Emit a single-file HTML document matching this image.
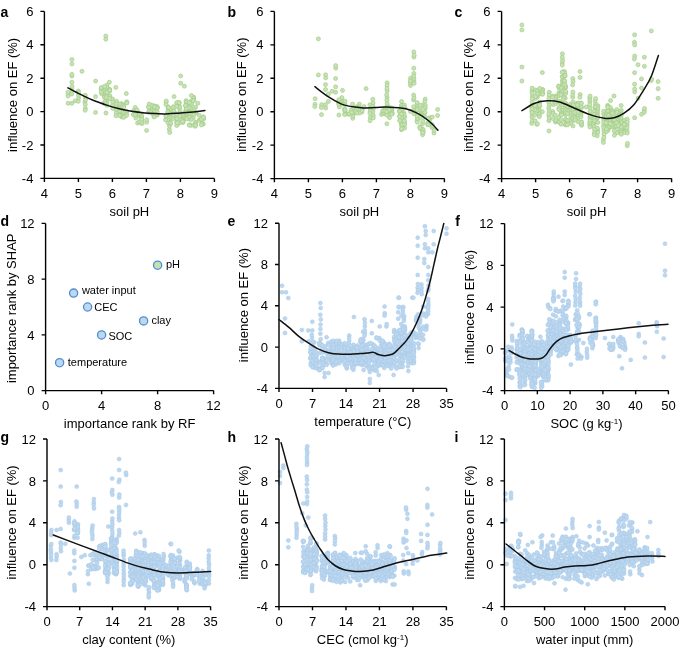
<!DOCTYPE html><html><head><meta charset="utf-8"><style>html,body{margin:0;padding:0;background:#fff;}svg{display:block;filter:blur(0.3px);}text{font-family:"Liberation Sans", sans-serif;}</style></head><body>
<svg width="685" height="656" viewBox="0 0 685 656">
<rect width="685" height="656" fill="#fff"/>
<g fill="#c8e2b7" stroke="#a3ce86" stroke-width="0.7"><circle cx="186" cy="105.8" r="2.0"/><circle cx="185.7" cy="114.5" r="2.0"/><circle cx="186.2" cy="109.7" r="2.0"/><circle cx="148.6" cy="112.4" r="2.0"/><circle cx="176.6" cy="118" r="2.0"/><circle cx="189.2" cy="113.6" r="2.0"/><circle cx="107" cy="99" r="2.0"/><circle cx="78.3" cy="91" r="2.0"/><circle cx="123.2" cy="113.6" r="2.0"/><circle cx="199.4" cy="119.8" r="2.0"/><circle cx="121.5" cy="103.6" r="2.0"/><circle cx="186" cy="102.7" r="2.0"/><circle cx="166.1" cy="102.1" r="2.0"/><circle cx="191.1" cy="101.7" r="2.0"/><circle cx="123.6" cy="105.3" r="2.0"/><circle cx="176.8" cy="115.6" r="2.0"/><circle cx="153.9" cy="105.7" r="2.0"/><circle cx="189.3" cy="109.1" r="2.0"/><circle cx="189.2" cy="114" r="2.0"/><circle cx="119.5" cy="114.3" r="2.0"/><circle cx="203.5" cy="118.7" r="2.0"/><circle cx="186.2" cy="108.5" r="2.0"/><circle cx="78.6" cy="92.9" r="2.0"/><circle cx="179.6" cy="109.4" r="2.0"/><circle cx="135.8" cy="115" r="2.0"/><circle cx="186.1" cy="100.7" r="2.0"/><circle cx="121.8" cy="115.3" r="2.0"/><circle cx="85.3" cy="97.4" r="2.0"/><circle cx="179.3" cy="106" r="2.0"/><circle cx="119.3" cy="109.5" r="2.0"/><circle cx="189.4" cy="119.1" r="2.0"/><circle cx="121.8" cy="117" r="2.0"/><circle cx="173.3" cy="108.9" r="2.0"/><circle cx="105.8" cy="36" r="2.0"/><circle cx="177" cy="103.2" r="2.0"/><circle cx="109.7" cy="96.3" r="2.0"/><circle cx="188.9" cy="111.3" r="2.0"/><circle cx="166.2" cy="119.2" r="2.0"/><circle cx="191.4" cy="102.7" r="2.0"/><circle cx="166.2" cy="116.6" r="2.0"/><circle cx="71.8" cy="88.7" r="2.0"/><circle cx="195.6" cy="107.2" r="2.0"/><circle cx="170.8" cy="119.2" r="2.0"/><circle cx="169.3" cy="129.4" r="2.0"/><circle cx="183" cy="120.7" r="2.0"/><circle cx="116.6" cy="101.3" r="2.0"/><circle cx="149" cy="106.3" r="2.0"/><circle cx="126.7" cy="111.6" r="2.0"/><circle cx="135.7" cy="118" r="2.0"/><circle cx="170.5" cy="112.5" r="2.0"/><circle cx="101.1" cy="89.1" r="2.0"/><circle cx="193.2" cy="111.8" r="2.0"/><circle cx="182.5" cy="118.4" r="2.0"/><circle cx="151.3" cy="106.4" r="2.0"/><circle cx="107" cy="88.6" r="2.0"/><circle cx="168.2" cy="108" r="2.0"/><circle cx="106.4" cy="88.2" r="2.0"/><circle cx="139.7" cy="122.2" r="2.0"/><circle cx="199.6" cy="120.5" r="2.0"/><circle cx="105" cy="102.5" r="2.0"/><circle cx="185.7" cy="116.9" r="2.0"/><circle cx="71.9" cy="59.4" r="2.0"/><circle cx="167.8" cy="112.1" r="2.0"/><circle cx="173.3" cy="118.6" r="2.0"/><circle cx="179.8" cy="122.8" r="2.0"/><circle cx="84.9" cy="102.1" r="2.0"/><circle cx="166.1" cy="104.6" r="2.0"/><circle cx="104.7" cy="103.4" r="2.0"/><circle cx="166.3" cy="101" r="2.0"/><circle cx="154.1" cy="109.6" r="2.0"/><circle cx="123.2" cy="107.7" r="2.0"/><circle cx="186.6" cy="102.1" r="2.0"/><circle cx="106.6" cy="104.1" r="2.0"/><circle cx="193.7" cy="112.8" r="2.0"/><circle cx="151.4" cy="108.7" r="2.0"/><circle cx="166.2" cy="119" r="2.0"/><circle cx="185.6" cy="118.3" r="2.0"/><circle cx="109.6" cy="98.5" r="2.0"/><circle cx="195.5" cy="122.1" r="2.0"/><circle cx="193.6" cy="113.4" r="2.0"/><circle cx="189.1" cy="113.4" r="2.0"/><circle cx="193.2" cy="117.8" r="2.0"/><circle cx="185.8" cy="106.1" r="2.0"/><circle cx="151.5" cy="110.2" r="2.0"/><circle cx="116.1" cy="109.7" r="2.0"/><circle cx="176.5" cy="122" r="2.0"/><circle cx="168.3" cy="109.1" r="2.0"/><circle cx="169.5" cy="126" r="2.0"/><circle cx="201.7" cy="119.6" r="2.0"/><circle cx="68.3" cy="94.2" r="2.0"/><circle cx="71.8" cy="103.3" r="2.0"/><circle cx="135.2" cy="107.4" r="2.0"/><circle cx="121.2" cy="107" r="2.0"/><circle cx="177.1" cy="115" r="2.0"/><circle cx="188.9" cy="109.6" r="2.0"/><circle cx="203.4" cy="124.1" r="2.0"/><circle cx="95.6" cy="81" r="2.0"/><circle cx="106.7" cy="89.2" r="2.0"/><circle cx="173.4" cy="112.5" r="2.0"/><circle cx="183.1" cy="116.9" r="2.0"/><circle cx="137.6" cy="123.1" r="2.0"/><circle cx="199.2" cy="115.3" r="2.0"/><circle cx="104.4" cy="90.3" r="2.0"/><circle cx="71.9" cy="76" r="2.0"/><circle cx="101.5" cy="87.8" r="2.0"/><circle cx="116.6" cy="106.9" r="2.0"/><circle cx="85.3" cy="104.4" r="2.0"/><circle cx="180.7" cy="83.2" r="2.0"/><circle cx="154.3" cy="111.3" r="2.0"/><circle cx="141.8" cy="119.8" r="2.0"/><circle cx="195.3" cy="124.9" r="2.0"/><circle cx="189.4" cy="104.4" r="2.0"/><circle cx="191.1" cy="113.8" r="2.0"/><circle cx="104.9" cy="102.9" r="2.0"/><circle cx="123.6" cy="112.6" r="2.0"/><circle cx="106.8" cy="97.8" r="2.0"/><circle cx="173.5" cy="106.7" r="2.0"/><circle cx="189" cy="112.3" r="2.0"/><circle cx="109.8" cy="95.9" r="2.0"/><circle cx="142" cy="123.6" r="2.0"/><circle cx="154.4" cy="106.8" r="2.0"/><circle cx="191.2" cy="119.5" r="2.0"/><circle cx="168.5" cy="120.7" r="2.0"/><circle cx="109.7" cy="91.2" r="2.0"/><circle cx="139.2" cy="121.8" r="2.0"/><circle cx="136.8" cy="110.4" r="2.0"/><circle cx="85.3" cy="108.3" r="2.0"/><circle cx="202" cy="123.7" r="2.0"/><circle cx="195.8" cy="112.4" r="2.0"/><circle cx="174" cy="96.6" r="2.0"/><circle cx="151" cy="107.2" r="2.0"/><circle cx="149.2" cy="110.9" r="2.0"/><circle cx="201.4" cy="125" r="2.0"/><circle cx="141.7" cy="122.1" r="2.0"/><circle cx="95.5" cy="112.4" r="2.0"/><circle cx="195.4" cy="113" r="2.0"/><circle cx="168.3" cy="107" r="2.0"/><circle cx="179.9" cy="107" r="2.0"/><circle cx="106.6" cy="95.9" r="2.0"/><circle cx="180.7" cy="75.9" r="2.0"/><circle cx="126.8" cy="101.8" r="2.0"/><circle cx="177.2" cy="124.9" r="2.0"/><circle cx="115.8" cy="87.4" r="2.0"/><circle cx="104.4" cy="90.9" r="2.0"/><circle cx="149" cy="105.9" r="2.0"/><circle cx="104.7" cy="97.2" r="2.0"/><circle cx="148.7" cy="107.4" r="2.0"/><circle cx="107" cy="101" r="2.0"/><circle cx="167.9" cy="112" r="2.0"/><circle cx="139.4" cy="116.1" r="2.0"/><circle cx="141.6" cy="117.1" r="2.0"/><circle cx="203.4" cy="116.8" r="2.0"/><circle cx="193.7" cy="97.2" r="2.0"/><circle cx="71.6" cy="91.7" r="2.0"/><circle cx="126.6" cy="102.6" r="2.0"/><circle cx="141.6" cy="119.2" r="2.0"/><circle cx="153.8" cy="115.7" r="2.0"/><circle cx="146.6" cy="122.3" r="2.0"/><circle cx="78.6" cy="98.1" r="2.0"/><circle cx="104.9" cy="94.2" r="2.0"/><circle cx="157.1" cy="115.2" r="2.0"/><circle cx="104.5" cy="93.2" r="2.0"/><circle cx="95.5" cy="96.6" r="2.0"/><circle cx="170.4" cy="123.8" r="2.0"/><circle cx="71.9" cy="74.3" r="2.0"/><circle cx="168.3" cy="107.7" r="2.0"/><circle cx="141.6" cy="115.4" r="2.0"/><circle cx="168.5" cy="107.5" r="2.0"/><circle cx="186.6" cy="101.7" r="2.0"/><circle cx="137.3" cy="112.1" r="2.0"/><circle cx="186.6" cy="109.6" r="2.0"/><circle cx="173.6" cy="107.4" r="2.0"/><circle cx="179.3" cy="102.6" r="2.0"/><circle cx="112.6" cy="105.3" r="2.0"/><circle cx="167.8" cy="119.7" r="2.0"/><circle cx="151.6" cy="105.3" r="2.0"/><circle cx="146.7" cy="119.8" r="2.0"/><circle cx="186.7" cy="107.9" r="2.0"/><circle cx="179.5" cy="116.1" r="2.0"/><circle cx="189" cy="117" r="2.0"/><circle cx="195.6" cy="123.9" r="2.0"/><circle cx="191.4" cy="125.3" r="2.0"/><circle cx="168.3" cy="114.8" r="2.0"/><circle cx="170.9" cy="115.2" r="2.0"/><circle cx="101.6" cy="93.7" r="2.0"/><circle cx="169.7" cy="132.5" r="2.0"/><circle cx="157.4" cy="107.6" r="2.0"/><circle cx="193.6" cy="98" r="2.0"/><circle cx="179.9" cy="118.8" r="2.0"/><circle cx="135.8" cy="113.2" r="2.0"/><circle cx="71.9" cy="63.9" r="2.0"/><circle cx="121.7" cy="111.3" r="2.0"/><circle cx="173.9" cy="111.3" r="2.0"/><circle cx="183.1" cy="122" r="2.0"/><circle cx="193.5" cy="110.3" r="2.0"/><circle cx="116.3" cy="112.9" r="2.0"/><circle cx="119.5" cy="115.5" r="2.0"/><circle cx="116" cy="115.7" r="2.0"/><circle cx="123.2" cy="116.7" r="2.0"/><circle cx="104.6" cy="96.4" r="2.0"/><circle cx="193.8" cy="100.4" r="2.0"/><circle cx="165.6" cy="120" r="2.0"/><circle cx="186.6" cy="107.6" r="2.0"/><circle cx="179.9" cy="115.7" r="2.0"/><circle cx="170.2" cy="113.6" r="2.0"/><circle cx="176.7" cy="125.4" r="2.0"/><circle cx="137" cy="110" r="2.0"/><circle cx="72" cy="86.4" r="2.0"/><circle cx="189" cy="113.2" r="2.0"/><circle cx="101.2" cy="91.9" r="2.0"/><circle cx="101.3" cy="87.8" r="2.0"/><circle cx="119.5" cy="111" r="2.0"/><circle cx="149.2" cy="104.1" r="2.0"/><circle cx="203.4" cy="119.2" r="2.0"/><circle cx="139.5" cy="114.1" r="2.0"/><circle cx="85.2" cy="110.3" r="2.0"/><circle cx="82" cy="71.3" r="2.0"/><circle cx="165.9" cy="116" r="2.0"/><circle cx="183" cy="115.7" r="2.0"/><circle cx="156.8" cy="106.4" r="2.0"/><circle cx="177.2" cy="103.5" r="2.0"/><circle cx="119.6" cy="106.6" r="2.0"/><circle cx="153.9" cy="115" r="2.0"/><circle cx="176.9" cy="102.5" r="2.0"/><circle cx="151.6" cy="113" r="2.0"/><circle cx="112.7" cy="99" r="2.0"/><circle cx="195.2" cy="126.3" r="2.0"/><circle cx="71.9" cy="82.2" r="2.0"/><circle cx="186.8" cy="118.7" r="2.0"/><circle cx="106.8" cy="85.2" r="2.0"/><circle cx="106.6" cy="94.2" r="2.0"/><circle cx="107" cy="105.3" r="2.0"/><circle cx="148.8" cy="107.2" r="2.0"/><circle cx="139.5" cy="113.8" r="2.0"/><circle cx="107" cy="87.4" r="2.0"/><circle cx="191.4" cy="104.6" r="2.0"/><circle cx="179.4" cy="113.1" r="2.0"/><circle cx="105.8" cy="39.2" r="2.0"/><circle cx="156.9" cy="107.8" r="2.0"/><circle cx="157" cy="108" r="2.0"/><circle cx="109.6" cy="89.3" r="2.0"/><circle cx="193.9" cy="108.9" r="2.0"/><circle cx="182.8" cy="122.4" r="2.0"/><circle cx="168.2" cy="122.9" r="2.0"/><circle cx="85.5" cy="100" r="2.0"/><circle cx="126.6" cy="114.3" r="2.0"/><circle cx="133.5" cy="110.7" r="2.0"/><circle cx="126.9" cy="103" r="2.0"/><circle cx="191.3" cy="108.9" r="2.0"/><circle cx="182.6" cy="121.6" r="2.0"/><circle cx="183" cy="114.4" r="2.0"/><circle cx="133.2" cy="114.5" r="2.0"/><circle cx="179.5" cy="116.4" r="2.0"/><circle cx="71.7" cy="94" r="2.0"/><circle cx="176.6" cy="106.4" r="2.0"/><circle cx="157.2" cy="111.8" r="2.0"/><circle cx="176.8" cy="116.6" r="2.0"/><circle cx="75.2" cy="100.9" r="2.0"/><circle cx="173.7" cy="114.9" r="2.0"/><circle cx="189" cy="107.8" r="2.0"/><circle cx="189.5" cy="124.8" r="2.0"/><circle cx="193.9" cy="114.7" r="2.0"/><circle cx="170.6" cy="123.1" r="2.0"/><circle cx="135.3" cy="114.7" r="2.0"/><circle cx="68.1" cy="96.1" r="2.0"/><circle cx="106.6" cy="95.8" r="2.0"/><circle cx="121.1" cy="108.3" r="2.0"/><circle cx="104.6" cy="97.1" r="2.0"/><circle cx="78.3" cy="101.3" r="2.0"/><circle cx="109.4" cy="82.2" r="2.0"/><circle cx="185.6" cy="111.4" r="2.0"/><circle cx="201.5" cy="119.2" r="2.0"/><circle cx="156.8" cy="114.4" r="2.0"/><circle cx="112.7" cy="108.4" r="2.0"/><circle cx="185.7" cy="111.7" r="2.0"/><circle cx="150.9" cy="112.3" r="2.0"/><circle cx="67.9" cy="92.2" r="2.0"/><circle cx="104.9" cy="101.4" r="2.0"/><circle cx="121.7" cy="105.4" r="2.0"/><circle cx="191.4" cy="100.9" r="2.0"/><circle cx="177.2" cy="122.9" r="2.0"/><circle cx="191.6" cy="103.6" r="2.0"/><circle cx="106.9" cy="103.1" r="2.0"/><circle cx="179.1" cy="102.7" r="2.0"/><circle cx="126.3" cy="93.6" r="2.0"/><circle cx="126.5" cy="115.5" r="2.0"/><circle cx="184.4" cy="86.2" r="2.0"/><circle cx="186.2" cy="113.2" r="2.0"/><circle cx="186" cy="112" r="2.0"/><circle cx="123.6" cy="107" r="2.0"/><circle cx="179.6" cy="115.9" r="2.0"/><circle cx="106" cy="113" r="2.0"/><circle cx="112.6" cy="101.9" r="2.0"/><circle cx="154.2" cy="116.9" r="2.0"/><circle cx="85.2" cy="95.2" r="2.0"/><circle cx="186.3" cy="108.6" r="2.0"/><circle cx="193.2" cy="100.7" r="2.0"/><circle cx="195.5" cy="125.2" r="2.0"/><circle cx="154.3" cy="106.9" r="2.0"/><circle cx="109.7" cy="89.9" r="2.0"/><circle cx="106.4" cy="97.6" r="2.0"/><circle cx="176.5" cy="113.9" r="2.0"/><circle cx="176.9" cy="118.6" r="2.0"/><circle cx="104.6" cy="86.4" r="2.0"/><circle cx="191.4" cy="95.5" r="2.0"/><circle cx="197.8" cy="103.3" r="2.0"/><circle cx="182.8" cy="113" r="2.0"/><circle cx="119.6" cy="104" r="2.0"/><circle cx="203.6" cy="117.6" r="2.0"/><circle cx="109.7" cy="90.2" r="2.0"/><circle cx="189.2" cy="102.6" r="2.0"/><circle cx="116.2" cy="103.9" r="2.0"/><circle cx="78.5" cy="95.4" r="2.0"/><circle cx="123.9" cy="117.3" r="2.0"/><circle cx="146.6" cy="130.5" r="2.0"/><circle cx="104.9" cy="103.5" r="2.0"/><circle cx="189.3" cy="125.3" r="2.0"/><circle cx="68.1" cy="103.3" r="2.0"/><circle cx="109.7" cy="98.3" r="2.0"/><circle cx="193.4" cy="111.7" r="2.0"/><circle cx="185.5" cy="105.4" r="2.0"/><circle cx="106.9" cy="92.3" r="2.0"/></g>
<g fill="#c8e2b7" stroke="#a3ce86" stroke-width="0.7"><circle cx="359.4" cy="104.1" r="2.0"/><circle cx="422.6" cy="129.3" r="2.0"/><circle cx="348.6" cy="114.3" r="2.0"/><circle cx="389" cy="108.6" r="2.0"/><circle cx="356.8" cy="106.9" r="2.0"/><circle cx="429.8" cy="117.7" r="2.0"/><circle cx="404.6" cy="123" r="2.0"/><circle cx="422.5" cy="123.9" r="2.0"/><circle cx="404.6" cy="116.9" r="2.0"/><circle cx="315.1" cy="98.7" r="2.0"/><circle cx="422.8" cy="131.5" r="2.0"/><circle cx="385.1" cy="113.4" r="2.0"/><circle cx="413.9" cy="80.9" r="2.0"/><circle cx="401.6" cy="106.2" r="2.0"/><circle cx="358.8" cy="108.6" r="2.0"/><circle cx="373" cy="111.7" r="2.0"/><circle cx="429.7" cy="119.8" r="2.0"/><circle cx="420.5" cy="114.3" r="2.0"/><circle cx="359.2" cy="110.6" r="2.0"/><circle cx="416.9" cy="109.9" r="2.0"/><circle cx="414.1" cy="83.3" r="2.0"/><circle cx="404.2" cy="117.5" r="2.0"/><circle cx="345" cy="104.4" r="2.0"/><circle cx="401.5" cy="105.2" r="2.0"/><circle cx="345" cy="111.2" r="2.0"/><circle cx="386.8" cy="112.4" r="2.0"/><circle cx="423.2" cy="115.6" r="2.0"/><circle cx="424.7" cy="112.9" r="2.0"/><circle cx="423.2" cy="111.7" r="2.0"/><circle cx="391.7" cy="109.4" r="2.0"/><circle cx="344.8" cy="114.1" r="2.0"/><circle cx="422.7" cy="129.6" r="2.0"/><circle cx="434" cy="133.1" r="2.0"/><circle cx="420.5" cy="128.8" r="2.0"/><circle cx="315" cy="104.3" r="2.0"/><circle cx="335.6" cy="92.2" r="2.0"/><circle cx="353.4" cy="114.2" r="2.0"/><circle cx="321.6" cy="104.7" r="2.0"/><circle cx="362.3" cy="108.8" r="2.0"/><circle cx="381.6" cy="114.5" r="2.0"/><circle cx="384.6" cy="113.5" r="2.0"/><circle cx="370.2" cy="108.9" r="2.0"/><circle cx="413.6" cy="106.8" r="2.0"/><circle cx="361.8" cy="112.1" r="2.0"/><circle cx="391.8" cy="111.1" r="2.0"/><circle cx="392.2" cy="113.7" r="2.0"/><circle cx="386.6" cy="114.2" r="2.0"/><circle cx="372.8" cy="99.3" r="2.0"/><circle cx="321.3" cy="107.5" r="2.0"/><circle cx="385" cy="109.1" r="2.0"/><circle cx="410.5" cy="111.6" r="2.0"/><circle cx="384.6" cy="108.3" r="2.0"/><circle cx="344.5" cy="108.9" r="2.0"/><circle cx="428.2" cy="118.6" r="2.0"/><circle cx="404.6" cy="128" r="2.0"/><circle cx="402.1" cy="106.9" r="2.0"/><circle cx="401.8" cy="124.7" r="2.0"/><circle cx="413.5" cy="99.9" r="2.0"/><circle cx="387" cy="97.6" r="2.0"/><circle cx="325.7" cy="77.8" r="2.0"/><circle cx="352.6" cy="104.1" r="2.0"/><circle cx="356.3" cy="109.3" r="2.0"/><circle cx="369.9" cy="104.8" r="2.0"/><circle cx="413.8" cy="68.2" r="2.0"/><circle cx="387.1" cy="91" r="2.0"/><circle cx="341.3" cy="101" r="2.0"/><circle cx="423.2" cy="130" r="2.0"/><circle cx="402.2" cy="121.7" r="2.0"/><circle cx="328.4" cy="101.4" r="2.0"/><circle cx="423.1" cy="132.4" r="2.0"/><circle cx="321.5" cy="114.6" r="2.0"/><circle cx="386.4" cy="111.1" r="2.0"/><circle cx="434" cy="130.3" r="2.0"/><circle cx="417.7" cy="107.2" r="2.0"/><circle cx="420.1" cy="116.8" r="2.0"/><circle cx="413.6" cy="95.1" r="2.0"/><circle cx="427.7" cy="123.1" r="2.0"/><circle cx="410.5" cy="78.2" r="2.0"/><circle cx="413.9" cy="78.6" r="2.0"/><circle cx="373.4" cy="108.5" r="2.0"/><circle cx="387.1" cy="82.8" r="2.0"/><circle cx="389.6" cy="113.7" r="2.0"/><circle cx="341.4" cy="101.9" r="2.0"/><circle cx="402.1" cy="124.7" r="2.0"/><circle cx="318.4" cy="38.8" r="2.0"/><circle cx="399.9" cy="115.9" r="2.0"/><circle cx="401.5" cy="124.1" r="2.0"/><circle cx="401.8" cy="105.4" r="2.0"/><circle cx="370.3" cy="117.6" r="2.0"/><circle cx="335.8" cy="68.2" r="2.0"/><circle cx="401.5" cy="129.7" r="2.0"/><circle cx="401.6" cy="118" r="2.0"/><circle cx="437.6" cy="115.5" r="2.0"/><circle cx="425.2" cy="108.4" r="2.0"/><circle cx="325.5" cy="89.5" r="2.0"/><circle cx="370.3" cy="111.2" r="2.0"/><circle cx="373" cy="103" r="2.0"/><circle cx="410.5" cy="85.5" r="2.0"/><circle cx="399.4" cy="110.9" r="2.0"/><circle cx="410.3" cy="82.8" r="2.0"/><circle cx="417" cy="120.7" r="2.0"/><circle cx="352.4" cy="110.4" r="2.0"/><circle cx="382.7" cy="112.2" r="2.0"/><circle cx="325.6" cy="74.8" r="2.0"/><circle cx="399.4" cy="116.4" r="2.0"/><circle cx="417.1" cy="104.5" r="2.0"/><circle cx="422.7" cy="110.3" r="2.0"/><circle cx="341.7" cy="104.2" r="2.0"/><circle cx="399.6" cy="111.6" r="2.0"/><circle cx="417.1" cy="102.6" r="2.0"/><circle cx="348.8" cy="113.9" r="2.0"/><circle cx="363.8" cy="107.1" r="2.0"/><circle cx="351.1" cy="109.9" r="2.0"/><circle cx="335.6" cy="86.8" r="2.0"/><circle cx="387" cy="108.1" r="2.0"/><circle cx="328.4" cy="94" r="2.0"/><circle cx="401.8" cy="109.3" r="2.0"/><circle cx="362" cy="110.7" r="2.0"/><circle cx="387.1" cy="85.4" r="2.0"/><circle cx="344.9" cy="110.2" r="2.0"/><circle cx="402" cy="123.2" r="2.0"/><circle cx="403.8" cy="112.9" r="2.0"/><circle cx="413.8" cy="51.9" r="2.0"/><circle cx="372.8" cy="106.2" r="2.0"/><circle cx="352.7" cy="118.3" r="2.0"/><circle cx="335.6" cy="65.6" r="2.0"/><circle cx="404.2" cy="124.7" r="2.0"/><circle cx="391.8" cy="109.4" r="2.0"/><circle cx="383.3" cy="112.3" r="2.0"/><circle cx="401.8" cy="107.9" r="2.0"/><circle cx="404.1" cy="120.8" r="2.0"/><circle cx="386.9" cy="100.2" r="2.0"/><circle cx="345" cy="109.9" r="2.0"/><circle cx="387.2" cy="106" r="2.0"/><circle cx="429.8" cy="123.7" r="2.0"/><circle cx="419.7" cy="115" r="2.0"/><circle cx="413.9" cy="73.4" r="2.0"/><circle cx="342.5" cy="90.4" r="2.0"/><circle cx="414" cy="98" r="2.0"/><circle cx="366.1" cy="88.6" r="2.0"/><circle cx="386.9" cy="111.9" r="2.0"/><circle cx="419.9" cy="126.8" r="2.0"/><circle cx="349.1" cy="114" r="2.0"/><circle cx="403.9" cy="124.6" r="2.0"/><circle cx="392.1" cy="113.3" r="2.0"/><circle cx="417.6" cy="119" r="2.0"/><circle cx="369.9" cy="113.5" r="2.0"/><circle cx="401.6" cy="108.7" r="2.0"/><circle cx="422.6" cy="105.4" r="2.0"/><circle cx="373.2" cy="115.4" r="2.0"/><circle cx="424.9" cy="112.3" r="2.0"/><circle cx="339.2" cy="102.3" r="2.0"/><circle cx="341.5" cy="100.4" r="2.0"/><circle cx="413.6" cy="76" r="2.0"/><circle cx="422.6" cy="134.7" r="2.0"/><circle cx="399.7" cy="120.4" r="2.0"/><circle cx="359.4" cy="113.1" r="2.0"/><circle cx="417.4" cy="115.4" r="2.0"/><circle cx="386.9" cy="123.8" r="2.0"/><circle cx="431.9" cy="127.3" r="2.0"/><circle cx="417.6" cy="118.7" r="2.0"/><circle cx="427.8" cy="124.6" r="2.0"/><circle cx="404.4" cy="105" r="2.0"/><circle cx="417.1" cy="115.4" r="2.0"/><circle cx="432" cy="124.5" r="2.0"/><circle cx="402" cy="127" r="2.0"/><circle cx="404.4" cy="108" r="2.0"/><circle cx="420" cy="109.9" r="2.0"/><circle cx="325.5" cy="84.6" r="2.0"/><circle cx="422.8" cy="121.2" r="2.0"/><circle cx="414" cy="113.7" r="2.0"/><circle cx="404.1" cy="121.7" r="2.0"/><circle cx="420.3" cy="115.8" r="2.0"/><circle cx="332.1" cy="91.3" r="2.0"/><circle cx="420.3" cy="117.4" r="2.0"/><circle cx="339.3" cy="102.2" r="2.0"/><circle cx="388.9" cy="108.7" r="2.0"/><circle cx="389.5" cy="117.7" r="2.0"/><circle cx="413.8" cy="110.5" r="2.0"/><circle cx="401.5" cy="101.5" r="2.0"/><circle cx="353.1" cy="114" r="2.0"/><circle cx="432.5" cy="125.5" r="2.0"/><circle cx="325.7" cy="108.1" r="2.0"/><circle cx="325.4" cy="104.7" r="2.0"/><circle cx="419.8" cy="128" r="2.0"/><circle cx="341.9" cy="97.6" r="2.0"/><circle cx="417.4" cy="122.2" r="2.0"/><circle cx="420.1" cy="105.1" r="2.0"/><circle cx="401.9" cy="126.4" r="2.0"/><circle cx="338.8" cy="100.6" r="2.0"/><circle cx="345" cy="101.2" r="2.0"/><circle cx="387.1" cy="103.5" r="2.0"/><circle cx="356.9" cy="113" r="2.0"/><circle cx="428.1" cy="124.7" r="2.0"/><circle cx="387" cy="115.2" r="2.0"/><circle cx="352.7" cy="115.8" r="2.0"/><circle cx="382.7" cy="110.7" r="2.0"/><circle cx="335.6" cy="78.5" r="2.0"/><circle cx="422.7" cy="132.6" r="2.0"/><circle cx="424.9" cy="116.9" r="2.0"/><circle cx="410.4" cy="80.9" r="2.0"/><circle cx="370" cy="120.7" r="2.0"/><circle cx="364.1" cy="106.6" r="2.0"/><circle cx="386.4" cy="110.7" r="2.0"/><circle cx="358.8" cy="106.8" r="2.0"/><circle cx="339.3" cy="106.9" r="2.0"/><circle cx="373.3" cy="117.9" r="2.0"/><circle cx="389" cy="107.1" r="2.0"/><circle cx="432.3" cy="117.1" r="2.0"/><circle cx="402" cy="124.4" r="2.0"/><circle cx="399.9" cy="111.8" r="2.0"/><circle cx="352.6" cy="112.8" r="2.0"/><circle cx="413.9" cy="57.1" r="2.0"/><circle cx="338.6" cy="104" r="2.0"/><circle cx="391.6" cy="114.2" r="2.0"/><circle cx="425.3" cy="105.4" r="2.0"/><circle cx="401.6" cy="128.8" r="2.0"/><circle cx="404.1" cy="114.1" r="2.0"/><circle cx="417.1" cy="110" r="2.0"/><circle cx="344.7" cy="114.5" r="2.0"/><circle cx="389.2" cy="107.7" r="2.0"/><circle cx="414.1" cy="55.2" r="2.0"/><circle cx="425.2" cy="99.1" r="2.0"/><circle cx="400" cy="120.6" r="2.0"/><circle cx="344.9" cy="110" r="2.0"/><circle cx="318.4" cy="74.9" r="2.0"/><circle cx="417.1" cy="109.7" r="2.0"/><circle cx="391.7" cy="108" r="2.0"/><circle cx="356.4" cy="107.2" r="2.0"/><circle cx="353.4" cy="107.5" r="2.0"/><circle cx="437.6" cy="109.4" r="2.0"/><circle cx="401.7" cy="113.6" r="2.0"/><circle cx="424.7" cy="107.6" r="2.0"/><circle cx="389.3" cy="109.9" r="2.0"/><circle cx="338.9" cy="115" r="2.0"/><circle cx="386.7" cy="94.9" r="2.0"/><circle cx="401.6" cy="114.1" r="2.0"/><circle cx="314.8" cy="106.6" r="2.0"/><circle cx="384.9" cy="111" r="2.0"/><circle cx="339" cy="99.6" r="2.0"/><circle cx="424.7" cy="101.7" r="2.0"/><circle cx="386.8" cy="111.7" r="2.0"/><circle cx="351.7" cy="112.5" r="2.0"/><circle cx="404.6" cy="107.4" r="2.0"/><circle cx="404.4" cy="124.2" r="2.0"/><circle cx="423" cy="109.4" r="2.0"/><circle cx="404.2" cy="120.9" r="2.0"/><circle cx="417.2" cy="116.2" r="2.0"/><circle cx="387" cy="88.6" r="2.0"/></g>
<g fill="#c8e2b7" stroke="#a3ce86" stroke-width="0.7"><circle cx="624.1" cy="131.3" r="2.0"/><circle cx="581.6" cy="107.6" r="2.0"/><circle cx="565.2" cy="98.2" r="2.0"/><circle cx="572.7" cy="97.3" r="2.0"/><circle cx="572.8" cy="78.6" r="2.0"/><circle cx="559.1" cy="92.6" r="2.0"/><circle cx="565.4" cy="111.2" r="2.0"/><circle cx="610.3" cy="109" r="2.0"/><circle cx="618.7" cy="127.1" r="2.0"/><circle cx="571.2" cy="117" r="2.0"/><circle cx="578.2" cy="103.1" r="2.0"/><circle cx="555.5" cy="122" r="2.0"/><circle cx="562.2" cy="76.7" r="2.0"/><circle cx="595.7" cy="121" r="2.0"/><circle cx="542.3" cy="93.3" r="2.0"/><circle cx="621" cy="113.4" r="2.0"/><circle cx="594.3" cy="123.3" r="2.0"/><circle cx="589.9" cy="101.8" r="2.0"/><circle cx="570.9" cy="104.9" r="2.0"/><circle cx="618.3" cy="120.8" r="2.0"/><circle cx="537.2" cy="107.8" r="2.0"/><circle cx="603.6" cy="114.1" r="2.0"/><circle cx="565.3" cy="120.7" r="2.0"/><circle cx="558.4" cy="101.3" r="2.0"/><circle cx="531.7" cy="123.4" r="2.0"/><circle cx="521.9" cy="67.1" r="2.0"/><circle cx="577.6" cy="116.7" r="2.0"/><circle cx="535.3" cy="98.4" r="2.0"/><circle cx="580" cy="71.5" r="2.0"/><circle cx="608.4" cy="128.6" r="2.0"/><circle cx="562.6" cy="80.2" r="2.0"/><circle cx="577.9" cy="115" r="2.0"/><circle cx="614" cy="122.4" r="2.0"/><circle cx="558.8" cy="122" r="2.0"/><circle cx="542.7" cy="89.4" r="2.0"/><circle cx="634.6" cy="72.7" r="2.0"/><circle cx="595.8" cy="121.7" r="2.0"/><circle cx="558.8" cy="117.5" r="2.0"/><circle cx="532" cy="90.8" r="2.0"/><circle cx="539.2" cy="105.6" r="2.0"/><circle cx="575.1" cy="119.3" r="2.0"/><circle cx="548.8" cy="102.4" r="2.0"/><circle cx="620.9" cy="119.8" r="2.0"/><circle cx="607.7" cy="105.4" r="2.0"/><circle cx="590.1" cy="114.6" r="2.0"/><circle cx="565" cy="75.9" r="2.0"/><circle cx="521.9" cy="81" r="2.0"/><circle cx="580.8" cy="113.5" r="2.0"/><circle cx="565.2" cy="86.1" r="2.0"/><circle cx="537.4" cy="96.9" r="2.0"/><circle cx="614.2" cy="126.9" r="2.0"/><circle cx="542.3" cy="93.5" r="2.0"/><circle cx="634.7" cy="56.1" r="2.0"/><circle cx="644.4" cy="57.2" r="2.0"/><circle cx="612.6" cy="115.9" r="2.0"/><circle cx="532.1" cy="102.2" r="2.0"/><circle cx="571.2" cy="109.3" r="2.0"/><circle cx="555.8" cy="96.1" r="2.0"/><circle cx="539.3" cy="110.1" r="2.0"/><circle cx="561" cy="87.6" r="2.0"/><circle cx="624.2" cy="128" r="2.0"/><circle cx="558.8" cy="108.8" r="2.0"/><circle cx="567.7" cy="120.7" r="2.0"/><circle cx="575" cy="107.2" r="2.0"/><circle cx="603.4" cy="139.7" r="2.0"/><circle cx="610.6" cy="123.8" r="2.0"/><circle cx="594.3" cy="126.8" r="2.0"/><circle cx="607.7" cy="110.3" r="2.0"/><circle cx="606.2" cy="131.3" r="2.0"/><circle cx="578.2" cy="107.9" r="2.0"/><circle cx="610.6" cy="100.6" r="2.0"/><circle cx="612.1" cy="113.5" r="2.0"/><circle cx="609.9" cy="110.8" r="2.0"/><circle cx="604" cy="134" r="2.0"/><circle cx="618.7" cy="117.6" r="2.0"/><circle cx="561.1" cy="109.4" r="2.0"/><circle cx="612" cy="119.3" r="2.0"/><circle cx="560.9" cy="105.1" r="2.0"/><circle cx="607.8" cy="110" r="2.0"/><circle cx="575" cy="106.1" r="2.0"/><circle cx="567.6" cy="123" r="2.0"/><circle cx="627.2" cy="145.8" r="2.0"/><circle cx="610" cy="127" r="2.0"/><circle cx="612.5" cy="123.1" r="2.0"/><circle cx="627.5" cy="143.4" r="2.0"/><circle cx="634.4" cy="42.3" r="2.0"/><circle cx="539.2" cy="113.1" r="2.0"/><circle cx="616.8" cy="113.1" r="2.0"/><circle cx="549.3" cy="105.5" r="2.0"/><circle cx="605.8" cy="120.6" r="2.0"/><circle cx="575.4" cy="110.1" r="2.0"/><circle cx="563.4" cy="95.8" r="2.0"/><circle cx="571.3" cy="116.7" r="2.0"/><circle cx="565.6" cy="114" r="2.0"/><circle cx="531.9" cy="116.9" r="2.0"/><circle cx="644.3" cy="110.6" r="2.0"/><circle cx="560.9" cy="123.7" r="2.0"/><circle cx="618.2" cy="132.2" r="2.0"/><circle cx="614.7" cy="130.9" r="2.0"/><circle cx="607.9" cy="106.2" r="2.0"/><circle cx="581.1" cy="123.9" r="2.0"/><circle cx="624.4" cy="120.5" r="2.0"/><circle cx="573.4" cy="104.4" r="2.0"/><circle cx="612.3" cy="111.1" r="2.0"/><circle cx="594.1" cy="118.2" r="2.0"/><circle cx="621.4" cy="128.4" r="2.0"/><circle cx="573.3" cy="118.3" r="2.0"/><circle cx="658.1" cy="81.6" r="2.0"/><circle cx="565.4" cy="86.5" r="2.0"/><circle cx="577.8" cy="103.3" r="2.0"/><circle cx="590.1" cy="122.1" r="2.0"/><circle cx="610.3" cy="121.9" r="2.0"/><circle cx="565.5" cy="114.8" r="2.0"/><circle cx="621.3" cy="110.3" r="2.0"/><circle cx="575.2" cy="103.8" r="2.0"/><circle cx="562.6" cy="81" r="2.0"/><circle cx="573.6" cy="105.9" r="2.0"/><circle cx="532" cy="105.5" r="2.0"/><circle cx="610.4" cy="112" r="2.0"/><circle cx="605.8" cy="123.6" r="2.0"/><circle cx="539.2" cy="115.3" r="2.0"/><circle cx="616.6" cy="125.8" r="2.0"/><circle cx="618.5" cy="120" r="2.0"/><circle cx="563.6" cy="97.8" r="2.0"/><circle cx="603.4" cy="142.5" r="2.0"/><circle cx="559" cy="93.5" r="2.0"/><circle cx="572.7" cy="94.9" r="2.0"/><circle cx="558.9" cy="121.9" r="2.0"/><circle cx="561.2" cy="92.5" r="2.0"/><circle cx="532.3" cy="120.8" r="2.0"/><circle cx="531.9" cy="106.6" r="2.0"/><circle cx="597.6" cy="129.7" r="2.0"/><circle cx="563.7" cy="110.1" r="2.0"/><circle cx="581.6" cy="125.3" r="2.0"/><circle cx="603.7" cy="119.7" r="2.0"/><circle cx="570.7" cy="121.5" r="2.0"/><circle cx="624.2" cy="131.7" r="2.0"/><circle cx="552.8" cy="111.4" r="2.0"/><circle cx="565.4" cy="124.9" r="2.0"/><circle cx="614.1" cy="122" r="2.0"/><circle cx="595.7" cy="121.1" r="2.0"/><circle cx="623.9" cy="124" r="2.0"/><circle cx="610.5" cy="124.2" r="2.0"/><circle cx="590.3" cy="125.9" r="2.0"/><circle cx="558.5" cy="96" r="2.0"/><circle cx="609.9" cy="124.3" r="2.0"/><circle cx="658.1" cy="88.7" r="2.0"/><circle cx="555.9" cy="97.2" r="2.0"/><circle cx="612.3" cy="110.5" r="2.0"/><circle cx="573.5" cy="116.7" r="2.0"/><circle cx="562.6" cy="76.9" r="2.0"/><circle cx="595.1" cy="107.4" r="2.0"/><circle cx="562.4" cy="53.8" r="2.0"/><circle cx="616.8" cy="110.6" r="2.0"/><circle cx="553.2" cy="96.1" r="2.0"/><circle cx="542.4" cy="111.7" r="2.0"/><circle cx="536.9" cy="124.3" r="2.0"/><circle cx="595.1" cy="111.4" r="2.0"/><circle cx="641.5" cy="88" r="2.0"/><circle cx="620.9" cy="112.7" r="2.0"/><circle cx="564.5" cy="84.6" r="2.0"/><circle cx="603.7" cy="111.2" r="2.0"/><circle cx="573.2" cy="107.6" r="2.0"/><circle cx="586.3" cy="107.1" r="2.0"/><circle cx="548.9" cy="120.7" r="2.0"/><circle cx="621.1" cy="105.5" r="2.0"/><circle cx="608" cy="111.2" r="2.0"/><circle cx="573" cy="125.9" r="2.0"/><circle cx="618.3" cy="125.7" r="2.0"/><circle cx="577.9" cy="109.5" r="2.0"/><circle cx="536.9" cy="110.4" r="2.0"/><circle cx="616.6" cy="115.5" r="2.0"/><circle cx="549.3" cy="92.3" r="2.0"/><circle cx="573.6" cy="120.4" r="2.0"/><circle cx="542.4" cy="90.2" r="2.0"/><circle cx="553.4" cy="104.4" r="2.0"/><circle cx="621.1" cy="129.7" r="2.0"/><circle cx="565.8" cy="107.5" r="2.0"/><circle cx="605.7" cy="125.1" r="2.0"/><circle cx="621.1" cy="117.6" r="2.0"/><circle cx="563.4" cy="110.2" r="2.0"/><circle cx="559" cy="88" r="2.0"/><circle cx="563.6" cy="85.1" r="2.0"/><circle cx="532.5" cy="96" r="2.0"/><circle cx="563" cy="99.7" r="2.0"/><circle cx="595.6" cy="103.9" r="2.0"/><circle cx="610.6" cy="118.3" r="2.0"/><circle cx="555.9" cy="120.9" r="2.0"/><circle cx="562.5" cy="86.4" r="2.0"/><circle cx="561.3" cy="93.9" r="2.0"/><circle cx="590" cy="117.1" r="2.0"/><circle cx="562.9" cy="82.3" r="2.0"/><circle cx="539.6" cy="102" r="2.0"/><circle cx="563.4" cy="87" r="2.0"/><circle cx="564.7" cy="76" r="2.0"/><circle cx="608.2" cy="124.5" r="2.0"/><circle cx="590" cy="111.2" r="2.0"/><circle cx="638" cy="64.7" r="2.0"/><circle cx="571.3" cy="107.3" r="2.0"/><circle cx="614" cy="96" r="2.0"/><circle cx="597.4" cy="113.1" r="2.0"/><circle cx="607.7" cy="126.4" r="2.0"/><circle cx="618.4" cy="122.7" r="2.0"/><circle cx="537.4" cy="123.8" r="2.0"/><circle cx="621.3" cy="133.5" r="2.0"/><circle cx="570.5" cy="112.6" r="2.0"/><circle cx="564.5" cy="73.8" r="2.0"/><circle cx="614.4" cy="123.4" r="2.0"/><circle cx="634.6" cy="117.8" r="2.0"/><circle cx="580.2" cy="94.6" r="2.0"/><circle cx="595.2" cy="100.8" r="2.0"/><circle cx="539.5" cy="89.9" r="2.0"/><circle cx="531.9" cy="106.1" r="2.0"/><circle cx="567.4" cy="106.6" r="2.0"/><circle cx="627.2" cy="124.8" r="2.0"/><circle cx="548.9" cy="116" r="2.0"/><circle cx="627.1" cy="130.7" r="2.0"/><circle cx="532.3" cy="98.6" r="2.0"/><circle cx="564.4" cy="80.6" r="2.0"/><circle cx="570.7" cy="106.2" r="2.0"/><circle cx="567.8" cy="111.3" r="2.0"/><circle cx="595.6" cy="98.5" r="2.0"/><circle cx="607.8" cy="116.4" r="2.0"/><circle cx="539.7" cy="106.3" r="2.0"/><circle cx="570.5" cy="104.2" r="2.0"/><circle cx="597.4" cy="132.4" r="2.0"/><circle cx="564.6" cy="83.8" r="2.0"/><circle cx="634.6" cy="84.2" r="2.0"/><circle cx="564.4" cy="71.5" r="2.0"/><circle cx="570.8" cy="116.1" r="2.0"/><circle cx="618.3" cy="126.5" r="2.0"/><circle cx="608.3" cy="128.1" r="2.0"/><circle cx="577.9" cy="114.6" r="2.0"/><circle cx="562.3" cy="62.7" r="2.0"/><circle cx="603.7" cy="125.6" r="2.0"/><circle cx="624.4" cy="126.5" r="2.0"/><circle cx="565.6" cy="87.6" r="2.0"/><circle cx="589.8" cy="99.6" r="2.0"/><circle cx="608.1" cy="114.3" r="2.0"/><circle cx="565.4" cy="119.7" r="2.0"/><circle cx="620.8" cy="114.8" r="2.0"/><circle cx="612" cy="114.6" r="2.0"/><circle cx="621.1" cy="124.6" r="2.0"/><circle cx="614.3" cy="126.7" r="2.0"/><circle cx="624.2" cy="132.5" r="2.0"/><circle cx="539.7" cy="102.6" r="2.0"/><circle cx="607.8" cy="110.9" r="2.0"/><circle cx="558.5" cy="86.2" r="2.0"/><circle cx="616.4" cy="119.4" r="2.0"/><circle cx="610.2" cy="120.1" r="2.0"/><circle cx="597.9" cy="117.7" r="2.0"/><circle cx="532.4" cy="111.7" r="2.0"/><circle cx="536.9" cy="95.3" r="2.0"/><circle cx="614.4" cy="119.7" r="2.0"/><circle cx="606.4" cy="129.1" r="2.0"/><circle cx="565.5" cy="108.4" r="2.0"/><circle cx="644.5" cy="108.5" r="2.0"/><circle cx="597.5" cy="111.4" r="2.0"/><circle cx="621.1" cy="132.1" r="2.0"/><circle cx="534.8" cy="107.3" r="2.0"/><circle cx="562.5" cy="84.5" r="2.0"/><circle cx="581" cy="103" r="2.0"/><circle cx="542.8" cy="93.2" r="2.0"/><circle cx="595.3" cy="106.1" r="2.0"/><circle cx="627.3" cy="133" r="2.0"/><circle cx="560.9" cy="101.9" r="2.0"/><circle cx="608.2" cy="123.1" r="2.0"/><circle cx="589.8" cy="124.6" r="2.0"/><circle cx="563.3" cy="104.7" r="2.0"/><circle cx="617" cy="132.5" r="2.0"/><circle cx="555.9" cy="97.5" r="2.0"/><circle cx="535.2" cy="89.9" r="2.0"/><circle cx="624" cy="123.7" r="2.0"/><circle cx="570.8" cy="109.6" r="2.0"/><circle cx="603.9" cy="130.6" r="2.0"/><circle cx="561" cy="119.7" r="2.0"/><circle cx="573" cy="102.1" r="2.0"/><circle cx="549.2" cy="95.2" r="2.0"/><circle cx="548.7" cy="108.1" r="2.0"/><circle cx="595.8" cy="107.8" r="2.0"/><circle cx="607.8" cy="118.7" r="2.0"/><circle cx="581.2" cy="106.5" r="2.0"/><circle cx="606.2" cy="114.6" r="2.0"/><circle cx="531.9" cy="111" r="2.0"/><circle cx="536.7" cy="110.7" r="2.0"/><circle cx="535.1" cy="106.7" r="2.0"/><circle cx="563" cy="91.1" r="2.0"/><circle cx="606" cy="115.8" r="2.0"/><circle cx="567.5" cy="123.1" r="2.0"/><circle cx="627.2" cy="119.1" r="2.0"/><circle cx="614.3" cy="124.6" r="2.0"/><circle cx="597.2" cy="135.8" r="2.0"/><circle cx="577.9" cy="104.9" r="2.0"/><circle cx="578.2" cy="110.6" r="2.0"/><circle cx="641.5" cy="78.9" r="2.0"/><circle cx="621.2" cy="128.7" r="2.0"/><circle cx="521.9" cy="29.9" r="2.0"/><circle cx="658.1" cy="98.3" r="2.0"/><circle cx="578.2" cy="103.3" r="2.0"/><circle cx="634.7" cy="44.9" r="2.0"/><circle cx="603.9" cy="117.5" r="2.0"/><circle cx="597.2" cy="107.5" r="2.0"/><circle cx="614" cy="113.9" r="2.0"/><circle cx="603.6" cy="127.6" r="2.0"/><circle cx="627.3" cy="122" r="2.0"/><circle cx="610.4" cy="124.9" r="2.0"/><circle cx="621.3" cy="114.8" r="2.0"/><circle cx="572.9" cy="110.7" r="2.0"/><circle cx="607.7" cy="119.2" r="2.0"/><circle cx="597.7" cy="132.4" r="2.0"/><circle cx="614.4" cy="135.3" r="2.0"/><circle cx="573.3" cy="108.9" r="2.0"/><circle cx="594.2" cy="111.2" r="2.0"/><circle cx="549.2" cy="118.1" r="2.0"/><circle cx="539.7" cy="88.4" r="2.0"/><circle cx="539.3" cy="114.1" r="2.0"/><circle cx="531.8" cy="107.6" r="2.0"/><circle cx="535" cy="105.5" r="2.0"/><circle cx="560.8" cy="114.1" r="2.0"/><circle cx="555.4" cy="120" r="2.0"/><circle cx="638" cy="98.3" r="2.0"/><circle cx="581.6" cy="122" r="2.0"/><circle cx="614.6" cy="113.6" r="2.0"/><circle cx="595.7" cy="121.6" r="2.0"/><circle cx="595.3" cy="114.1" r="2.0"/><circle cx="616.9" cy="115.8" r="2.0"/><circle cx="555.5" cy="99.2" r="2.0"/><circle cx="575.4" cy="113.4" r="2.0"/><circle cx="616.9" cy="122.9" r="2.0"/><circle cx="616.8" cy="109.6" r="2.0"/><circle cx="603.7" cy="122.4" r="2.0"/><circle cx="562.7" cy="84.7" r="2.0"/><circle cx="561.4" cy="114.2" r="2.0"/><circle cx="613.9" cy="115.3" r="2.0"/><circle cx="597.4" cy="128.1" r="2.0"/><circle cx="634.7" cy="91.9" r="2.0"/><circle cx="567.8" cy="106.4" r="2.0"/><circle cx="562.5" cy="71.9" r="2.0"/><circle cx="565.8" cy="119.4" r="2.0"/><circle cx="597.9" cy="105.8" r="2.0"/><circle cx="609.9" cy="119.6" r="2.0"/><circle cx="614.3" cy="119.9" r="2.0"/><circle cx="651.3" cy="30.9" r="2.0"/><circle cx="574.8" cy="112.4" r="2.0"/><circle cx="590.1" cy="117.6" r="2.0"/><circle cx="589.9" cy="97.2" r="2.0"/><circle cx="621.2" cy="122.9" r="2.0"/><circle cx="590.1" cy="119.7" r="2.0"/><circle cx="577.9" cy="118.3" r="2.0"/><circle cx="565.2" cy="111.9" r="2.0"/><circle cx="537" cy="91" r="2.0"/><circle cx="573" cy="116.7" r="2.0"/><circle cx="570.6" cy="106.1" r="2.0"/><circle cx="581" cy="114.8" r="2.0"/><circle cx="610.3" cy="107.4" r="2.0"/><circle cx="603.9" cy="137.5" r="2.0"/><circle cx="597.9" cy="122.5" r="2.0"/><circle cx="565.8" cy="110.3" r="2.0"/><circle cx="574.9" cy="105.5" r="2.0"/><circle cx="634.4" cy="59" r="2.0"/><circle cx="532.1" cy="114.1" r="2.0"/><circle cx="565.8" cy="92.4" r="2.0"/><circle cx="534.8" cy="109.8" r="2.0"/><circle cx="565.9" cy="103.6" r="2.0"/><circle cx="552.6" cy="97.3" r="2.0"/><circle cx="562.3" cy="65.1" r="2.0"/><circle cx="597.8" cy="109" r="2.0"/><circle cx="559.1" cy="102.1" r="2.0"/><circle cx="618.8" cy="127.5" r="2.0"/><circle cx="618.5" cy="124" r="2.0"/><circle cx="644.2" cy="112.4" r="2.0"/><circle cx="564.4" cy="72.6" r="2.0"/><circle cx="562.6" cy="60.3" r="2.0"/><circle cx="565.9" cy="124.2" r="2.0"/><circle cx="539.3" cy="93.9" r="2.0"/><circle cx="573" cy="81.5" r="2.0"/><circle cx="567.7" cy="111.3" r="2.0"/><circle cx="565.5" cy="93.5" r="2.0"/><circle cx="578.1" cy="111.9" r="2.0"/><circle cx="549.2" cy="110.9" r="2.0"/><circle cx="567.5" cy="120.5" r="2.0"/><circle cx="616.4" cy="114" r="2.0"/><circle cx="539.3" cy="116.7" r="2.0"/><circle cx="532.1" cy="88.1" r="2.0"/><circle cx="581.5" cy="124.2" r="2.0"/><circle cx="534.7" cy="115.1" r="2.0"/><circle cx="548.9" cy="98.5" r="2.0"/><circle cx="606.2" cy="122.8" r="2.0"/><circle cx="590.1" cy="96.1" r="2.0"/><circle cx="618.8" cy="116" r="2.0"/><circle cx="539.6" cy="104.9" r="2.0"/><circle cx="614.4" cy="130.8" r="2.0"/><circle cx="552.9" cy="113.4" r="2.0"/><circle cx="644.4" cy="66.3" r="2.0"/><circle cx="561.5" cy="114.9" r="2.0"/><circle cx="559.2" cy="107.7" r="2.0"/><circle cx="570.8" cy="123.5" r="2.0"/><circle cx="641.5" cy="114.3" r="2.0"/><circle cx="572.6" cy="84.8" r="2.0"/><circle cx="607.8" cy="130.5" r="2.0"/><circle cx="594.4" cy="129.4" r="2.0"/><circle cx="578.2" cy="121.8" r="2.0"/><circle cx="589.8" cy="122.8" r="2.0"/><circle cx="597.6" cy="107.4" r="2.0"/><circle cx="572.9" cy="118.2" r="2.0"/><circle cx="555.3" cy="115" r="2.0"/><circle cx="532.1" cy="109.1" r="2.0"/><circle cx="614.3" cy="124.7" r="2.0"/><circle cx="607.8" cy="127.3" r="2.0"/><circle cx="621.3" cy="126.9" r="2.0"/><circle cx="558.9" cy="86.2" r="2.0"/><circle cx="606" cy="117.1" r="2.0"/><circle cx="561.2" cy="124.2" r="2.0"/><circle cx="621.4" cy="134.3" r="2.0"/><circle cx="610.6" cy="117.9" r="2.0"/><circle cx="565.6" cy="91.3" r="2.0"/><circle cx="568" cy="123.6" r="2.0"/><circle cx="555.6" cy="103.7" r="2.0"/><circle cx="542.3" cy="72.5" r="2.0"/><circle cx="565.8" cy="112.8" r="2.0"/><circle cx="565.4" cy="86.5" r="2.0"/><circle cx="594.4" cy="114.5" r="2.0"/><circle cx="597.5" cy="115.4" r="2.0"/><circle cx="609.9" cy="126.8" r="2.0"/><circle cx="521.9" cy="25" r="2.0"/><circle cx="549" cy="130.9" r="2.0"/><circle cx="542.1" cy="92.6" r="2.0"/><circle cx="589.9" cy="126.9" r="2.0"/><circle cx="612.1" cy="126.2" r="2.0"/><circle cx="581.2" cy="122.2" r="2.0"/><circle cx="651.2" cy="80.6" r="2.0"/><circle cx="559.1" cy="109.6" r="2.0"/><circle cx="595.4" cy="106.6" r="2.0"/><circle cx="580" cy="77.4" r="2.0"/><circle cx="612" cy="124.8" r="2.0"/><circle cx="618.7" cy="124.1" r="2.0"/><circle cx="581.4" cy="103.5" r="2.0"/><circle cx="624.3" cy="124.5" r="2.0"/><circle cx="567.4" cy="124.9" r="2.0"/><circle cx="562.3" cy="57.4" r="2.0"/><circle cx="542.5" cy="94.3" r="2.0"/><circle cx="616.4" cy="126" r="2.0"/><circle cx="616.5" cy="122.8" r="2.0"/><circle cx="573.4" cy="105" r="2.0"/><circle cx="562.7" cy="86.5" r="2.0"/><circle cx="561.2" cy="87.9" r="2.0"/><circle cx="627" cy="127.7" r="2.0"/><circle cx="612.1" cy="111.7" r="2.0"/><circle cx="564.8" cy="84.7" r="2.0"/><circle cx="555.4" cy="101.4" r="2.0"/><circle cx="537.4" cy="93.9" r="2.0"/><circle cx="535.1" cy="120.7" r="2.0"/><circle cx="634.6" cy="34.8" r="2.0"/><circle cx="594.3" cy="132.9" r="2.0"/><circle cx="581" cy="116.8" r="2.0"/><circle cx="594.3" cy="120.8" r="2.0"/><circle cx="606.4" cy="131.4" r="2.0"/><circle cx="535.4" cy="96.5" r="2.0"/><circle cx="651.6" cy="79" r="2.0"/><circle cx="612.4" cy="113.3" r="2.0"/><circle cx="532.2" cy="112.4" r="2.0"/><circle cx="560.8" cy="94.8" r="2.0"/><circle cx="590.1" cy="107.9" r="2.0"/><circle cx="567.3" cy="106.4" r="2.0"/><circle cx="608.4" cy="115.5" r="2.0"/><circle cx="532.1" cy="93.2" r="2.0"/><circle cx="594.3" cy="134.8" r="2.0"/><circle cx="577.5" cy="105.1" r="2.0"/><circle cx="607.7" cy="107.2" r="2.0"/><circle cx="618.2" cy="125.5" r="2.0"/><circle cx="575" cy="117.8" r="2.0"/><circle cx="597.4" cy="116.4" r="2.0"/><circle cx="562.2" cy="72.3" r="2.0"/><circle cx="572.9" cy="92" r="2.0"/><circle cx="565.7" cy="103.7" r="2.0"/><circle cx="565.1" cy="75.7" r="2.0"/><circle cx="579.9" cy="97.3" r="2.0"/><circle cx="552.9" cy="118.5" r="2.0"/><circle cx="564.3" cy="80.9" r="2.0"/><circle cx="610.3" cy="123.6" r="2.0"/><circle cx="606.4" cy="128.9" r="2.0"/><circle cx="590.2" cy="120.6" r="2.0"/><circle cx="634.7" cy="89" r="2.0"/><circle cx="589.7" cy="104.8" r="2.0"/><circle cx="567.4" cy="113.4" r="2.0"/><circle cx="565.9" cy="105.1" r="2.0"/><circle cx="548.8" cy="113.8" r="2.0"/><circle cx="616.9" cy="112.2" r="2.0"/><circle cx="575.2" cy="120" r="2.0"/></g>
<g fill="#bdd7ee" stroke="#a6c8e8" stroke-width="0.5"><circle cx="411.2" cy="348.7" r="2.0"/><circle cx="423.2" cy="339.2" r="2.0"/><circle cx="389.3" cy="353.4" r="2.0"/><circle cx="417.7" cy="275" r="2.0"/><circle cx="404.8" cy="330.2" r="2.0"/><circle cx="376.7" cy="371" r="2.0"/><circle cx="411.5" cy="362.8" r="2.0"/><circle cx="346.7" cy="346.9" r="2.0"/><circle cx="324.7" cy="361.1" r="2.0"/><circle cx="392.4" cy="357.9" r="2.0"/><circle cx="351.8" cy="347.4" r="2.0"/><circle cx="421.4" cy="284.4" r="2.0"/><circle cx="351.9" cy="347.9" r="2.0"/><circle cx="367.2" cy="347.5" r="2.0"/><circle cx="416.1" cy="319.2" r="2.0"/><circle cx="363.9" cy="363.5" r="2.0"/><circle cx="418.7" cy="343.9" r="2.0"/><circle cx="322.7" cy="352.2" r="2.0"/><circle cx="344.6" cy="364.6" r="2.0"/><circle cx="372.2" cy="344" r="2.0"/><circle cx="404.8" cy="327.7" r="2.0"/><circle cx="362" cy="347.7" r="2.0"/><circle cx="339.3" cy="357.9" r="2.0"/><circle cx="396.6" cy="346.9" r="2.0"/><circle cx="352.1" cy="349.7" r="2.0"/><circle cx="362.3" cy="365.1" r="2.0"/><circle cx="421.7" cy="294.2" r="2.0"/><circle cx="351.7" cy="354.2" r="2.0"/><circle cx="387.5" cy="362.1" r="2.0"/><circle cx="339.3" cy="345.5" r="2.0"/><circle cx="314.9" cy="351.1" r="2.0"/><circle cx="315.9" cy="365.7" r="2.0"/><circle cx="346.8" cy="368.4" r="2.0"/><circle cx="365.7" cy="352.3" r="2.0"/><circle cx="367.5" cy="344.6" r="2.0"/><circle cx="428.3" cy="280.3" r="2.0"/><circle cx="324.7" cy="351" r="2.0"/><circle cx="402.9" cy="307" r="2.0"/><circle cx="363.9" cy="359.5" r="2.0"/><circle cx="404.6" cy="326.3" r="2.0"/><circle cx="402.7" cy="343.1" r="2.0"/><circle cx="428.4" cy="304.7" r="2.0"/><circle cx="352.1" cy="367.9" r="2.0"/><circle cx="396.3" cy="350.7" r="2.0"/><circle cx="380.9" cy="356.7" r="2.0"/><circle cx="361.8" cy="352.2" r="2.0"/><circle cx="374.1" cy="357.6" r="2.0"/><circle cx="398.7" cy="330.7" r="2.0"/><circle cx="387.5" cy="348.5" r="2.0"/><circle cx="394.2" cy="332.3" r="2.0"/><circle cx="313" cy="366.7" r="2.0"/><circle cx="382.3" cy="364.1" r="2.0"/><circle cx="333" cy="357.9" r="2.0"/><circle cx="353.4" cy="349" r="2.0"/><circle cx="338.9" cy="360.3" r="2.0"/><circle cx="351.8" cy="357.5" r="2.0"/><circle cx="331.8" cy="357.1" r="2.0"/><circle cx="312.3" cy="330.4" r="2.0"/><circle cx="399" cy="297.7" r="2.0"/><circle cx="426.6" cy="325.7" r="2.0"/><circle cx="420.2" cy="332" r="2.0"/><circle cx="363.8" cy="358.3" r="2.0"/><circle cx="411.1" cy="335.4" r="2.0"/><circle cx="338.7" cy="343.1" r="2.0"/><circle cx="360.6" cy="342.3" r="2.0"/><circle cx="386.4" cy="326.4" r="2.0"/><circle cx="331.6" cy="341.6" r="2.0"/><circle cx="379" cy="348.9" r="2.0"/><circle cx="353.4" cy="369.8" r="2.0"/><circle cx="356.9" cy="357.1" r="2.0"/><circle cx="370.5" cy="351.9" r="2.0"/><circle cx="335.6" cy="361" r="2.0"/><circle cx="336" cy="342.8" r="2.0"/><circle cx="339" cy="363.1" r="2.0"/><circle cx="404.4" cy="334.8" r="2.0"/><circle cx="360.1" cy="356.6" r="2.0"/><circle cx="413.6" cy="349.4" r="2.0"/><circle cx="325" cy="352" r="2.0"/><circle cx="379.2" cy="364.3" r="2.0"/><circle cx="399.8" cy="342.6" r="2.0"/><circle cx="365.2" cy="356.2" r="2.0"/><circle cx="394.2" cy="363.2" r="2.0"/><circle cx="418.6" cy="348.1" r="2.0"/><circle cx="375.5" cy="348.1" r="2.0"/><circle cx="346.7" cy="351.5" r="2.0"/><circle cx="369.8" cy="382.9" r="2.0"/><circle cx="380.9" cy="359.3" r="2.0"/><circle cx="319.9" cy="344.3" r="2.0"/><circle cx="372.5" cy="366.8" r="2.0"/><circle cx="392.6" cy="359.5" r="2.0"/><circle cx="363.8" cy="345.3" r="2.0"/><circle cx="341.5" cy="358.1" r="2.0"/><circle cx="331.2" cy="361.2" r="2.0"/><circle cx="378.9" cy="353.9" r="2.0"/><circle cx="363.7" cy="352.8" r="2.0"/><circle cx="411.3" cy="333.6" r="2.0"/><circle cx="360.5" cy="353.6" r="2.0"/><circle cx="426" cy="327.2" r="2.0"/><circle cx="398.2" cy="318.7" r="2.0"/><circle cx="355.5" cy="364.4" r="2.0"/><circle cx="360.4" cy="354.9" r="2.0"/><circle cx="374" cy="348.7" r="2.0"/><circle cx="402.2" cy="340.5" r="2.0"/><circle cx="374.2" cy="370.3" r="2.0"/><circle cx="390.8" cy="353.6" r="2.0"/><circle cx="363.9" cy="347.8" r="2.0"/><circle cx="403.9" cy="335.7" r="2.0"/><circle cx="408.2" cy="353.2" r="2.0"/><circle cx="339" cy="351.6" r="2.0"/><circle cx="420.2" cy="320.1" r="2.0"/><circle cx="365.4" cy="361.5" r="2.0"/><circle cx="375.8" cy="362.6" r="2.0"/><circle cx="358.5" cy="352.9" r="2.0"/><circle cx="377.5" cy="357.3" r="2.0"/><circle cx="413.6" cy="333.7" r="2.0"/><circle cx="363.3" cy="340.2" r="2.0"/><circle cx="402.2" cy="342" r="2.0"/><circle cx="389.2" cy="361.5" r="2.0"/><circle cx="311.1" cy="363.9" r="2.0"/><circle cx="356.9" cy="357.8" r="2.0"/><circle cx="413.5" cy="345.4" r="2.0"/><circle cx="361.3" cy="339.7" r="2.0"/><circle cx="394.6" cy="350.7" r="2.0"/><circle cx="331.7" cy="359.2" r="2.0"/><circle cx="390.8" cy="353.9" r="2.0"/><circle cx="346.8" cy="356.4" r="2.0"/><circle cx="403.7" cy="339" r="2.0"/><circle cx="312.6" cy="355.3" r="2.0"/><circle cx="413.7" cy="356.7" r="2.0"/><circle cx="319.8" cy="368.8" r="2.0"/><circle cx="333.1" cy="342.8" r="2.0"/><circle cx="356.7" cy="352.5" r="2.0"/><circle cx="367.4" cy="359.8" r="2.0"/><circle cx="400.1" cy="348.4" r="2.0"/><circle cx="375.8" cy="358.6" r="2.0"/><circle cx="399.8" cy="349.2" r="2.0"/><circle cx="339.3" cy="358.9" r="2.0"/><circle cx="319.9" cy="368.2" r="2.0"/><circle cx="358.8" cy="352.3" r="2.0"/><circle cx="310.3" cy="358.5" r="2.0"/><circle cx="331.5" cy="358.6" r="2.0"/><circle cx="341.7" cy="360.8" r="2.0"/><circle cx="396.3" cy="345.8" r="2.0"/><circle cx="428.3" cy="252.3" r="2.0"/><circle cx="351.8" cy="359.5" r="2.0"/><circle cx="380.7" cy="354.8" r="2.0"/><circle cx="418" cy="343.5" r="2.0"/><circle cx="362.3" cy="354.1" r="2.0"/><circle cx="386.2" cy="355.1" r="2.0"/><circle cx="362" cy="359.1" r="2.0"/><circle cx="398.1" cy="332.1" r="2.0"/><circle cx="411.4" cy="361.3" r="2.0"/><circle cx="391.1" cy="361.7" r="2.0"/><circle cx="387.8" cy="355.6" r="2.0"/><circle cx="387.6" cy="365.5" r="2.0"/><circle cx="346.6" cy="357.1" r="2.0"/><circle cx="326.8" cy="352.9" r="2.0"/><circle cx="352.2" cy="365.5" r="2.0"/><circle cx="402.8" cy="358.1" r="2.0"/><circle cx="396.8" cy="333.5" r="2.0"/><circle cx="328.6" cy="351.2" r="2.0"/><circle cx="360.6" cy="349.9" r="2.0"/><circle cx="372.6" cy="367.4" r="2.0"/><circle cx="331.4" cy="347.8" r="2.0"/><circle cx="419.9" cy="329.3" r="2.0"/><circle cx="392.9" cy="346.9" r="2.0"/><circle cx="387.3" cy="349.5" r="2.0"/><circle cx="413.8" cy="352.4" r="2.0"/><circle cx="414" cy="361.8" r="2.0"/><circle cx="372.5" cy="359.5" r="2.0"/><circle cx="338.9" cy="350.7" r="2.0"/><circle cx="389.1" cy="349.7" r="2.0"/><circle cx="402.9" cy="334.7" r="2.0"/><circle cx="344.4" cy="347.4" r="2.0"/><circle cx="377.6" cy="355.5" r="2.0"/><circle cx="387.8" cy="357.4" r="2.0"/><circle cx="357.1" cy="356.4" r="2.0"/><circle cx="372.4" cy="344.7" r="2.0"/><circle cx="360.7" cy="348.7" r="2.0"/><circle cx="392.8" cy="358.8" r="2.0"/><circle cx="396.1" cy="335.7" r="2.0"/><circle cx="344.7" cy="360.2" r="2.0"/><circle cx="310.9" cy="353.2" r="2.0"/><circle cx="356.9" cy="358.4" r="2.0"/><circle cx="339.1" cy="351.5" r="2.0"/><circle cx="368.9" cy="365.1" r="2.0"/><circle cx="285" cy="318.5" r="2.0"/><circle cx="362.2" cy="350.9" r="2.0"/><circle cx="380.5" cy="355.9" r="2.0"/><circle cx="322.4" cy="360.4" r="2.0"/><circle cx="331.5" cy="363.5" r="2.0"/><circle cx="394.5" cy="337.9" r="2.0"/><circle cx="380.7" cy="351.3" r="2.0"/><circle cx="360.3" cy="354.8" r="2.0"/><circle cx="394.6" cy="347.3" r="2.0"/><circle cx="348.4" cy="352.6" r="2.0"/><circle cx="324.6" cy="377" r="2.0"/><circle cx="411.4" cy="350.9" r="2.0"/><circle cx="428.3" cy="267" r="2.0"/><circle cx="394.4" cy="353.4" r="2.0"/><circle cx="364.9" cy="333" r="2.0"/><circle cx="365.4" cy="354.3" r="2.0"/><circle cx="366.9" cy="360.3" r="2.0"/><circle cx="413.5" cy="335.1" r="2.0"/><circle cx="420.4" cy="335.8" r="2.0"/><circle cx="372.4" cy="357.9" r="2.0"/><circle cx="384.3" cy="365.1" r="2.0"/><circle cx="312.8" cy="347" r="2.0"/><circle cx="369.8" cy="379" r="2.0"/><circle cx="310.9" cy="350.2" r="2.0"/><circle cx="314.4" cy="355" r="2.0"/><circle cx="392.9" cy="350.1" r="2.0"/><circle cx="365.5" cy="359" r="2.0"/><circle cx="356.9" cy="353.8" r="2.0"/><circle cx="392.4" cy="355.7" r="2.0"/><circle cx="389.5" cy="344.6" r="2.0"/><circle cx="344.4" cy="344.4" r="2.0"/><circle cx="341.5" cy="352.2" r="2.0"/><circle cx="364.8" cy="326.2" r="2.0"/><circle cx="376.7" cy="338.2" r="2.0"/><circle cx="333.5" cy="350" r="2.0"/><circle cx="335.8" cy="347.8" r="2.0"/><circle cx="399.8" cy="342.4" r="2.0"/><circle cx="407.6" cy="343.9" r="2.0"/><circle cx="351.7" cy="363.4" r="2.0"/><circle cx="322.2" cy="368.2" r="2.0"/><circle cx="382.3" cy="350.5" r="2.0"/><circle cx="416.1" cy="337.8" r="2.0"/><circle cx="378.7" cy="375" r="2.0"/><circle cx="382.3" cy="356" r="2.0"/><circle cx="428.6" cy="285.6" r="2.0"/><circle cx="413.5" cy="333.3" r="2.0"/><circle cx="347" cy="362.3" r="2.0"/><circle cx="407.7" cy="349.6" r="2.0"/><circle cx="382.4" cy="343.1" r="2.0"/><circle cx="382.2" cy="347.8" r="2.0"/><circle cx="402.8" cy="362.3" r="2.0"/><circle cx="312" cy="337.7" r="2.0"/><circle cx="394.1" cy="337" r="2.0"/><circle cx="356.9" cy="357.7" r="2.0"/><circle cx="332.9" cy="349.7" r="2.0"/><circle cx="407.7" cy="344.9" r="2.0"/><circle cx="382.4" cy="359.4" r="2.0"/><circle cx="382.8" cy="341.1" r="2.0"/><circle cx="285" cy="333" r="2.0"/><circle cx="399.7" cy="339.7" r="2.0"/><circle cx="372.1" cy="354.8" r="2.0"/><circle cx="424.9" cy="248.3" r="2.0"/><circle cx="353.4" cy="346" r="2.0"/><circle cx="362.3" cy="342.3" r="2.0"/><circle cx="411.1" cy="357.8" r="2.0"/><circle cx="382.4" cy="351.4" r="2.0"/><circle cx="419.8" cy="338.5" r="2.0"/><circle cx="364" cy="360" r="2.0"/><circle cx="365.8" cy="359.6" r="2.0"/><circle cx="385.9" cy="361.6" r="2.0"/><circle cx="362.3" cy="354.9" r="2.0"/><circle cx="347" cy="351.8" r="2.0"/><circle cx="387.8" cy="356.2" r="2.0"/><circle cx="335.8" cy="344.9" r="2.0"/><circle cx="360.4" cy="346.6" r="2.0"/><circle cx="365.4" cy="353.5" r="2.0"/><circle cx="382.3" cy="355.9" r="2.0"/><circle cx="331.7" cy="344.8" r="2.0"/><circle cx="373.8" cy="356.8" r="2.0"/><circle cx="316.5" cy="368" r="2.0"/><circle cx="394.7" cy="349.7" r="2.0"/><circle cx="341.1" cy="359.6" r="2.0"/><circle cx="391.2" cy="352.9" r="2.0"/><circle cx="362.3" cy="358.8" r="2.0"/><circle cx="313" cy="357.3" r="2.0"/><circle cx="367.2" cy="348.2" r="2.0"/><circle cx="331.1" cy="359.4" r="2.0"/><circle cx="423.1" cy="306.6" r="2.0"/><circle cx="396.4" cy="344" r="2.0"/><circle cx="399.4" cy="338.4" r="2.0"/><circle cx="404.5" cy="336.9" r="2.0"/><circle cx="384.3" cy="355.1" r="2.0"/><circle cx="416.1" cy="320.5" r="2.0"/><circle cx="336.2" cy="352.1" r="2.0"/><circle cx="394.7" cy="340.9" r="2.0"/><circle cx="347" cy="353.7" r="2.0"/><circle cx="417.7" cy="245.7" r="2.0"/><circle cx="369" cy="343.7" r="2.0"/><circle cx="399.4" cy="338.2" r="2.0"/><circle cx="364.5" cy="319.3" r="2.0"/><circle cx="423.1" cy="313.6" r="2.0"/><circle cx="331.4" cy="351" r="2.0"/><circle cx="399.6" cy="340.1" r="2.0"/><circle cx="416.5" cy="336.7" r="2.0"/><circle cx="339.1" cy="346.7" r="2.0"/><circle cx="312.5" cy="347.1" r="2.0"/><circle cx="403.7" cy="334.1" r="2.0"/><circle cx="393" cy="362.2" r="2.0"/><circle cx="335.6" cy="341.5" r="2.0"/><circle cx="399.7" cy="367" r="2.0"/><circle cx="310.3" cy="352" r="2.0"/><circle cx="363.9" cy="359.9" r="2.0"/><circle cx="319.2" cy="342.9" r="2.0"/><circle cx="418.7" cy="327.4" r="2.0"/><circle cx="387.6" cy="352.6" r="2.0"/><circle cx="394.6" cy="344.2" r="2.0"/><circle cx="331.3" cy="345.8" r="2.0"/><circle cx="367.3" cy="355.1" r="2.0"/><circle cx="323" cy="360.6" r="2.0"/><circle cx="372.2" cy="357.8" r="2.0"/><circle cx="400.1" cy="366.7" r="2.0"/><circle cx="394.5" cy="362.2" r="2.0"/><circle cx="398.1" cy="336" r="2.0"/><circle cx="349.9" cy="347.3" r="2.0"/><circle cx="426.3" cy="329.1" r="2.0"/><circle cx="367.3" cy="360.9" r="2.0"/><circle cx="341.7" cy="344.8" r="2.0"/><circle cx="350.4" cy="346.5" r="2.0"/><circle cx="416.3" cy="334.5" r="2.0"/><circle cx="411" cy="346" r="2.0"/><circle cx="413.8" cy="360.2" r="2.0"/><circle cx="367" cy="354.6" r="2.0"/><circle cx="326.6" cy="363.9" r="2.0"/><circle cx="404.5" cy="348.7" r="2.0"/><circle cx="394.8" cy="341.6" r="2.0"/><circle cx="351.8" cy="348.2" r="2.0"/><circle cx="315.8" cy="368.1" r="2.0"/><circle cx="353.8" cy="364.1" r="2.0"/><circle cx="410.9" cy="345.4" r="2.0"/><circle cx="335.9" cy="358" r="2.0"/><circle cx="423.3" cy="326.7" r="2.0"/><circle cx="402.2" cy="365.5" r="2.0"/><circle cx="396.7" cy="348.2" r="2.0"/><circle cx="358.8" cy="356.6" r="2.0"/><circle cx="404.4" cy="344.9" r="2.0"/><circle cx="408.3" cy="358.2" r="2.0"/><circle cx="384.1" cy="343.1" r="2.0"/><circle cx="327" cy="353.4" r="2.0"/><circle cx="387.6" cy="351.4" r="2.0"/><circle cx="322.8" cy="357.9" r="2.0"/><circle cx="379.2" cy="365.5" r="2.0"/><circle cx="320.5" cy="343.5" r="2.0"/><circle cx="379.1" cy="357.7" r="2.0"/><circle cx="396.4" cy="346.5" r="2.0"/><circle cx="411.4" cy="342.8" r="2.0"/><circle cx="308.7" cy="341.3" r="2.0"/><circle cx="315.9" cy="358.5" r="2.0"/><circle cx="408.3" cy="354.9" r="2.0"/><circle cx="364.5" cy="335.6" r="2.0"/><circle cx="301.8" cy="330" r="2.0"/><circle cx="394.3" cy="356.3" r="2.0"/><circle cx="387.6" cy="364.1" r="2.0"/><circle cx="353.4" cy="353.6" r="2.0"/><circle cx="353.5" cy="358.2" r="2.0"/><circle cx="344.6" cy="351.3" r="2.0"/><circle cx="324.7" cy="349.3" r="2.0"/><circle cx="375.4" cy="351.2" r="2.0"/><circle cx="384.7" cy="313.2" r="2.0"/><circle cx="402.7" cy="344.5" r="2.0"/><circle cx="391.1" cy="353" r="2.0"/><circle cx="282" cy="292.3" r="2.0"/><circle cx="344.7" cy="357.3" r="2.0"/><circle cx="419.9" cy="317.8" r="2.0"/><circle cx="367.4" cy="353.8" r="2.0"/><circle cx="404.3" cy="345.4" r="2.0"/><circle cx="356.9" cy="350.5" r="2.0"/><circle cx="319.3" cy="370.1" r="2.0"/><circle cx="428.1" cy="314" r="2.0"/><circle cx="336.2" cy="344.8" r="2.0"/><circle cx="355.4" cy="359.8" r="2.0"/><circle cx="367.4" cy="360.3" r="2.0"/><circle cx="398.9" cy="332" r="2.0"/><circle cx="365.5" cy="354" r="2.0"/><circle cx="402.8" cy="344.9" r="2.0"/><circle cx="424.9" cy="244.3" r="2.0"/><circle cx="382.3" cy="350.4" r="2.0"/><circle cx="408" cy="354.5" r="2.0"/><circle cx="416.5" cy="316.6" r="2.0"/><circle cx="384" cy="344.1" r="2.0"/><circle cx="369.8" cy="371.9" r="2.0"/><circle cx="399.4" cy="353.5" r="2.0"/><circle cx="370.4" cy="354.9" r="2.0"/><circle cx="400" cy="353.3" r="2.0"/><circle cx="423.1" cy="339.8" r="2.0"/><circle cx="360.5" cy="341.2" r="2.0"/><circle cx="333.5" cy="346.3" r="2.0"/><circle cx="365.4" cy="352.3" r="2.0"/><circle cx="328.8" cy="355.5" r="2.0"/><circle cx="387.6" cy="357.8" r="2.0"/><circle cx="407.9" cy="366.3" r="2.0"/><circle cx="341.5" cy="344.7" r="2.0"/><circle cx="312.6" cy="345" r="2.0"/><circle cx="399.5" cy="360" r="2.0"/><circle cx="382.7" cy="355.7" r="2.0"/><circle cx="348.4" cy="353.3" r="2.0"/><circle cx="420" cy="322.8" r="2.0"/><circle cx="347.3" cy="353.7" r="2.0"/><circle cx="390.9" cy="349" r="2.0"/><circle cx="417.7" cy="257.7" r="2.0"/><circle cx="404.7" cy="345" r="2.0"/><circle cx="379.1" cy="349.6" r="2.0"/><circle cx="392.8" cy="356.8" r="2.0"/><circle cx="402.2" cy="346" r="2.0"/><circle cx="396.2" cy="353.6" r="2.0"/><circle cx="325" cy="361.5" r="2.0"/><circle cx="339.1" cy="359.8" r="2.0"/><circle cx="349.2" cy="335.5" r="2.0"/><circle cx="362" cy="361.2" r="2.0"/><circle cx="353.7" cy="351.7" r="2.0"/><circle cx="344.4" cy="351.6" r="2.0"/><circle cx="380.7" cy="364.4" r="2.0"/><circle cx="328.4" cy="356.2" r="2.0"/><circle cx="399.8" cy="334.2" r="2.0"/><circle cx="353.7" cy="363.5" r="2.0"/><circle cx="333.3" cy="362.7" r="2.0"/><circle cx="401.4" cy="333.1" r="2.0"/><circle cx="382.8" cy="365.1" r="2.0"/><circle cx="358.6" cy="354.6" r="2.0"/><circle cx="375.6" cy="349.3" r="2.0"/><circle cx="310.9" cy="362.4" r="2.0"/><circle cx="399" cy="307" r="2.0"/><circle cx="421.7" cy="287.8" r="2.0"/><circle cx="348.5" cy="352.6" r="2.0"/><circle cx="379.2" cy="354.9" r="2.0"/><circle cx="348.3" cy="361.9" r="2.0"/><circle cx="377.1" cy="366.7" r="2.0"/><circle cx="422.8" cy="328.9" r="2.0"/><circle cx="347.4" cy="359.8" r="2.0"/><circle cx="386.2" cy="349.4" r="2.0"/><circle cx="320.4" cy="303" r="2.0"/><circle cx="335.8" cy="343.7" r="2.0"/><circle cx="425.7" cy="235" r="2.0"/><circle cx="373.7" cy="350.8" r="2.0"/><circle cx="341.1" cy="357.8" r="2.0"/><circle cx="379.5" cy="338.8" r="2.0"/><circle cx="391.1" cy="368.4" r="2.0"/><circle cx="328.5" cy="373" r="2.0"/><circle cx="352.2" cy="356.5" r="2.0"/><circle cx="364.9" cy="322.8" r="2.0"/><circle cx="399.8" cy="337.1" r="2.0"/><circle cx="392.9" cy="352.5" r="2.0"/><circle cx="377.4" cy="351.1" r="2.0"/><circle cx="352.1" cy="352.4" r="2.0"/><circle cx="377.6" cy="348.3" r="2.0"/><circle cx="404.2" cy="316.2" r="2.0"/><circle cx="347.5" cy="356.2" r="2.0"/><circle cx="404.7" cy="351.6" r="2.0"/><circle cx="424.9" cy="226.2" r="2.0"/><circle cx="398.7" cy="339" r="2.0"/><circle cx="348.7" cy="349.4" r="2.0"/><circle cx="339" cy="350.4" r="2.0"/><circle cx="365.5" cy="348.2" r="2.0"/><circle cx="336" cy="357.5" r="2.0"/><circle cx="322.7" cy="352" r="2.0"/><circle cx="390.7" cy="364.8" r="2.0"/><circle cx="350.5" cy="351.6" r="2.0"/><circle cx="394.3" cy="365.5" r="2.0"/><circle cx="424.3" cy="259" r="2.0"/><circle cx="379.2" cy="338" r="2.0"/><circle cx="417.7" cy="237.7" r="2.0"/><circle cx="375.4" cy="356.2" r="2.0"/><circle cx="410.8" cy="346" r="2.0"/><circle cx="333.2" cy="348.3" r="2.0"/><circle cx="333.3" cy="342.4" r="2.0"/><circle cx="374.2" cy="350.1" r="2.0"/><circle cx="372.1" cy="356.7" r="2.0"/><circle cx="414" cy="357.1" r="2.0"/><circle cx="356.9" cy="358.5" r="2.0"/><circle cx="394.4" cy="356.4" r="2.0"/><circle cx="367" cy="353.6" r="2.0"/><circle cx="314.2" cy="342.4" r="2.0"/><circle cx="331.6" cy="346.3" r="2.0"/><circle cx="428.1" cy="298.9" r="2.0"/><circle cx="319.4" cy="369.7" r="2.0"/><circle cx="375.6" cy="358.4" r="2.0"/><circle cx="389.4" cy="354" r="2.0"/><circle cx="417.9" cy="320.6" r="2.0"/><circle cx="333.1" cy="360.2" r="2.0"/><circle cx="370.6" cy="356" r="2.0"/><circle cx="377.3" cy="356.9" r="2.0"/><circle cx="312.3" cy="321.8" r="2.0"/><circle cx="394.8" cy="347.2" r="2.0"/><circle cx="411.2" cy="355.9" r="2.0"/><circle cx="394.1" cy="362.8" r="2.0"/><circle cx="351.8" cy="351" r="2.0"/><circle cx="331.7" cy="349.3" r="2.0"/><circle cx="379.7" cy="340.7" r="2.0"/><circle cx="349.1" cy="337.7" r="2.0"/><circle cx="346.7" cy="360.7" r="2.0"/><circle cx="365.6" cy="357.9" r="2.0"/><circle cx="355.4" cy="352.4" r="2.0"/><circle cx="402.3" cy="352.8" r="2.0"/><circle cx="413.7" cy="363.2" r="2.0"/><circle cx="370.4" cy="343" r="2.0"/><circle cx="428.3" cy="275" r="2.0"/><circle cx="322.2" cy="360.7" r="2.0"/><circle cx="314.3" cy="354.3" r="2.0"/><circle cx="418.3" cy="321" r="2.0"/><circle cx="320.8" cy="319.4" r="2.0"/><circle cx="356.9" cy="358.7" r="2.0"/><circle cx="341.2" cy="348.2" r="2.0"/><circle cx="326.9" cy="358.2" r="2.0"/><circle cx="348.7" cy="351.6" r="2.0"/><circle cx="372.3" cy="368.6" r="2.0"/><circle cx="336" cy="360.5" r="2.0"/><circle cx="384.1" cy="364.4" r="2.0"/><circle cx="387.6" cy="345.8" r="2.0"/><circle cx="346.6" cy="367.3" r="2.0"/><circle cx="328.1" cy="344" r="2.0"/><circle cx="312.6" cy="347.3" r="2.0"/><circle cx="363" cy="331.8" r="2.0"/><circle cx="358.7" cy="354.7" r="2.0"/><circle cx="322.6" cy="358.5" r="2.0"/><circle cx="380.8" cy="350.9" r="2.0"/><circle cx="396.6" cy="337.8" r="2.0"/><circle cx="404.3" cy="332.3" r="2.0"/><circle cx="417.5" cy="292.8" r="2.0"/><circle cx="411.3" cy="354.8" r="2.0"/><circle cx="414" cy="334.2" r="2.0"/><circle cx="418.1" cy="314.3" r="2.0"/><circle cx="327" cy="352" r="2.0"/><circle cx="399.8" cy="365.6" r="2.0"/><circle cx="402.8" cy="359.8" r="2.0"/><circle cx="404.4" cy="345.5" r="2.0"/><circle cx="378.8" cy="359.1" r="2.0"/><circle cx="394.1" cy="357.9" r="2.0"/><circle cx="379.2" cy="355.9" r="2.0"/><circle cx="353.8" cy="360.7" r="2.0"/><circle cx="365.7" cy="352.1" r="2.0"/><circle cx="394.2" cy="330.1" r="2.0"/><circle cx="381.1" cy="345" r="2.0"/><circle cx="372.1" cy="356.9" r="2.0"/><circle cx="370.6" cy="360.2" r="2.0"/><circle cx="365.4" cy="354.1" r="2.0"/><circle cx="367" cy="364.8" r="2.0"/><circle cx="402.9" cy="357.3" r="2.0"/><circle cx="433.7" cy="244.3" r="2.0"/><circle cx="322.7" cy="357.8" r="2.0"/><circle cx="428.3" cy="301.8" r="2.0"/><circle cx="425.9" cy="313.8" r="2.0"/><circle cx="322.8" cy="362.7" r="2.0"/><circle cx="320.3" cy="314.8" r="2.0"/><circle cx="399.7" cy="338.7" r="2.0"/><circle cx="370.7" cy="359.2" r="2.0"/><circle cx="404.4" cy="345.8" r="2.0"/><circle cx="387.8" cy="365.9" r="2.0"/><circle cx="403.3" cy="307.2" r="2.0"/><circle cx="446.5" cy="233.7" r="2.0"/><circle cx="348.6" cy="359.5" r="2.0"/><circle cx="338.7" cy="341.3" r="2.0"/><circle cx="399.7" cy="352.7" r="2.0"/><circle cx="383.9" cy="360.9" r="2.0"/><circle cx="416.1" cy="334" r="2.0"/><circle cx="347.4" cy="354.3" r="2.0"/><circle cx="331.4" cy="357.6" r="2.0"/><circle cx="412.3" cy="297.7" r="2.0"/><circle cx="369.2" cy="360.3" r="2.0"/><circle cx="408.4" cy="371" r="2.0"/><circle cx="365.3" cy="358" r="2.0"/><circle cx="410.8" cy="347.2" r="2.0"/><circle cx="370.6" cy="353.3" r="2.0"/><circle cx="394.7" cy="331.9" r="2.0"/><circle cx="418.1" cy="318.1" r="2.0"/><circle cx="327.1" cy="350.3" r="2.0"/><circle cx="367.4" cy="354.1" r="2.0"/><circle cx="404.2" cy="337.9" r="2.0"/><circle cx="380.6" cy="352" r="2.0"/><circle cx="399.9" cy="365" r="2.0"/><circle cx="333.6" cy="362.5" r="2.0"/><circle cx="360.3" cy="357" r="2.0"/><circle cx="335.7" cy="364.5" r="2.0"/><circle cx="369.1" cy="351.3" r="2.0"/><circle cx="353.4" cy="344.8" r="2.0"/><circle cx="390.8" cy="350.1" r="2.0"/><circle cx="322.2" cy="358.1" r="2.0"/><circle cx="355.5" cy="362.1" r="2.0"/><circle cx="396.5" cy="360.5" r="2.0"/><circle cx="316.5" cy="356.3" r="2.0"/><circle cx="319.3" cy="361.8" r="2.0"/><circle cx="341.5" cy="350.2" r="2.0"/><circle cx="377.6" cy="364.5" r="2.0"/><circle cx="344.1" cy="358.7" r="2.0"/><circle cx="312.6" cy="363.2" r="2.0"/><circle cx="404.5" cy="351.7" r="2.0"/><circle cx="367" cy="357.1" r="2.0"/><circle cx="338.7" cy="356.4" r="2.0"/><circle cx="384.3" cy="351.8" r="2.0"/><circle cx="367.2" cy="353.3" r="2.0"/><circle cx="365.2" cy="360.8" r="2.0"/><circle cx="389.3" cy="362.7" r="2.0"/><circle cx="310.5" cy="357.3" r="2.0"/><circle cx="411" cy="332.6" r="2.0"/><circle cx="385.8" cy="353.2" r="2.0"/><circle cx="396.2" cy="332.5" r="2.0"/><circle cx="355.3" cy="361.1" r="2.0"/><circle cx="350.5" cy="357.9" r="2.0"/><circle cx="389.3" cy="364.1" r="2.0"/><circle cx="319.7" cy="345.3" r="2.0"/><circle cx="322.5" cy="366.2" r="2.0"/><circle cx="333" cy="358.1" r="2.0"/><circle cx="346.8" cy="366.1" r="2.0"/><circle cx="314.9" cy="356.1" r="2.0"/><circle cx="426.6" cy="307" r="2.0"/><circle cx="423.1" cy="334.7" r="2.0"/><circle cx="331.6" cy="352.2" r="2.0"/><circle cx="399.7" cy="347.8" r="2.0"/><circle cx="372.5" cy="350.7" r="2.0"/><circle cx="407.8" cy="342.4" r="2.0"/><circle cx="402.6" cy="344.7" r="2.0"/><circle cx="389.1" cy="362.8" r="2.0"/><circle cx="384.1" cy="352.7" r="2.0"/><circle cx="416.4" cy="320.7" r="2.0"/><circle cx="404.9" cy="330.1" r="2.0"/><circle cx="324.9" cy="360.9" r="2.0"/><circle cx="377.4" cy="360.2" r="2.0"/><circle cx="344.5" cy="361.2" r="2.0"/><circle cx="379" cy="352.6" r="2.0"/><circle cx="363.1" cy="338.7" r="2.0"/><circle cx="313.2" cy="357" r="2.0"/><circle cx="379.3" cy="361.2" r="2.0"/><circle cx="391.1" cy="357.2" r="2.0"/><circle cx="394.2" cy="354.3" r="2.0"/><circle cx="375.8" cy="362.9" r="2.0"/><circle cx="413.5" cy="350.6" r="2.0"/><circle cx="331.5" cy="344.2" r="2.0"/><circle cx="319.7" cy="353.1" r="2.0"/><circle cx="353.3" cy="355.4" r="2.0"/><circle cx="396.3" cy="352.9" r="2.0"/><circle cx="333.4" cy="350.9" r="2.0"/><circle cx="316.4" cy="365.3" r="2.0"/><circle cx="348.3" cy="348.5" r="2.0"/><circle cx="398.5" cy="307" r="2.0"/><circle cx="402.2" cy="349" r="2.0"/><circle cx="358.6" cy="355.6" r="2.0"/><circle cx="411.3" cy="348.4" r="2.0"/><circle cx="374.2" cy="345.3" r="2.0"/><circle cx="387.9" cy="354.6" r="2.0"/><circle cx="428.5" cy="288.8" r="2.0"/><circle cx="379.7" cy="326.4" r="2.0"/><circle cx="390.9" cy="362.2" r="2.0"/><circle cx="367.4" cy="357.1" r="2.0"/><circle cx="396.5" cy="367.4" r="2.0"/><circle cx="328.3" cy="342.9" r="2.0"/><circle cx="381" cy="357.9" r="2.0"/><circle cx="365.6" cy="355.6" r="2.0"/><circle cx="386.1" cy="353.8" r="2.0"/><circle cx="417.6" cy="287.7" r="2.0"/><circle cx="428.1" cy="290.7" r="2.0"/><circle cx="402.7" cy="309.6" r="2.0"/><circle cx="335.6" cy="354.1" r="2.0"/><circle cx="418" cy="290.3" r="2.0"/><circle cx="360.4" cy="352.3" r="2.0"/><circle cx="413.3" cy="332.5" r="2.0"/><circle cx="346.7" cy="356.6" r="2.0"/><circle cx="363.5" cy="349" r="2.0"/><circle cx="331.2" cy="342" r="2.0"/><circle cx="308.3" cy="330.4" r="2.0"/><circle cx="425.9" cy="329.7" r="2.0"/><circle cx="341.7" cy="359.5" r="2.0"/><circle cx="377.3" cy="354.8" r="2.0"/><circle cx="380.5" cy="355.9" r="2.0"/><circle cx="353.5" cy="349.7" r="2.0"/><circle cx="382.5" cy="345.9" r="2.0"/><circle cx="301.8" cy="341.3" r="2.0"/><circle cx="371.8" cy="333.3" r="2.0"/><circle cx="384.4" cy="343.6" r="2.0"/><circle cx="400.1" cy="351.5" r="2.0"/><circle cx="399.6" cy="362.8" r="2.0"/><circle cx="379.3" cy="356.8" r="2.0"/><circle cx="382.4" cy="342.8" r="2.0"/><circle cx="382.7" cy="365.4" r="2.0"/><circle cx="355.1" cy="359.4" r="2.0"/><circle cx="402.3" cy="355.3" r="2.0"/><circle cx="389.3" cy="343.8" r="2.0"/><circle cx="389.3" cy="354.3" r="2.0"/><circle cx="401.4" cy="315.8" r="2.0"/><circle cx="344.3" cy="344.2" r="2.0"/><circle cx="401.4" cy="332.8" r="2.0"/><circle cx="316" cy="352.5" r="2.0"/><circle cx="402.6" cy="367" r="2.0"/><circle cx="333.1" cy="344.7" r="2.0"/><circle cx="394.3" cy="340.1" r="2.0"/><circle cx="403.9" cy="318.7" r="2.0"/><circle cx="357.2" cy="345.5" r="2.0"/><circle cx="396.6" cy="334.3" r="2.0"/><circle cx="384.6" cy="306.6" r="2.0"/><circle cx="385.7" cy="353.7" r="2.0"/><circle cx="319.9" cy="344" r="2.0"/><circle cx="396.6" cy="354.6" r="2.0"/><circle cx="350.4" cy="363.5" r="2.0"/><circle cx="341.7" cy="357.5" r="2.0"/><circle cx="364.7" cy="330.2" r="2.0"/><circle cx="367" cy="353.8" r="2.0"/><circle cx="411.3" cy="336.3" r="2.0"/><circle cx="377.5" cy="354.5" r="2.0"/><circle cx="396.2" cy="338.3" r="2.0"/><circle cx="402.4" cy="341.6" r="2.0"/><circle cx="375.6" cy="359.5" r="2.0"/><circle cx="370" cy="369.1" r="2.0"/><circle cx="375.8" cy="359.8" r="2.0"/><circle cx="363.6" cy="370" r="2.0"/><circle cx="358.9" cy="362.9" r="2.0"/><circle cx="396.8" cy="336.4" r="2.0"/><circle cx="362.1" cy="360.1" r="2.0"/><circle cx="322.6" cy="360.4" r="2.0"/><circle cx="360.7" cy="339.4" r="2.0"/><circle cx="385.9" cy="344.4" r="2.0"/><circle cx="401.1" cy="324.1" r="2.0"/><circle cx="358.7" cy="363.8" r="2.0"/><circle cx="446.5" cy="228.3" r="2.0"/><circle cx="339.2" cy="341.9" r="2.0"/><circle cx="331.8" cy="348.3" r="2.0"/><circle cx="400" cy="359.2" r="2.0"/><circle cx="374.3" cy="362.7" r="2.0"/><circle cx="399.4" cy="337.6" r="2.0"/><circle cx="347.9" cy="363.4" r="2.0"/><circle cx="402.7" cy="340.8" r="2.0"/><circle cx="353.5" cy="355.6" r="2.0"/><circle cx="399.7" cy="355.8" r="2.0"/><circle cx="360.4" cy="354" r="2.0"/><circle cx="338.8" cy="342.6" r="2.0"/><circle cx="394.2" cy="362.7" r="2.0"/><circle cx="410.7" cy="334.6" r="2.0"/><circle cx="402.9" cy="312.5" r="2.0"/><circle cx="404.8" cy="349.6" r="2.0"/><circle cx="369" cy="354.6" r="2.0"/><circle cx="313" cy="366.2" r="2.0"/><circle cx="407.9" cy="350.8" r="2.0"/><circle cx="407.9" cy="337.7" r="2.0"/><circle cx="319.7" cy="369.9" r="2.0"/><circle cx="408.2" cy="360.5" r="2.0"/><circle cx="324.7" cy="349.1" r="2.0"/><circle cx="357.1" cy="351.1" r="2.0"/><circle cx="402.7" cy="326.6" r="2.0"/><circle cx="374" cy="359.8" r="2.0"/><circle cx="341.8" cy="356.5" r="2.0"/><circle cx="326.6" cy="337.3" r="2.0"/><circle cx="339.1" cy="340.7" r="2.0"/><circle cx="401.1" cy="329.6" r="2.0"/><circle cx="362.2" cy="359.1" r="2.0"/><circle cx="387.6" cy="346.8" r="2.0"/><circle cx="408" cy="343.5" r="2.0"/><circle cx="320.7" cy="339.2" r="2.0"/><circle cx="413.4" cy="349.9" r="2.0"/><circle cx="389.6" cy="359.7" r="2.0"/><circle cx="403.9" cy="320.7" r="2.0"/><circle cx="347" cy="353.6" r="2.0"/><circle cx="386.7" cy="324.1" r="2.0"/><circle cx="326.9" cy="353.3" r="2.0"/><circle cx="339.2" cy="362.9" r="2.0"/><circle cx="320.7" cy="307.9" r="2.0"/><circle cx="366.9" cy="352.5" r="2.0"/><circle cx="402.2" cy="337.5" r="2.0"/><circle cx="382.7" cy="360.9" r="2.0"/><circle cx="404.4" cy="335.7" r="2.0"/><circle cx="411.1" cy="356.2" r="2.0"/><circle cx="363.7" cy="344.2" r="2.0"/><circle cx="314.3" cy="359.2" r="2.0"/><circle cx="413.4" cy="297.7" r="2.0"/><circle cx="414" cy="349.9" r="2.0"/><circle cx="314.9" cy="348.4" r="2.0"/><circle cx="379" cy="357.2" r="2.0"/><circle cx="353.7" cy="350.6" r="2.0"/><circle cx="320.4" cy="333.7" r="2.0"/><circle cx="339.1" cy="361" r="2.0"/><circle cx="320.5" cy="324.5" r="2.0"/><circle cx="310.8" cy="345.7" r="2.0"/><circle cx="421.5" cy="290.9" r="2.0"/><circle cx="324.9" cy="349.2" r="2.0"/><circle cx="382.4" cy="354.6" r="2.0"/><circle cx="377.4" cy="353.3" r="2.0"/><circle cx="413.3" cy="331.9" r="2.0"/><circle cx="410.8" cy="340.9" r="2.0"/><circle cx="408.3" cy="356.1" r="2.0"/><circle cx="356.8" cy="355" r="2.0"/><circle cx="392.5" cy="352.8" r="2.0"/><circle cx="411.4" cy="358" r="2.0"/><circle cx="353.4" cy="351.5" r="2.0"/><circle cx="377.2" cy="357.3" r="2.0"/><circle cx="315.8" cy="355.7" r="2.0"/><circle cx="322.3" cy="348.5" r="2.0"/><circle cx="362.3" cy="345.2" r="2.0"/><circle cx="404.6" cy="354.7" r="2.0"/><circle cx="344.6" cy="343.2" r="2.0"/><circle cx="398.5" cy="297.7" r="2.0"/><circle cx="360.2" cy="364" r="2.0"/><circle cx="377.2" cy="355.3" r="2.0"/><circle cx="402.8" cy="329.3" r="2.0"/><circle cx="322.4" cy="358.6" r="2.0"/><circle cx="396.5" cy="368.5" r="2.0"/><circle cx="377.2" cy="358.4" r="2.0"/><circle cx="408.3" cy="355.6" r="2.0"/><circle cx="372.5" cy="358.2" r="2.0"/><circle cx="394.6" cy="352.4" r="2.0"/><circle cx="407.8" cy="347.5" r="2.0"/><circle cx="408.3" cy="335" r="2.0"/><circle cx="328.2" cy="350.9" r="2.0"/><circle cx="360.3" cy="359.8" r="2.0"/><circle cx="349.2" cy="340.7" r="2.0"/><circle cx="428.2" cy="310.9" r="2.0"/><circle cx="387.6" cy="361.3" r="2.0"/><circle cx="328.8" cy="345.2" r="2.0"/><circle cx="411.4" cy="354.3" r="2.0"/><circle cx="426.1" cy="316.4" r="2.0"/><circle cx="328.5" cy="356.3" r="2.0"/><circle cx="353.9" cy="316.9" r="2.0"/><circle cx="376.4" cy="337.5" r="2.0"/><circle cx="348.5" cy="343.3" r="2.0"/><circle cx="373.8" cy="349.3" r="2.0"/><circle cx="286" cy="292.3" r="2.0"/><circle cx="425.7" cy="231" r="2.0"/><circle cx="382.3" cy="355.5" r="2.0"/><circle cx="384.6" cy="315.6" r="2.0"/><circle cx="360.6" cy="359.6" r="2.0"/><circle cx="396.4" cy="334.3" r="2.0"/><circle cx="368.8" cy="362.9" r="2.0"/><circle cx="358.7" cy="355.7" r="2.0"/><circle cx="366.9" cy="366.3" r="2.0"/><circle cx="391.2" cy="360.4" r="2.0"/><circle cx="402.4" cy="330.6" r="2.0"/><circle cx="375.5" cy="367" r="2.0"/><circle cx="315.9" cy="361.8" r="2.0"/><circle cx="402.3" cy="341" r="2.0"/><circle cx="394.4" cy="350" r="2.0"/><circle cx="348.7" cy="352.8" r="2.0"/><circle cx="333" cy="340.8" r="2.0"/><circle cx="360.5" cy="359.3" r="2.0"/><circle cx="353.4" cy="359.5" r="2.0"/><circle cx="402.2" cy="355.7" r="2.0"/><circle cx="375.6" cy="357.9" r="2.0"/><circle cx="410.8" cy="363" r="2.0"/><circle cx="322.5" cy="367.7" r="2.0"/><circle cx="399.6" cy="361.3" r="2.0"/><circle cx="368.8" cy="356.8" r="2.0"/><circle cx="376" cy="358.9" r="2.0"/><circle cx="325.1" cy="346.5" r="2.0"/><circle cx="332.9" cy="354" r="2.0"/><circle cx="371.8" cy="321" r="2.0"/><circle cx="375.6" cy="346.8" r="2.0"/><circle cx="341.5" cy="354.4" r="2.0"/><circle cx="333" cy="365.6" r="2.0"/><circle cx="411.1" cy="360.4" r="2.0"/><circle cx="356.8" cy="360.3" r="2.0"/><circle cx="404.8" cy="328.4" r="2.0"/><circle cx="361.8" cy="350.1" r="2.0"/><circle cx="399.5" cy="347" r="2.0"/><circle cx="404.7" cy="351.5" r="2.0"/><circle cx="389.5" cy="353.7" r="2.0"/><circle cx="433.7" cy="231" r="2.0"/><circle cx="333.2" cy="360.1" r="2.0"/><circle cx="360.7" cy="363.5" r="2.0"/><circle cx="389.5" cy="360" r="2.0"/><circle cx="424.3" cy="263" r="2.0"/><circle cx="350.1" cy="358.6" r="2.0"/><circle cx="310.9" cy="365.2" r="2.0"/><circle cx="411" cy="340.5" r="2.0"/><circle cx="336.5" cy="340.9" r="2.0"/><circle cx="346.9" cy="357.7" r="2.0"/><circle cx="367.2" cy="354.3" r="2.0"/><circle cx="327" cy="360.7" r="2.0"/><circle cx="402.7" cy="357.1" r="2.0"/><circle cx="367.3" cy="354.8" r="2.0"/><circle cx="312.9" cy="367.2" r="2.0"/><circle cx="350.3" cy="345.5" r="2.0"/><circle cx="387.4" cy="354.4" r="2.0"/><circle cx="310.7" cy="348.7" r="2.0"/><circle cx="363.8" cy="363.4" r="2.0"/><circle cx="391" cy="353.4" r="2.0"/><circle cx="402.5" cy="357.8" r="2.0"/><circle cx="380.5" cy="350.1" r="2.0"/><circle cx="418.7" cy="324.2" r="2.0"/><circle cx="379.1" cy="355.5" r="2.0"/><circle cx="400" cy="363.7" r="2.0"/><circle cx="324.6" cy="373" r="2.0"/><circle cx="399.6" cy="359.8" r="2.0"/><circle cx="365.3" cy="365" r="2.0"/><circle cx="407.6" cy="349.8" r="2.0"/><circle cx="375.7" cy="357.3" r="2.0"/><circle cx="356.9" cy="347.5" r="2.0"/><circle cx="288.3" cy="298" r="2.0"/><circle cx="404.3" cy="349.3" r="2.0"/><circle cx="393.6" cy="375" r="2.0"/><circle cx="399.5" cy="366.3" r="2.0"/><circle cx="407.8" cy="358.3" r="2.0"/><circle cx="389.2" cy="352.1" r="2.0"/><circle cx="379" cy="354.1" r="2.0"/><circle cx="336.1" cy="361.7" r="2.0"/><circle cx="392.5" cy="350.1" r="2.0"/><circle cx="365.7" cy="348.4" r="2.0"/><circle cx="384.2" cy="361.2" r="2.0"/><circle cx="407.8" cy="361.9" r="2.0"/><circle cx="361.1" cy="341" r="2.0"/><circle cx="404.6" cy="355.2" r="2.0"/><circle cx="346.8" cy="357.2" r="2.0"/><circle cx="386.2" cy="350.9" r="2.0"/><circle cx="375.6" cy="353.5" r="2.0"/><circle cx="374.2" cy="353" r="2.0"/><circle cx="319.8" cy="362.9" r="2.0"/><circle cx="372.4" cy="356.9" r="2.0"/><circle cx="356.9" cy="354.9" r="2.0"/><circle cx="355.6" cy="362.6" r="2.0"/><circle cx="360.5" cy="353.7" r="2.0"/><circle cx="312.7" cy="367.1" r="2.0"/><circle cx="402.9" cy="328.1" r="2.0"/><circle cx="428.3" cy="248.3" r="2.0"/><circle cx="417.9" cy="284.1" r="2.0"/><circle cx="413.8" cy="342.9" r="2.0"/><circle cx="314.6" cy="358.9" r="2.0"/><circle cx="316.5" cy="359.2" r="2.0"/><circle cx="374" cy="358.5" r="2.0"/><circle cx="367.4" cy="351.7" r="2.0"/><circle cx="402.2" cy="351.7" r="2.0"/><circle cx="402.8" cy="329.8" r="2.0"/><circle cx="413.4" cy="351.9" r="2.0"/><circle cx="387.7" cy="357.2" r="2.0"/><circle cx="346.5" cy="354.1" r="2.0"/><circle cx="282" cy="285.8" r="2.0"/><circle cx="362.4" cy="361.2" r="2.0"/><circle cx="404.7" cy="356.5" r="2.0"/><circle cx="404.6" cy="347.2" r="2.0"/><circle cx="384.1" cy="345.8" r="2.0"/><circle cx="413.6" cy="354.9" r="2.0"/><circle cx="428.3" cy="307.7" r="2.0"/><circle cx="402.2" cy="359.9" r="2.0"/><circle cx="365.7" cy="359.7" r="2.0"/><circle cx="423.4" cy="315.3" r="2.0"/><circle cx="312.8" cy="341.6" r="2.0"/><circle cx="328.4" cy="352.3" r="2.0"/><circle cx="319.9" cy="344" r="2.0"/><circle cx="350.4" cy="352.5" r="2.0"/><circle cx="353.5" cy="367.6" r="2.0"/><circle cx="372.5" cy="358.6" r="2.0"/><circle cx="363.8" cy="358.2" r="2.0"/><circle cx="389" cy="350.3" r="2.0"/><circle cx="405" cy="357.3" r="2.0"/><circle cx="385.7" cy="353.3" r="2.0"/><circle cx="382.3" cy="360.9" r="2.0"/><circle cx="398.7" cy="337.1" r="2.0"/><circle cx="432.3" cy="252.3" r="2.0"/><circle cx="353.8" cy="357.7" r="2.0"/><circle cx="372.1" cy="349" r="2.0"/><circle cx="320.4" cy="329" r="2.0"/><circle cx="384.3" cy="367.9" r="2.0"/><circle cx="332.9" cy="345" r="2.0"/><circle cx="413.5" cy="346.8" r="2.0"/><circle cx="400.9" cy="332.6" r="2.0"/><circle cx="373.7" cy="351.5" r="2.0"/><circle cx="413.4" cy="349.2" r="2.0"/><circle cx="355.5" cy="359.5" r="2.0"/><circle cx="375.8" cy="357.3" r="2.0"/><circle cx="384.4" cy="355.7" r="2.0"/><circle cx="399.7" cy="330.2" r="2.0"/><circle cx="316" cy="360.4" r="2.0"/><circle cx="378.9" cy="361.3" r="2.0"/><circle cx="382.5" cy="340.8" r="2.0"/><circle cx="380.9" cy="352.9" r="2.0"/><circle cx="347.6" cy="357.9" r="2.0"/><circle cx="413.4" cy="352.3" r="2.0"/><circle cx="380.9" cy="359.4" r="2.0"/><circle cx="408.1" cy="340.1" r="2.0"/><circle cx="333.3" cy="347.6" r="2.0"/><circle cx="361.9" cy="362.8" r="2.0"/><circle cx="322.7" cy="345.4" r="2.0"/><circle cx="326.5" cy="364.9" r="2.0"/><circle cx="368.7" cy="368.4" r="2.0"/><circle cx="389.5" cy="345.4" r="2.0"/><circle cx="373.8" cy="359.7" r="2.0"/><circle cx="333.1" cy="354.8" r="2.0"/><circle cx="347.3" cy="356.8" r="2.0"/><circle cx="414" cy="337.5" r="2.0"/><circle cx="322.9" cy="363.5" r="2.0"/><circle cx="398.2" cy="312.2" r="2.0"/><circle cx="410.7" cy="360.6" r="2.0"/><circle cx="311.7" cy="334.8" r="2.0"/></g>
<g fill="#bdd7ee" stroke="#a6c8e8" stroke-width="0.5"><circle cx="527.4" cy="372.7" r="2.0"/><circle cx="519.6" cy="361.5" r="2.0"/><circle cx="542" cy="344.3" r="2.0"/><circle cx="540.4" cy="336.8" r="2.0"/><circle cx="548" cy="380.2" r="2.0"/><circle cx="575.7" cy="291.8" r="2.0"/><circle cx="545.8" cy="369.1" r="2.0"/><circle cx="510" cy="361.7" r="2.0"/><circle cx="541.7" cy="366.4" r="2.0"/><circle cx="529.7" cy="359.2" r="2.0"/><circle cx="565.8" cy="347.6" r="2.0"/><circle cx="589.2" cy="314.3" r="2.0"/><circle cx="541.8" cy="366.6" r="2.0"/><circle cx="541.3" cy="361.9" r="2.0"/><circle cx="568.4" cy="342.8" r="2.0"/><circle cx="550.2" cy="336.4" r="2.0"/><circle cx="538.1" cy="371.2" r="2.0"/><circle cx="548.2" cy="358.6" r="2.0"/><circle cx="541.3" cy="361.2" r="2.0"/><circle cx="556.9" cy="350.3" r="2.0"/><circle cx="527.5" cy="373.4" r="2.0"/><circle cx="576.8" cy="354.5" r="2.0"/><circle cx="568" cy="340.5" r="2.0"/><circle cx="548.2" cy="355.7" r="2.0"/><circle cx="545.6" cy="347.7" r="2.0"/><circle cx="579.2" cy="355" r="2.0"/><circle cx="531.5" cy="363.8" r="2.0"/><circle cx="559.9" cy="354.4" r="2.0"/><circle cx="663.6" cy="338.6" r="2.0"/><circle cx="543.3" cy="373.6" r="2.0"/><circle cx="541.6" cy="345.2" r="2.0"/><circle cx="596.2" cy="331.8" r="2.0"/><circle cx="545.2" cy="369.6" r="2.0"/><circle cx="538.5" cy="359" r="2.0"/><circle cx="535" cy="383.2" r="2.0"/><circle cx="568.3" cy="305.2" r="2.0"/><circle cx="576.1" cy="273.2" r="2.0"/><circle cx="522.1" cy="368.1" r="2.0"/><circle cx="541.6" cy="361.8" r="2.0"/><circle cx="508.4" cy="359.7" r="2.0"/><circle cx="550.8" cy="320.5" r="2.0"/><circle cx="545.2" cy="347" r="2.0"/><circle cx="592.2" cy="338.8" r="2.0"/><circle cx="516.7" cy="349.8" r="2.0"/><circle cx="527.5" cy="366.4" r="2.0"/><circle cx="581.5" cy="356.9" r="2.0"/><circle cx="529.5" cy="342.6" r="2.0"/><circle cx="558.4" cy="337.3" r="2.0"/><circle cx="595.8" cy="338.1" r="2.0"/><circle cx="522.1" cy="364.9" r="2.0"/><circle cx="595.7" cy="304.3" r="2.0"/><circle cx="550.3" cy="342.8" r="2.0"/><circle cx="531.7" cy="365" r="2.0"/><circle cx="522.3" cy="337.6" r="2.0"/><circle cx="522.2" cy="344.6" r="2.0"/><circle cx="575.1" cy="320.1" r="2.0"/><circle cx="568.4" cy="304" r="2.0"/><circle cx="519.7" cy="382.4" r="2.0"/><circle cx="535.4" cy="361.6" r="2.0"/><circle cx="532.1" cy="375.6" r="2.0"/><circle cx="547.9" cy="370.9" r="2.0"/><circle cx="545.5" cy="368.7" r="2.0"/><circle cx="571" cy="341.9" r="2.0"/><circle cx="545.9" cy="343" r="2.0"/><circle cx="542" cy="343.9" r="2.0"/><circle cx="534.2" cy="376.7" r="2.0"/><circle cx="527.3" cy="350.2" r="2.0"/><circle cx="535" cy="383.2" r="2.0"/><circle cx="575.4" cy="302.3" r="2.0"/><circle cx="560.1" cy="344" r="2.0"/><circle cx="638.7" cy="334" r="2.0"/><circle cx="550.2" cy="340.2" r="2.0"/><circle cx="568.4" cy="300.8" r="2.0"/><circle cx="638.7" cy="336.3" r="2.0"/><circle cx="531.9" cy="353.2" r="2.0"/><circle cx="577.1" cy="347.6" r="2.0"/><circle cx="610.9" cy="349.9" r="2.0"/><circle cx="505.4" cy="360.8" r="2.0"/><circle cx="510.2" cy="350.9" r="2.0"/><circle cx="545.3" cy="365.9" r="2.0"/><circle cx="568.1" cy="349.4" r="2.0"/><circle cx="560.9" cy="354.9" r="2.0"/><circle cx="520.1" cy="377.9" r="2.0"/><circle cx="534.6" cy="362.8" r="2.0"/><circle cx="510.3" cy="358" r="2.0"/><circle cx="524.9" cy="379.8" r="2.0"/><circle cx="579" cy="339.8" r="2.0"/><circle cx="595.8" cy="322.5" r="2.0"/><circle cx="566" cy="345.4" r="2.0"/><circle cx="592.2" cy="339.4" r="2.0"/><circle cx="575.2" cy="286.2" r="2.0"/><circle cx="555.8" cy="345.3" r="2.0"/><circle cx="532" cy="378.4" r="2.0"/><circle cx="587.2" cy="357.7" r="2.0"/><circle cx="545.7" cy="379.7" r="2.0"/><circle cx="531.5" cy="381.2" r="2.0"/><circle cx="529.8" cy="363" r="2.0"/><circle cx="566.1" cy="329.2" r="2.0"/><circle cx="548.1" cy="353.1" r="2.0"/><circle cx="562.7" cy="315.4" r="2.0"/><circle cx="620.5" cy="337.1" r="2.0"/><circle cx="566.3" cy="317.4" r="2.0"/><circle cx="529.8" cy="361.5" r="2.0"/><circle cx="541.6" cy="359.3" r="2.0"/><circle cx="624.9" cy="346.1" r="2.0"/><circle cx="517.4" cy="344.2" r="2.0"/><circle cx="604.9" cy="338" r="2.0"/><circle cx="535.4" cy="341.9" r="2.0"/><circle cx="613.3" cy="337" r="2.0"/><circle cx="527.3" cy="371" r="2.0"/><circle cx="562.9" cy="345.4" r="2.0"/><circle cx="559.7" cy="354.5" r="2.0"/><circle cx="577.5" cy="353.4" r="2.0"/><circle cx="545.9" cy="379.9" r="2.0"/><circle cx="543.8" cy="369" r="2.0"/><circle cx="548.3" cy="330.5" r="2.0"/><circle cx="522.1" cy="363.3" r="2.0"/><circle cx="663.6" cy="357.1" r="2.0"/><circle cx="530" cy="369.6" r="2.0"/><circle cx="527.4" cy="347.2" r="2.0"/><circle cx="547.9" cy="361.7" r="2.0"/><circle cx="520.1" cy="348.8" r="2.0"/><circle cx="531.5" cy="345.9" r="2.0"/><circle cx="579.1" cy="324.3" r="2.0"/><circle cx="560.4" cy="311" r="2.0"/><circle cx="550.1" cy="346.3" r="2.0"/><circle cx="593" cy="345.1" r="2.0"/><circle cx="519.9" cy="351.1" r="2.0"/><circle cx="529.6" cy="361.4" r="2.0"/><circle cx="524.8" cy="372" r="2.0"/><circle cx="548.3" cy="361.3" r="2.0"/><circle cx="550.8" cy="345.7" r="2.0"/><circle cx="596.1" cy="325.8" r="2.0"/><circle cx="534.7" cy="370.5" r="2.0"/><circle cx="577.6" cy="327.8" r="2.0"/><circle cx="595.9" cy="317.8" r="2.0"/><circle cx="559.6" cy="322.1" r="2.0"/><circle cx="563.2" cy="343.1" r="2.0"/><circle cx="555.5" cy="310.5" r="2.0"/><circle cx="567.7" cy="334.9" r="2.0"/><circle cx="577.1" cy="314.1" r="2.0"/><circle cx="562.9" cy="331.3" r="2.0"/><circle cx="570.4" cy="335" r="2.0"/><circle cx="596" cy="301.7" r="2.0"/><circle cx="548" cy="377.1" r="2.0"/><circle cx="592.9" cy="345.7" r="2.0"/><circle cx="534.4" cy="369.2" r="2.0"/><circle cx="534.8" cy="358.6" r="2.0"/><circle cx="525.3" cy="356.9" r="2.0"/><circle cx="575.6" cy="318.6" r="2.0"/><circle cx="622" cy="368.3" r="2.0"/><circle cx="564.7" cy="291.5" r="2.0"/><circle cx="586.8" cy="351.9" r="2.0"/><circle cx="558.5" cy="296.7" r="2.0"/><circle cx="547.9" cy="353.2" r="2.0"/><circle cx="611.4" cy="349.1" r="2.0"/><circle cx="529.8" cy="363.1" r="2.0"/><circle cx="529.9" cy="355.7" r="2.0"/><circle cx="522.5" cy="362.7" r="2.0"/><circle cx="563.2" cy="352.5" r="2.0"/><circle cx="579" cy="318" r="2.0"/><circle cx="538.5" cy="345.2" r="2.0"/><circle cx="553.7" cy="335" r="2.0"/><circle cx="524.6" cy="377.3" r="2.0"/><circle cx="565.8" cy="328.7" r="2.0"/><circle cx="570.9" cy="338.2" r="2.0"/><circle cx="577" cy="341.3" r="2.0"/><circle cx="527.7" cy="365.5" r="2.0"/><circle cx="521.9" cy="329.4" r="2.0"/><circle cx="578.7" cy="315.8" r="2.0"/><circle cx="562.9" cy="313.7" r="2.0"/><circle cx="527.7" cy="368.5" r="2.0"/><circle cx="522" cy="362.8" r="2.0"/><circle cx="564.7" cy="272" r="2.0"/><circle cx="534.3" cy="363.4" r="2.0"/><circle cx="568" cy="339.4" r="2.0"/><circle cx="535.6" cy="377.7" r="2.0"/><circle cx="541.5" cy="354" r="2.0"/><circle cx="541.7" cy="370.7" r="2.0"/><circle cx="527.5" cy="355.2" r="2.0"/><circle cx="521.8" cy="367.4" r="2.0"/><circle cx="547.8" cy="362.7" r="2.0"/><circle cx="579.7" cy="286.7" r="2.0"/><circle cx="567.9" cy="329.4" r="2.0"/><circle cx="553.6" cy="324.5" r="2.0"/><circle cx="547.8" cy="375.3" r="2.0"/><circle cx="578.8" cy="331.2" r="2.0"/><circle cx="549.3" cy="319.3" r="2.0"/><circle cx="592.6" cy="342.7" r="2.0"/><circle cx="534.3" cy="364.3" r="2.0"/><circle cx="548" cy="304.7" r="2.0"/><circle cx="527.4" cy="351.8" r="2.0"/><circle cx="596" cy="328.4" r="2.0"/><circle cx="535.8" cy="365.2" r="2.0"/><circle cx="568.6" cy="302.2" r="2.0"/><circle cx="527.1" cy="355.7" r="2.0"/><circle cx="557.9" cy="341.8" r="2.0"/><circle cx="570.5" cy="339.2" r="2.0"/><circle cx="559.5" cy="324.9" r="2.0"/><circle cx="531.7" cy="330.9" r="2.0"/><circle cx="524.9" cy="347" r="2.0"/><circle cx="579.1" cy="324.2" r="2.0"/><circle cx="529.9" cy="369.8" r="2.0"/><circle cx="565.9" cy="350" r="2.0"/><circle cx="538.2" cy="352.8" r="2.0"/><circle cx="529.7" cy="340.8" r="2.0"/><circle cx="553.9" cy="342.9" r="2.0"/><circle cx="543.4" cy="362.2" r="2.0"/><circle cx="532.2" cy="362" r="2.0"/><circle cx="553.5" cy="327.1" r="2.0"/><circle cx="531.5" cy="336" r="2.0"/><circle cx="511.6" cy="347.4" r="2.0"/><circle cx="563.5" cy="351.2" r="2.0"/><circle cx="620.2" cy="345.2" r="2.0"/><circle cx="527.6" cy="336.6" r="2.0"/><circle cx="522.3" cy="330.4" r="2.0"/><circle cx="525.3" cy="373.3" r="2.0"/><circle cx="527.1" cy="351" r="2.0"/><circle cx="517.1" cy="348.9" r="2.0"/><circle cx="535.3" cy="373" r="2.0"/><circle cx="562.7" cy="328.5" r="2.0"/><circle cx="575.7" cy="340.9" r="2.0"/><circle cx="535.5" cy="371.4" r="2.0"/><circle cx="543.1" cy="376.9" r="2.0"/><circle cx="543.2" cy="363.3" r="2.0"/><circle cx="538.3" cy="346.4" r="2.0"/><circle cx="557.9" cy="338.1" r="2.0"/><circle cx="548.1" cy="347.3" r="2.0"/><circle cx="538.5" cy="359.3" r="2.0"/><circle cx="529.6" cy="350.7" r="2.0"/><circle cx="596.2" cy="323.1" r="2.0"/><circle cx="532.2" cy="334.4" r="2.0"/><circle cx="558.4" cy="355.9" r="2.0"/><circle cx="541.8" cy="374.1" r="2.0"/><circle cx="578.8" cy="354.7" r="2.0"/><circle cx="548.2" cy="368" r="2.0"/><circle cx="568.2" cy="322.7" r="2.0"/><circle cx="522.5" cy="349.1" r="2.0"/><circle cx="547.8" cy="347.2" r="2.0"/><circle cx="543.3" cy="374.8" r="2.0"/><circle cx="624.6" cy="348.2" r="2.0"/><circle cx="508.7" cy="366.3" r="2.0"/><circle cx="511.3" cy="352.8" r="2.0"/><circle cx="625.2" cy="348.3" r="2.0"/><circle cx="527.2" cy="374.8" r="2.0"/><circle cx="548.3" cy="352.9" r="2.0"/><circle cx="519.8" cy="335.2" r="2.0"/><circle cx="566.2" cy="352.4" r="2.0"/><circle cx="542.1" cy="386.3" r="2.0"/><circle cx="592.1" cy="335.6" r="2.0"/><circle cx="553.1" cy="346.6" r="2.0"/><circle cx="527.1" cy="351.5" r="2.0"/><circle cx="545.3" cy="370.5" r="2.0"/><circle cx="532.1" cy="337.1" r="2.0"/><circle cx="517.1" cy="356.5" r="2.0"/><circle cx="563.1" cy="342.2" r="2.0"/><circle cx="512.3" cy="340.6" r="2.0"/><circle cx="535.4" cy="363.3" r="2.0"/><circle cx="590.4" cy="342.8" r="2.0"/><circle cx="566.1" cy="334.9" r="2.0"/><circle cx="568.3" cy="345.8" r="2.0"/><circle cx="548" cy="343.7" r="2.0"/><circle cx="519.7" cy="374.4" r="2.0"/><circle cx="553.4" cy="335.5" r="2.0"/><circle cx="532.1" cy="384.7" r="2.0"/><circle cx="522.1" cy="368.5" r="2.0"/><circle cx="560.2" cy="332.7" r="2.0"/><circle cx="534.4" cy="372.1" r="2.0"/><circle cx="589.9" cy="339.2" r="2.0"/><circle cx="577.6" cy="358.6" r="2.0"/><circle cx="558.5" cy="348" r="2.0"/><circle cx="550.4" cy="329.6" r="2.0"/><circle cx="530" cy="368.6" r="2.0"/><circle cx="522.5" cy="339.2" r="2.0"/><circle cx="587.1" cy="354.8" r="2.0"/><circle cx="579.3" cy="325.3" r="2.0"/><circle cx="556.9" cy="348.8" r="2.0"/><circle cx="520.3" cy="362.7" r="2.0"/><circle cx="568.1" cy="344.4" r="2.0"/><circle cx="618.9" cy="343.3" r="2.0"/><circle cx="522.5" cy="371" r="2.0"/><circle cx="522.5" cy="360.1" r="2.0"/><circle cx="522.4" cy="341.1" r="2.0"/><circle cx="538.5" cy="342.9" r="2.0"/><circle cx="532.2" cy="331.1" r="2.0"/><circle cx="575.6" cy="314.4" r="2.0"/><circle cx="550.4" cy="340.2" r="2.0"/><circle cx="524.9" cy="373.8" r="2.0"/><circle cx="522.6" cy="348.3" r="2.0"/><circle cx="549.6" cy="336.6" r="2.0"/><circle cx="531.5" cy="355.2" r="2.0"/><circle cx="620.4" cy="338.5" r="2.0"/><circle cx="543.2" cy="369.9" r="2.0"/><circle cx="519.8" cy="386.2" r="2.0"/><circle cx="531.5" cy="342.7" r="2.0"/><circle cx="521.8" cy="360.7" r="2.0"/><circle cx="531.9" cy="358.8" r="2.0"/><circle cx="541.3" cy="385.3" r="2.0"/><circle cx="538.3" cy="375.8" r="2.0"/><circle cx="560.7" cy="354.3" r="2.0"/><circle cx="575.3" cy="335.3" r="2.0"/><circle cx="553.5" cy="297.2" r="2.0"/><circle cx="562.5" cy="300.9" r="2.0"/><circle cx="519.6" cy="373" r="2.0"/><circle cx="516.9" cy="340.9" r="2.0"/><circle cx="534.3" cy="349.8" r="2.0"/><circle cx="520.3" cy="383.2" r="2.0"/><circle cx="559.5" cy="336" r="2.0"/><circle cx="550.7" cy="325.9" r="2.0"/><circle cx="522.1" cy="338" r="2.0"/><circle cx="516.7" cy="357.5" r="2.0"/><circle cx="524.8" cy="372" r="2.0"/><circle cx="510.2" cy="360.1" r="2.0"/><circle cx="620.1" cy="346.6" r="2.0"/><circle cx="532.1" cy="374.4" r="2.0"/><circle cx="553.9" cy="336" r="2.0"/><circle cx="531.5" cy="340" r="2.0"/><circle cx="568.6" cy="335.7" r="2.0"/><circle cx="596.1" cy="320.5" r="2.0"/><circle cx="562.5" cy="337" r="2.0"/><circle cx="534.6" cy="378.3" r="2.0"/><circle cx="538.5" cy="348" r="2.0"/><circle cx="534.6" cy="381.7" r="2.0"/><circle cx="534.8" cy="375.5" r="2.0"/><circle cx="568" cy="329" r="2.0"/><circle cx="545.3" cy="360.5" r="2.0"/><circle cx="522.5" cy="333.6" r="2.0"/><circle cx="522.2" cy="371.8" r="2.0"/><circle cx="520.2" cy="385.6" r="2.0"/><circle cx="508.6" cy="350" r="2.0"/><circle cx="553.5" cy="333.7" r="2.0"/><circle cx="522.3" cy="340.1" r="2.0"/><circle cx="535.4" cy="377.5" r="2.0"/><circle cx="550.1" cy="308.2" r="2.0"/><circle cx="556.2" cy="335.7" r="2.0"/><circle cx="520.2" cy="362.3" r="2.0"/><circle cx="565.8" cy="354.2" r="2.0"/><circle cx="519.8" cy="361.3" r="2.0"/><circle cx="596" cy="334.9" r="2.0"/><circle cx="563.2" cy="306.6" r="2.0"/><circle cx="548.3" cy="307.1" r="2.0"/><circle cx="538.8" cy="372" r="2.0"/><circle cx="548.3" cy="350.3" r="2.0"/><circle cx="562.9" cy="341.4" r="2.0"/><circle cx="568" cy="349.1" r="2.0"/><circle cx="527.1" cy="360.8" r="2.0"/><circle cx="563" cy="343.9" r="2.0"/><circle cx="522.3" cy="359.3" r="2.0"/><circle cx="508.1" cy="346.8" r="2.0"/><circle cx="512.3" cy="338" r="2.0"/><circle cx="577.1" cy="325.1" r="2.0"/><circle cx="541.4" cy="352.3" r="2.0"/><circle cx="560.9" cy="336" r="2.0"/><circle cx="519.8" cy="359.4" r="2.0"/><circle cx="548.3" cy="331.2" r="2.0"/><circle cx="618.4" cy="339.8" r="2.0"/><circle cx="520.3" cy="340.5" r="2.0"/><circle cx="550.8" cy="341.2" r="2.0"/><circle cx="527.7" cy="360.6" r="2.0"/><circle cx="532" cy="335" r="2.0"/><circle cx="553.4" cy="320.8" r="2.0"/><circle cx="618.3" cy="340.4" r="2.0"/><circle cx="548.3" cy="324.7" r="2.0"/><circle cx="566" cy="341.7" r="2.0"/><circle cx="562.9" cy="330.9" r="2.0"/><circle cx="535.9" cy="369.3" r="2.0"/><circle cx="559.7" cy="325.6" r="2.0"/><circle cx="516.7" cy="369.8" r="2.0"/><circle cx="524.9" cy="351" r="2.0"/><circle cx="524.7" cy="343.4" r="2.0"/><circle cx="527.5" cy="353.9" r="2.0"/><circle cx="580.2" cy="289.1" r="2.0"/><circle cx="522.1" cy="357.5" r="2.0"/><circle cx="547.9" cy="366.3" r="2.0"/><circle cx="538.3" cy="354.9" r="2.0"/><circle cx="529.7" cy="347.5" r="2.0"/><circle cx="553.6" cy="298.8" r="2.0"/><circle cx="547.7" cy="357.7" r="2.0"/><circle cx="517.3" cy="354.6" r="2.0"/><circle cx="548.1" cy="346.8" r="2.0"/><circle cx="542" cy="384.2" r="2.0"/><circle cx="541.9" cy="363.9" r="2.0"/><circle cx="566.2" cy="343.2" r="2.0"/><circle cx="553.9" cy="343.5" r="2.0"/><circle cx="522.4" cy="332.5" r="2.0"/><circle cx="538.6" cy="370" r="2.0"/><circle cx="611.4" cy="346.2" r="2.0"/><circle cx="558.6" cy="311.5" r="2.0"/><circle cx="542" cy="372.2" r="2.0"/><circle cx="531.8" cy="384.4" r="2.0"/><circle cx="543.3" cy="375.1" r="2.0"/><circle cx="567.9" cy="324.7" r="2.0"/><circle cx="576.8" cy="324.7" r="2.0"/><circle cx="532.2" cy="384.6" r="2.0"/><circle cx="620.5" cy="339.2" r="2.0"/><circle cx="564.7" cy="295" r="2.0"/><circle cx="556.6" cy="336.2" r="2.0"/><circle cx="530.1" cy="361.3" r="2.0"/><circle cx="575.3" cy="341.2" r="2.0"/><circle cx="618.3" cy="341.2" r="2.0"/><circle cx="532" cy="360.8" r="2.0"/><circle cx="592.5" cy="330.8" r="2.0"/><circle cx="543.8" cy="359.8" r="2.0"/><circle cx="590" cy="337.5" r="2.0"/><circle cx="558.3" cy="350.1" r="2.0"/><circle cx="525" cy="384.4" r="2.0"/><circle cx="535.9" cy="345.8" r="2.0"/><circle cx="524.7" cy="350.2" r="2.0"/><circle cx="566" cy="329.6" r="2.0"/><circle cx="556.6" cy="343.9" r="2.0"/><circle cx="543.6" cy="344.8" r="2.0"/><circle cx="592.4" cy="348.2" r="2.0"/><circle cx="508.4" cy="361.5" r="2.0"/><circle cx="532.1" cy="340.1" r="2.0"/><circle cx="590" cy="314.2" r="2.0"/><circle cx="541.4" cy="341.9" r="2.0"/><circle cx="575.5" cy="335.1" r="2.0"/><circle cx="566.4" cy="340.5" r="2.0"/><circle cx="578.7" cy="325.2" r="2.0"/><circle cx="550.2" cy="309" r="2.0"/><circle cx="548.5" cy="363.4" r="2.0"/><circle cx="522.5" cy="339.3" r="2.0"/><circle cx="534.4" cy="352.9" r="2.0"/><circle cx="555.8" cy="308.9" r="2.0"/><circle cx="535.9" cy="348" r="2.0"/><circle cx="556.8" cy="332.2" r="2.0"/><circle cx="555.6" cy="344.3" r="2.0"/><circle cx="566.2" cy="337.7" r="2.0"/><circle cx="565.8" cy="308.5" r="2.0"/><circle cx="545.8" cy="348.7" r="2.0"/><circle cx="609.2" cy="344.3" r="2.0"/><circle cx="563.1" cy="335.3" r="2.0"/><circle cx="578.7" cy="327.5" r="2.0"/><circle cx="530" cy="339.2" r="2.0"/><circle cx="522.4" cy="377" r="2.0"/><circle cx="508.9" cy="376.5" r="2.0"/><circle cx="509.7" cy="350.5" r="2.0"/><circle cx="532" cy="386.9" r="2.0"/><circle cx="522" cy="352.7" r="2.0"/><circle cx="545.2" cy="344.6" r="2.0"/><circle cx="534.2" cy="373.2" r="2.0"/><circle cx="553.7" cy="294.1" r="2.0"/><circle cx="562.5" cy="337.8" r="2.0"/><circle cx="508.5" cy="356.5" r="2.0"/><circle cx="553.8" cy="300.1" r="2.0"/><circle cx="567.8" cy="305.9" r="2.0"/><circle cx="613.3" cy="347.4" r="2.0"/><circle cx="531.7" cy="350.8" r="2.0"/><circle cx="619.3" cy="356.2" r="2.0"/><circle cx="568.3" cy="337.3" r="2.0"/><circle cx="535.1" cy="356.5" r="2.0"/><circle cx="567.7" cy="337.7" r="2.0"/><circle cx="535.2" cy="350.3" r="2.0"/><circle cx="534.4" cy="380.1" r="2.0"/><circle cx="511.7" cy="377.7" r="2.0"/><circle cx="562.6" cy="337.5" r="2.0"/><circle cx="519.6" cy="375.2" r="2.0"/><circle cx="578.9" cy="326.7" r="2.0"/><circle cx="550.9" cy="331.7" r="2.0"/><circle cx="510.4" cy="362.5" r="2.0"/><circle cx="579.3" cy="324.7" r="2.0"/><circle cx="560.7" cy="348.5" r="2.0"/><circle cx="557.2" cy="311" r="2.0"/><circle cx="542.1" cy="381.8" r="2.0"/><circle cx="548.2" cy="376.6" r="2.0"/><circle cx="525" cy="348.8" r="2.0"/><circle cx="559.7" cy="321.1" r="2.0"/><circle cx="525.1" cy="350.7" r="2.0"/><circle cx="520.3" cy="356.2" r="2.0"/><circle cx="558.1" cy="347.4" r="2.0"/><circle cx="535.7" cy="359.7" r="2.0"/><circle cx="543.5" cy="371.3" r="2.0"/><circle cx="522.3" cy="337.4" r="2.0"/><circle cx="580" cy="303.3" r="2.0"/><circle cx="553.8" cy="291.6" r="2.0"/><circle cx="547.9" cy="373.1" r="2.0"/><circle cx="644.9" cy="357.6" r="2.0"/><circle cx="566" cy="320.9" r="2.0"/><circle cx="531.7" cy="345.8" r="2.0"/><circle cx="505.4" cy="352.5" r="2.0"/><circle cx="644.9" cy="342.5" r="2.0"/><circle cx="592.7" cy="345.3" r="2.0"/><circle cx="555.7" cy="342" r="2.0"/><circle cx="534.9" cy="369.5" r="2.0"/><circle cx="612.9" cy="349.5" r="2.0"/><circle cx="522.1" cy="364.6" r="2.0"/><circle cx="665" cy="270.7" r="2.0"/><circle cx="522.2" cy="337.8" r="2.0"/><circle cx="555.9" cy="340.3" r="2.0"/><circle cx="527.8" cy="354.9" r="2.0"/><circle cx="535.2" cy="373.3" r="2.0"/><circle cx="541.8" cy="363.8" r="2.0"/><circle cx="556.2" cy="348.2" r="2.0"/><circle cx="531.5" cy="337.7" r="2.0"/><circle cx="517.2" cy="353.2" r="2.0"/><circle cx="559.4" cy="330.2" r="2.0"/><circle cx="576.8" cy="325.2" r="2.0"/><circle cx="550.8" cy="339.4" r="2.0"/><circle cx="543.8" cy="366.2" r="2.0"/><circle cx="541.4" cy="355.8" r="2.0"/><circle cx="520.2" cy="381.6" r="2.0"/><circle cx="543.8" cy="373.5" r="2.0"/><circle cx="553.8" cy="329.1" r="2.0"/><circle cx="580.1" cy="305.8" r="2.0"/><circle cx="543" cy="367.8" r="2.0"/><circle cx="531.8" cy="384.6" r="2.0"/><circle cx="561" cy="310.7" r="2.0"/><circle cx="547.7" cy="353.4" r="2.0"/><circle cx="665" cy="275.3" r="2.0"/><circle cx="549.1" cy="324.5" r="2.0"/><circle cx="550.5" cy="339.5" r="2.0"/><circle cx="535.5" cy="349" r="2.0"/><circle cx="568.4" cy="306.2" r="2.0"/><circle cx="656.6" cy="322.3" r="2.0"/><circle cx="580.9" cy="358.6" r="2.0"/><circle cx="543.6" cy="356.7" r="2.0"/><circle cx="534.9" cy="365.9" r="2.0"/><circle cx="527.7" cy="350.1" r="2.0"/><circle cx="520.3" cy="386.6" r="2.0"/><circle cx="535.2" cy="353.5" r="2.0"/><circle cx="570.9" cy="364.6" r="2.0"/><circle cx="524.8" cy="380.9" r="2.0"/><circle cx="547.9" cy="358" r="2.0"/><circle cx="579.9" cy="301.1" r="2.0"/><circle cx="521.9" cy="330.2" r="2.0"/><circle cx="548.4" cy="348.7" r="2.0"/><circle cx="520.1" cy="341.2" r="2.0"/><circle cx="541.1" cy="388.1" r="2.0"/><circle cx="568.1" cy="349.7" r="2.0"/><circle cx="531.7" cy="346.2" r="2.0"/><circle cx="545.8" cy="353.1" r="2.0"/><circle cx="524.9" cy="367.3" r="2.0"/><circle cx="547.8" cy="342.7" r="2.0"/><circle cx="560" cy="328" r="2.0"/><circle cx="541.7" cy="357.9" r="2.0"/><circle cx="530.1" cy="377.5" r="2.0"/><circle cx="580.1" cy="283.7" r="2.0"/><circle cx="553.3" cy="301.3" r="2.0"/><circle cx="550.7" cy="334.5" r="2.0"/><circle cx="579.8" cy="297.7" r="2.0"/><circle cx="595.6" cy="318.1" r="2.0"/><circle cx="532.1" cy="367.4" r="2.0"/><circle cx="522.3" cy="358.5" r="2.0"/><circle cx="522.2" cy="354.3" r="2.0"/><circle cx="541.5" cy="349.8" r="2.0"/><circle cx="550.9" cy="351.6" r="2.0"/><circle cx="563.2" cy="300.8" r="2.0"/><circle cx="570.8" cy="342.7" r="2.0"/><circle cx="548.5" cy="375.5" r="2.0"/><circle cx="506.7" cy="373" r="2.0"/><circle cx="543.6" cy="346.3" r="2.0"/><circle cx="548.2" cy="377.6" r="2.0"/><circle cx="595.7" cy="302" r="2.0"/><circle cx="577.2" cy="348.3" r="2.0"/><circle cx="549.8" cy="337.5" r="2.0"/><circle cx="541.9" cy="346.2" r="2.0"/><circle cx="553.8" cy="327.6" r="2.0"/><circle cx="530" cy="344.1" r="2.0"/><circle cx="506.6" cy="375.1" r="2.0"/><circle cx="538.5" cy="345.4" r="2.0"/><circle cx="519.8" cy="335" r="2.0"/><circle cx="579.8" cy="291.3" r="2.0"/><circle cx="532.1" cy="373.1" r="2.0"/><circle cx="563.1" cy="319.2" r="2.0"/><circle cx="548.3" cy="337" r="2.0"/><circle cx="548.4" cy="369.6" r="2.0"/><circle cx="549.5" cy="322.2" r="2.0"/><circle cx="568.2" cy="337.2" r="2.0"/><circle cx="547.6" cy="330.6" r="2.0"/><circle cx="529.9" cy="340.1" r="2.0"/><circle cx="505.7" cy="361.1" r="2.0"/><circle cx="553.5" cy="330.4" r="2.0"/><circle cx="529.4" cy="339.3" r="2.0"/><circle cx="549.7" cy="346.5" r="2.0"/><circle cx="527.2" cy="341.6" r="2.0"/><circle cx="535.7" cy="362.2" r="2.0"/><circle cx="534.5" cy="353.4" r="2.0"/><circle cx="562.7" cy="321.8" r="2.0"/><circle cx="624.4" cy="342.8" r="2.0"/><circle cx="563.2" cy="311.1" r="2.0"/><circle cx="560.2" cy="343.1" r="2.0"/><circle cx="520.3" cy="353.4" r="2.0"/><circle cx="630.7" cy="359.9" r="2.0"/><circle cx="524.5" cy="375.1" r="2.0"/><circle cx="577.4" cy="331.6" r="2.0"/><circle cx="506.9" cy="369.3" r="2.0"/><circle cx="555.4" cy="341.4" r="2.0"/><circle cx="580.3" cy="293.9" r="2.0"/><circle cx="529.4" cy="373.4" r="2.0"/><circle cx="553.2" cy="337.8" r="2.0"/><circle cx="568" cy="326.2" r="2.0"/><circle cx="609.5" cy="348.4" r="2.0"/><circle cx="568.1" cy="342.3" r="2.0"/><circle cx="622.9" cy="339" r="2.0"/><circle cx="505.3" cy="358.3" r="2.0"/><circle cx="527.7" cy="341.5" r="2.0"/><circle cx="566.2" cy="315.8" r="2.0"/><circle cx="522.5" cy="331.1" r="2.0"/><circle cx="558.1" cy="338.4" r="2.0"/><circle cx="558" cy="345.7" r="2.0"/><circle cx="532" cy="364.7" r="2.0"/><circle cx="563.5" cy="342.9" r="2.0"/><circle cx="538.7" cy="351.4" r="2.0"/><circle cx="575.4" cy="288.5" r="2.0"/><circle cx="541.8" cy="368.1" r="2.0"/><circle cx="531.5" cy="349.9" r="2.0"/><circle cx="538" cy="374.6" r="2.0"/><circle cx="527.6" cy="350.3" r="2.0"/><circle cx="565.9" cy="343.1" r="2.0"/><circle cx="548.1" cy="379.5" r="2.0"/><circle cx="531.8" cy="375.6" r="2.0"/><circle cx="527.2" cy="367.2" r="2.0"/><circle cx="553" cy="314.7" r="2.0"/><circle cx="531.9" cy="333.6" r="2.0"/><circle cx="520" cy="369.7" r="2.0"/><circle cx="562.9" cy="338.8" r="2.0"/><circle cx="556.5" cy="333.1" r="2.0"/><circle cx="556.8" cy="329.1" r="2.0"/><circle cx="577.2" cy="310.3" r="2.0"/><circle cx="550.5" cy="349.4" r="2.0"/><circle cx="575.3" cy="336.4" r="2.0"/><circle cx="577.4" cy="351.1" r="2.0"/><circle cx="524.8" cy="358.3" r="2.0"/><circle cx="521.9" cy="334" r="2.0"/><circle cx="517.2" cy="369.3" r="2.0"/><circle cx="535" cy="380.9" r="2.0"/><circle cx="524.8" cy="379.9" r="2.0"/><circle cx="575.1" cy="295.8" r="2.0"/><circle cx="547.9" cy="370.6" r="2.0"/><circle cx="531.5" cy="372.1" r="2.0"/><circle cx="535.6" cy="370" r="2.0"/><circle cx="576.1" cy="278.9" r="2.0"/><circle cx="559.7" cy="337.9" r="2.0"/><circle cx="556.4" cy="326.2" r="2.0"/><circle cx="519.8" cy="336.3" r="2.0"/><circle cx="531.8" cy="335.5" r="2.0"/><circle cx="563.2" cy="346.1" r="2.0"/><circle cx="522.3" cy="363.1" r="2.0"/><circle cx="548.3" cy="353.8" r="2.0"/><circle cx="556.6" cy="348.5" r="2.0"/><circle cx="592.5" cy="333.5" r="2.0"/><circle cx="532" cy="355.6" r="2.0"/><circle cx="550.5" cy="325.6" r="2.0"/><circle cx="517.2" cy="345.7" r="2.0"/><circle cx="567.8" cy="349.4" r="2.0"/><circle cx="543.4" cy="358" r="2.0"/><circle cx="550.4" cy="326.7" r="2.0"/><circle cx="531.9" cy="354.4" r="2.0"/><circle cx="535.1" cy="373.3" r="2.0"/><circle cx="524.6" cy="385.1" r="2.0"/><circle cx="517.3" cy="361.9" r="2.0"/><circle cx="609.6" cy="344.5" r="2.0"/><circle cx="527.4" cy="349.4" r="2.0"/><circle cx="548.1" cy="339.8" r="2.0"/><circle cx="547.9" cy="324.9" r="2.0"/><circle cx="527.5" cy="341.8" r="2.0"/><circle cx="538.3" cy="371.3" r="2.0"/><circle cx="550.3" cy="337.2" r="2.0"/><circle cx="527.7" cy="367.1" r="2.0"/><circle cx="561" cy="347.9" r="2.0"/><circle cx="555.9" cy="316.3" r="2.0"/><circle cx="622.8" cy="341.3" r="2.0"/><circle cx="552.5" cy="347.8" r="2.0"/><circle cx="611.1" cy="349" r="2.0"/><circle cx="507" cy="375.8" r="2.0"/><circle cx="589.9" cy="338.5" r="2.0"/><circle cx="527.2" cy="369.2" r="2.0"/><circle cx="541.3" cy="352.2" r="2.0"/><circle cx="548" cy="335.2" r="2.0"/><circle cx="527.8" cy="365.7" r="2.0"/><circle cx="551" cy="334.8" r="2.0"/><circle cx="568.3" cy="346.5" r="2.0"/><circle cx="520.1" cy="370" r="2.0"/><circle cx="566.4" cy="320.5" r="2.0"/><circle cx="575.6" cy="340.3" r="2.0"/><circle cx="579.2" cy="332.8" r="2.0"/><circle cx="587" cy="348.8" r="2.0"/><circle cx="638.7" cy="323.3" r="2.0"/><circle cx="548" cy="369" r="2.0"/><circle cx="577" cy="344.2" r="2.0"/><circle cx="543" cy="359.8" r="2.0"/><circle cx="622.6" cy="347.8" r="2.0"/><circle cx="522.1" cy="334.7" r="2.0"/><circle cx="583.4" cy="343" r="2.0"/><circle cx="595.9" cy="334.5" r="2.0"/><circle cx="517.4" cy="350.8" r="2.0"/><circle cx="509" cy="369.6" r="2.0"/><circle cx="543.3" cy="349.4" r="2.0"/><circle cx="511.4" cy="352.7" r="2.0"/><circle cx="529.7" cy="368.3" r="2.0"/><circle cx="545.9" cy="368.4" r="2.0"/><circle cx="568" cy="339.4" r="2.0"/><circle cx="529.8" cy="363.7" r="2.0"/><circle cx="575.3" cy="305.5" r="2.0"/><circle cx="545.7" cy="344.3" r="2.0"/><circle cx="527.8" cy="370.5" r="2.0"/><circle cx="577.4" cy="313" r="2.0"/><circle cx="555.4" cy="346.4" r="2.0"/><circle cx="560.9" cy="350.7" r="2.0"/><circle cx="534.2" cy="349.9" r="2.0"/><circle cx="568" cy="345.7" r="2.0"/><circle cx="524.8" cy="364.5" r="2.0"/><circle cx="565.8" cy="343" r="2.0"/><circle cx="527.3" cy="364.6" r="2.0"/><circle cx="590.1" cy="339.2" r="2.0"/><circle cx="559.7" cy="319.8" r="2.0"/><circle cx="550.7" cy="342.5" r="2.0"/><circle cx="623.2" cy="347.3" r="2.0"/><circle cx="545.7" cy="347.7" r="2.0"/><circle cx="531.7" cy="365.7" r="2.0"/><circle cx="543.7" cy="363.3" r="2.0"/><circle cx="535.3" cy="362.2" r="2.0"/><circle cx="570.6" cy="341.6" r="2.0"/><circle cx="562.9" cy="348.3" r="2.0"/><circle cx="545.6" cy="371.5" r="2.0"/><circle cx="540.9" cy="382.2" r="2.0"/><circle cx="560.7" cy="341.2" r="2.0"/><circle cx="596" cy="331.9" r="2.0"/><circle cx="577.3" cy="320.5" r="2.0"/><circle cx="519.7" cy="370.4" r="2.0"/><circle cx="527.3" cy="361" r="2.0"/><circle cx="541.8" cy="341.2" r="2.0"/><circle cx="548" cy="347.4" r="2.0"/><circle cx="562.9" cy="346.1" r="2.0"/><circle cx="529.7" cy="343.5" r="2.0"/><circle cx="555.6" cy="342.9" r="2.0"/><circle cx="517.3" cy="348.4" r="2.0"/><circle cx="532" cy="348.2" r="2.0"/><circle cx="595.5" cy="320.2" r="2.0"/><circle cx="565.9" cy="337.5" r="2.0"/><circle cx="570.9" cy="338.8" r="2.0"/><circle cx="541.5" cy="365.4" r="2.0"/><circle cx="508.5" cy="360.5" r="2.0"/><circle cx="531.7" cy="339.1" r="2.0"/><circle cx="565.8" cy="308.3" r="2.0"/><circle cx="559.8" cy="355.1" r="2.0"/><circle cx="522.3" cy="366.8" r="2.0"/><circle cx="563.1" cy="351.1" r="2.0"/><circle cx="541.6" cy="348.9" r="2.0"/><circle cx="623.4" cy="339.7" r="2.0"/><circle cx="524.7" cy="351.9" r="2.0"/><circle cx="534.2" cy="352" r="2.0"/><circle cx="505.7" cy="351.6" r="2.0"/><circle cx="538.3" cy="369" r="2.0"/><circle cx="565.9" cy="324" r="2.0"/><circle cx="529.9" cy="365.9" r="2.0"/><circle cx="656.8" cy="323.8" r="2.0"/><circle cx="531.7" cy="330.8" r="2.0"/><circle cx="524.8" cy="367.1" r="2.0"/><circle cx="511.7" cy="349.7" r="2.0"/><circle cx="545.7" cy="352.4" r="2.0"/><circle cx="527.8" cy="336.8" r="2.0"/><circle cx="529.7" cy="369.8" r="2.0"/><circle cx="534.9" cy="349.2" r="2.0"/><circle cx="577" cy="331.8" r="2.0"/><circle cx="620.3" cy="340.9" r="2.0"/><circle cx="579.2" cy="327" r="2.0"/><circle cx="535.8" cy="370.6" r="2.0"/><circle cx="532" cy="386.2" r="2.0"/><circle cx="545.8" cy="379.5" r="2.0"/><circle cx="529.3" cy="357.4" r="2.0"/><circle cx="625.1" cy="349.8" r="2.0"/><circle cx="505" cy="352.9" r="2.0"/><circle cx="517.1" cy="362.1" r="2.0"/><circle cx="530" cy="377.8" r="2.0"/><circle cx="566.3" cy="334.7" r="2.0"/><circle cx="531.7" cy="352.1" r="2.0"/><circle cx="618.6" cy="339.1" r="2.0"/><circle cx="531.6" cy="358.3" r="2.0"/><circle cx="548.4" cy="334.5" r="2.0"/><circle cx="657" cy="326.2" r="2.0"/><circle cx="545.9" cy="346.4" r="2.0"/><circle cx="550.3" cy="337.5" r="2.0"/><circle cx="519.9" cy="349.5" r="2.0"/><circle cx="531.6" cy="356" r="2.0"/><circle cx="565.9" cy="323.2" r="2.0"/><circle cx="522.4" cy="338.2" r="2.0"/><circle cx="527.7" cy="336.2" r="2.0"/><circle cx="560.5" cy="333.4" r="2.0"/><circle cx="520.1" cy="384.3" r="2.0"/><circle cx="529.5" cy="353.5" r="2.0"/><circle cx="555.5" cy="348.9" r="2.0"/><circle cx="612.8" cy="346.2" r="2.0"/><circle cx="527.2" cy="361.3" r="2.0"/><circle cx="550.7" cy="339.6" r="2.0"/><circle cx="558.1" cy="311.3" r="2.0"/><circle cx="548.2" cy="360.4" r="2.0"/><circle cx="532.2" cy="374.6" r="2.0"/><circle cx="548" cy="356.2" r="2.0"/><circle cx="556.4" cy="332" r="2.0"/><circle cx="566" cy="353.5" r="2.0"/><circle cx="527.1" cy="336" r="2.0"/><circle cx="543.4" cy="369" r="2.0"/><circle cx="566.2" cy="340.9" r="2.0"/><circle cx="556.4" cy="322.3" r="2.0"/><circle cx="545.6" cy="361.6" r="2.0"/><circle cx="592.2" cy="344.7" r="2.0"/><circle cx="543.7" cy="364.4" r="2.0"/><circle cx="519.8" cy="372.7" r="2.0"/><circle cx="560.5" cy="347.3" r="2.0"/><circle cx="545.8" cy="380.3" r="2.0"/><circle cx="541.6" cy="367" r="2.0"/><circle cx="548.3" cy="367.6" r="2.0"/><circle cx="622.7" cy="341.2" r="2.0"/><circle cx="531.9" cy="383.4" r="2.0"/><circle cx="552.8" cy="340.9" r="2.0"/><circle cx="538.1" cy="342.3" r="2.0"/><circle cx="521.8" cy="363.9" r="2.0"/><circle cx="519.7" cy="357.9" r="2.0"/><circle cx="531.5" cy="354.6" r="2.0"/><circle cx="529.5" cy="366.4" r="2.0"/><circle cx="522.3" cy="374.2" r="2.0"/><circle cx="563.3" cy="334.6" r="2.0"/><circle cx="516.8" cy="362.4" r="2.0"/><circle cx="520.2" cy="363.8" r="2.0"/><circle cx="566.4" cy="308.4" r="2.0"/><circle cx="560.6" cy="335.5" r="2.0"/><circle cx="577" cy="318.7" r="2.0"/><circle cx="519.8" cy="378.5" r="2.0"/><circle cx="575.2" cy="283.6" r="2.0"/><circle cx="517.3" cy="355.8" r="2.0"/><circle cx="541.8" cy="348.2" r="2.0"/><circle cx="550.7" cy="354.5" r="2.0"/><circle cx="527.5" cy="369.6" r="2.0"/><circle cx="532" cy="383.9" r="2.0"/><circle cx="556.8" cy="344.4" r="2.0"/><circle cx="545.3" cy="379.4" r="2.0"/><circle cx="527.2" cy="359.2" r="2.0"/><circle cx="564.7" cy="277.7" r="2.0"/><circle cx="545.2" cy="342.8" r="2.0"/><circle cx="613.3" cy="344" r="2.0"/><circle cx="665" cy="243.7" r="2.0"/><circle cx="529.7" cy="349.6" r="2.0"/><circle cx="609.6" cy="343.7" r="2.0"/><circle cx="512.2" cy="324.4" r="2.0"/><circle cx="524.9" cy="360.3" r="2.0"/><circle cx="555.2" cy="342.5" r="2.0"/><circle cx="534.7" cy="379.1" r="2.0"/><circle cx="524.9" cy="354.5" r="2.0"/><circle cx="553.3" cy="341.9" r="2.0"/><circle cx="553.1" cy="298.7" r="2.0"/><circle cx="531.9" cy="340.8" r="2.0"/><circle cx="579" cy="323.7" r="2.0"/><circle cx="512.1" cy="377.5" r="2.0"/><circle cx="535.3" cy="365.5" r="2.0"/><circle cx="512" cy="335.8" r="2.0"/><circle cx="531.9" cy="332.9" r="2.0"/><circle cx="575.7" cy="298.9" r="2.0"/><circle cx="525.1" cy="367.1" r="2.0"/><circle cx="535.2" cy="374.6" r="2.0"/><circle cx="520.2" cy="387.3" r="2.0"/><circle cx="516.9" cy="369.5" r="2.0"/><circle cx="543.7" cy="344.8" r="2.0"/><circle cx="521.8" cy="364" r="2.0"/><circle cx="656.8" cy="331.8" r="2.0"/><circle cx="524.8" cy="368.7" r="2.0"/><circle cx="534.6" cy="387.8" r="2.0"/><circle cx="545.3" cy="369.8" r="2.0"/><circle cx="524.8" cy="365.8" r="2.0"/><circle cx="516.9" cy="342.8" r="2.0"/><circle cx="558.6" cy="345" r="2.0"/></g>
<g fill="#bdd7ee" stroke="#a6c8e8" stroke-width="0.5"><circle cx="184.7" cy="572.6" r="2.0"/><circle cx="130.3" cy="560.7" r="2.0"/><circle cx="138" cy="575.4" r="2.0"/><circle cx="132.4" cy="567.2" r="2.0"/><circle cx="105.5" cy="570.8" r="2.0"/><circle cx="177.4" cy="572.8" r="2.0"/><circle cx="139.7" cy="561.7" r="2.0"/><circle cx="157.5" cy="555.6" r="2.0"/><circle cx="130.8" cy="565.1" r="2.0"/><circle cx="132.5" cy="559.5" r="2.0"/><circle cx="202.5" cy="584.2" r="2.0"/><circle cx="132.5" cy="581.5" r="2.0"/><circle cx="114" cy="566.7" r="2.0"/><circle cx="112" cy="527.3" r="2.0"/><circle cx="151.5" cy="561.4" r="2.0"/><circle cx="98.5" cy="568" r="2.0"/><circle cx="159.4" cy="583.2" r="2.0"/><circle cx="105.2" cy="549.4" r="2.0"/><circle cx="162.6" cy="576.4" r="2.0"/><circle cx="162.4" cy="559.5" r="2.0"/><circle cx="174.2" cy="572.9" r="2.0"/><circle cx="132.5" cy="572.7" r="2.0"/><circle cx="74.4" cy="567.8" r="2.0"/><circle cx="134.6" cy="562.8" r="2.0"/><circle cx="158.9" cy="572.2" r="2.0"/><circle cx="93.8" cy="502.4" r="2.0"/><circle cx="162.3" cy="562.2" r="2.0"/><circle cx="101.4" cy="545.4" r="2.0"/><circle cx="157.9" cy="581.8" r="2.0"/><circle cx="170.3" cy="567.3" r="2.0"/><circle cx="91.8" cy="565.5" r="2.0"/><circle cx="132.4" cy="576.5" r="2.0"/><circle cx="186.3" cy="566.3" r="2.0"/><circle cx="112.2" cy="511.7" r="2.0"/><circle cx="160" cy="575.5" r="2.0"/><circle cx="172.6" cy="577.5" r="2.0"/><circle cx="112.2" cy="478.6" r="2.0"/><circle cx="145.6" cy="581.2" r="2.0"/><circle cx="145.3" cy="559.6" r="2.0"/><circle cx="170.8" cy="555.4" r="2.0"/><circle cx="115.9" cy="550.1" r="2.0"/><circle cx="144.5" cy="540.1" r="2.0"/><circle cx="112.2" cy="521.2" r="2.0"/><circle cx="151.1" cy="561.5" r="2.0"/><circle cx="204.5" cy="588.3" r="2.0"/><circle cx="137.8" cy="572.1" r="2.0"/><circle cx="105.3" cy="573.2" r="2.0"/><circle cx="168.4" cy="573.6" r="2.0"/><circle cx="163" cy="579.2" r="2.0"/><circle cx="111.3" cy="549.1" r="2.0"/><circle cx="179.9" cy="577.3" r="2.0"/><circle cx="154.5" cy="571.7" r="2.0"/><circle cx="92.9" cy="553.9" r="2.0"/><circle cx="186.2" cy="574.4" r="2.0"/><circle cx="154" cy="575.6" r="2.0"/><circle cx="158.9" cy="557.1" r="2.0"/><circle cx="132.2" cy="581.1" r="2.0"/><circle cx="108.2" cy="557" r="2.0"/><circle cx="51" cy="557.4" r="2.0"/><circle cx="119" cy="507" r="2.0"/><circle cx="105.6" cy="563" r="2.0"/><circle cx="138.3" cy="580.9" r="2.0"/><circle cx="148.8" cy="597.4" r="2.0"/><circle cx="134.4" cy="559.4" r="2.0"/><circle cx="139.5" cy="554.6" r="2.0"/><circle cx="157.4" cy="561.5" r="2.0"/><circle cx="130.7" cy="582.8" r="2.0"/><circle cx="134.3" cy="559.5" r="2.0"/><circle cx="107.9" cy="573.2" r="2.0"/><circle cx="96.1" cy="560.4" r="2.0"/><circle cx="154" cy="568.3" r="2.0"/><circle cx="77.9" cy="524.5" r="2.0"/><circle cx="184.1" cy="569.7" r="2.0"/><circle cx="111.8" cy="538.6" r="2.0"/><circle cx="168.6" cy="575.4" r="2.0"/><circle cx="105.3" cy="544.4" r="2.0"/><circle cx="205.5" cy="575.5" r="2.0"/><circle cx="116.3" cy="555.7" r="2.0"/><circle cx="184.3" cy="571.9" r="2.0"/><circle cx="130.8" cy="576.3" r="2.0"/><circle cx="77.4" cy="530.9" r="2.0"/><circle cx="112.4" cy="494.7" r="2.0"/><circle cx="144.9" cy="578.7" r="2.0"/><circle cx="174.2" cy="565.3" r="2.0"/><circle cx="174.7" cy="572.5" r="2.0"/><circle cx="148.1" cy="570.6" r="2.0"/><circle cx="199.8" cy="583.8" r="2.0"/><circle cx="116.2" cy="567.8" r="2.0"/><circle cx="151.8" cy="574.2" r="2.0"/><circle cx="134.7" cy="564.6" r="2.0"/><circle cx="136.7" cy="565.6" r="2.0"/><circle cx="101.2" cy="546.2" r="2.0"/><circle cx="202.6" cy="573.7" r="2.0"/><circle cx="154.6" cy="572.7" r="2.0"/><circle cx="151.7" cy="560.6" r="2.0"/><circle cx="186.4" cy="576.4" r="2.0"/><circle cx="154.6" cy="562.8" r="2.0"/><circle cx="159.3" cy="585.4" r="2.0"/><circle cx="108.5" cy="574.1" r="2.0"/><circle cx="118.9" cy="518.1" r="2.0"/><circle cx="154.4" cy="587.8" r="2.0"/><circle cx="117" cy="555.3" r="2.0"/><circle cx="140" cy="570.7" r="2.0"/><circle cx="158.9" cy="563.6" r="2.0"/><circle cx="107.9" cy="573.1" r="2.0"/><circle cx="142.4" cy="574.2" r="2.0"/><circle cx="145.7" cy="569.2" r="2.0"/><circle cx="94.6" cy="555.2" r="2.0"/><circle cx="114.4" cy="544.2" r="2.0"/><circle cx="60.7" cy="542.5" r="2.0"/><circle cx="50.8" cy="545.9" r="2.0"/><circle cx="151.8" cy="574.7" r="2.0"/><circle cx="158.9" cy="555.9" r="2.0"/><circle cx="130.7" cy="566.1" r="2.0"/><circle cx="176.8" cy="565" r="2.0"/><circle cx="157.7" cy="586.2" r="2.0"/><circle cx="77.9" cy="533.3" r="2.0"/><circle cx="184.6" cy="571.8" r="2.0"/><circle cx="179.9" cy="575.6" r="2.0"/><circle cx="184.5" cy="581.6" r="2.0"/><circle cx="88.5" cy="565.5" r="2.0"/><circle cx="209.1" cy="574.4" r="2.0"/><circle cx="142.9" cy="573.1" r="2.0"/><circle cx="151.6" cy="565.4" r="2.0"/><circle cx="132.1" cy="578.1" r="2.0"/><circle cx="88.5" cy="565.7" r="2.0"/><circle cx="56.6" cy="556.9" r="2.0"/><circle cx="130.3" cy="568.1" r="2.0"/><circle cx="111.3" cy="553.8" r="2.0"/><circle cx="165.3" cy="566.5" r="2.0"/><circle cx="151.1" cy="559.8" r="2.0"/><circle cx="189.3" cy="568.1" r="2.0"/><circle cx="108.5" cy="561.4" r="2.0"/><circle cx="142.8" cy="580.9" r="2.0"/><circle cx="77.7" cy="524.4" r="2.0"/><circle cx="186.1" cy="569" r="2.0"/><circle cx="139.8" cy="577" r="2.0"/><circle cx="194.4" cy="575.1" r="2.0"/><circle cx="162.9" cy="578.1" r="2.0"/><circle cx="145.4" cy="567.7" r="2.0"/><circle cx="172.7" cy="561.7" r="2.0"/><circle cx="138" cy="563.7" r="2.0"/><circle cx="65.3" cy="543.8" r="2.0"/><circle cx="119.1" cy="470.1" r="2.0"/><circle cx="142.3" cy="560.1" r="2.0"/><circle cx="145" cy="574" r="2.0"/><circle cx="105.4" cy="567.5" r="2.0"/><circle cx="173.1" cy="584.6" r="2.0"/><circle cx="158.9" cy="586.2" r="2.0"/><circle cx="134.4" cy="564.7" r="2.0"/><circle cx="162.4" cy="581.7" r="2.0"/><circle cx="111.7" cy="540.4" r="2.0"/><circle cx="145.6" cy="578.6" r="2.0"/><circle cx="159.4" cy="565.7" r="2.0"/><circle cx="180.1" cy="560.3" r="2.0"/><circle cx="77.7" cy="528.2" r="2.0"/><circle cx="114.5" cy="553.1" r="2.0"/><circle cx="170.2" cy="565.6" r="2.0"/><circle cx="132.5" cy="576.7" r="2.0"/><circle cx="138" cy="577.5" r="2.0"/><circle cx="139.9" cy="558.7" r="2.0"/><circle cx="157.9" cy="588.7" r="2.0"/><circle cx="154.6" cy="561.2" r="2.0"/><circle cx="74.7" cy="590.4" r="2.0"/><circle cx="107.9" cy="567.2" r="2.0"/><circle cx="194.6" cy="583.3" r="2.0"/><circle cx="142.8" cy="577.1" r="2.0"/><circle cx="145.3" cy="581.3" r="2.0"/><circle cx="132.1" cy="583.7" r="2.0"/><circle cx="134.5" cy="578.9" r="2.0"/><circle cx="162.5" cy="570.1" r="2.0"/><circle cx="159" cy="576.8" r="2.0"/><circle cx="199.6" cy="576" r="2.0"/><circle cx="51.3" cy="560.1" r="2.0"/><circle cx="108.1" cy="572.4" r="2.0"/><circle cx="140.3" cy="559.1" r="2.0"/><circle cx="184.3" cy="572" r="2.0"/><circle cx="177.2" cy="574" r="2.0"/><circle cx="114.4" cy="545.8" r="2.0"/><circle cx="112.2" cy="530.4" r="2.0"/><circle cx="134.1" cy="570.5" r="2.0"/><circle cx="136.2" cy="554.9" r="2.0"/><circle cx="136.2" cy="559.6" r="2.0"/><circle cx="151.4" cy="567.2" r="2.0"/><circle cx="74.5" cy="587.8" r="2.0"/><circle cx="162.9" cy="578" r="2.0"/><circle cx="116.5" cy="539.3" r="2.0"/><circle cx="172.6" cy="571.2" r="2.0"/><circle cx="101.5" cy="549.5" r="2.0"/><circle cx="186.3" cy="567.5" r="2.0"/><circle cx="130.4" cy="584.9" r="2.0"/><circle cx="116.8" cy="565" r="2.0"/><circle cx="186.8" cy="590.2" r="2.0"/><circle cx="189.6" cy="570" r="2.0"/><circle cx="162.7" cy="570.8" r="2.0"/><circle cx="172.7" cy="563.9" r="2.0"/><circle cx="134.8" cy="574.5" r="2.0"/><circle cx="119" cy="514.9" r="2.0"/><circle cx="132.1" cy="562.6" r="2.0"/><circle cx="180" cy="578.8" r="2.0"/><circle cx="136.2" cy="567.8" r="2.0"/><circle cx="145.3" cy="560.8" r="2.0"/><circle cx="94.7" cy="559.9" r="2.0"/><circle cx="136.4" cy="569.3" r="2.0"/><circle cx="116.8" cy="557.5" r="2.0"/><circle cx="179.6" cy="558.7" r="2.0"/><circle cx="151.1" cy="554.8" r="2.0"/><circle cx="126" cy="504.9" r="2.0"/><circle cx="157.7" cy="573.2" r="2.0"/><circle cx="112.4" cy="518.5" r="2.0"/><circle cx="114.4" cy="561.1" r="2.0"/><circle cx="132.8" cy="580.1" r="2.0"/><circle cx="208.9" cy="580" r="2.0"/><circle cx="138.1" cy="577.4" r="2.0"/><circle cx="144.7" cy="545.7" r="2.0"/><circle cx="130.8" cy="566.4" r="2.0"/><circle cx="157.4" cy="583.8" r="2.0"/><circle cx="130.4" cy="584.3" r="2.0"/><circle cx="170.5" cy="575.1" r="2.0"/><circle cx="145.6" cy="558.6" r="2.0"/><circle cx="105.6" cy="561.2" r="2.0"/><circle cx="186.1" cy="568.4" r="2.0"/><circle cx="196.9" cy="571.5" r="2.0"/><circle cx="107.5" cy="581.9" r="2.0"/><circle cx="135.2" cy="533.5" r="2.0"/><circle cx="108.3" cy="526.6" r="2.0"/><circle cx="149" cy="592.3" r="2.0"/><circle cx="93.7" cy="505.1" r="2.0"/><circle cx="177.4" cy="565.2" r="2.0"/><circle cx="105.7" cy="571.8" r="2.0"/><circle cx="159.5" cy="559.8" r="2.0"/><circle cx="68.9" cy="522.7" r="2.0"/><circle cx="172.8" cy="560.5" r="2.0"/><circle cx="76.7" cy="506.7" r="2.0"/><circle cx="163.1" cy="582.2" r="2.0"/><circle cx="105.4" cy="570.2" r="2.0"/><circle cx="115.9" cy="548.1" r="2.0"/><circle cx="116.2" cy="549.3" r="2.0"/><circle cx="114.2" cy="557.4" r="2.0"/><circle cx="105.4" cy="553.4" r="2.0"/><circle cx="116.2" cy="572.5" r="2.0"/><circle cx="132.8" cy="581" r="2.0"/><circle cx="157.9" cy="562" r="2.0"/><circle cx="142.5" cy="582.5" r="2.0"/><circle cx="180" cy="574.7" r="2.0"/><circle cx="154.5" cy="554.3" r="2.0"/><circle cx="145.4" cy="580.5" r="2.0"/><circle cx="140" cy="572.6" r="2.0"/><circle cx="157.5" cy="565.6" r="2.0"/><circle cx="154" cy="581.9" r="2.0"/><circle cx="170.3" cy="573.4" r="2.0"/><circle cx="205.2" cy="584.4" r="2.0"/><circle cx="162.3" cy="565.9" r="2.0"/><circle cx="108.4" cy="567.7" r="2.0"/><circle cx="92.4" cy="539" r="2.0"/><circle cx="199.1" cy="578" r="2.0"/><circle cx="91.5" cy="566.1" r="2.0"/><circle cx="119.2" cy="497.6" r="2.0"/><circle cx="170.5" cy="567.4" r="2.0"/><circle cx="61" cy="551.3" r="2.0"/><circle cx="170.9" cy="559.7" r="2.0"/><circle cx="148.1" cy="555.4" r="2.0"/><circle cx="184.6" cy="580.9" r="2.0"/><circle cx="145.7" cy="565.1" r="2.0"/><circle cx="97" cy="554.5" r="2.0"/><circle cx="202.9" cy="583.8" r="2.0"/><circle cx="172.7" cy="557.5" r="2.0"/><circle cx="130.9" cy="561" r="2.0"/><circle cx="159.7" cy="564.4" r="2.0"/><circle cx="113.8" cy="567.4" r="2.0"/><circle cx="134.2" cy="561" r="2.0"/><circle cx="151.7" cy="561.5" r="2.0"/><circle cx="74.6" cy="523.8" r="2.0"/><circle cx="136.4" cy="551.1" r="2.0"/><circle cx="158.8" cy="570.4" r="2.0"/><circle cx="159.5" cy="572" r="2.0"/><circle cx="134.5" cy="562.9" r="2.0"/><circle cx="159.7" cy="562.8" r="2.0"/><circle cx="136" cy="554.8" r="2.0"/><circle cx="105.4" cy="552.3" r="2.0"/><circle cx="159.3" cy="558.5" r="2.0"/><circle cx="189.5" cy="563.9" r="2.0"/><circle cx="142.6" cy="580.3" r="2.0"/><circle cx="170.6" cy="571.6" r="2.0"/><circle cx="92.7" cy="559.7" r="2.0"/><circle cx="199.6" cy="575.7" r="2.0"/><circle cx="51.2" cy="535.2" r="2.0"/><circle cx="138.3" cy="553.6" r="2.0"/><circle cx="174.7" cy="559.1" r="2.0"/><circle cx="151.4" cy="554.8" r="2.0"/><circle cx="101.6" cy="555.9" r="2.0"/><circle cx="78.1" cy="530.6" r="2.0"/><circle cx="104.9" cy="550.2" r="2.0"/><circle cx="123.8" cy="579" r="2.0"/><circle cx="192" cy="573.5" r="2.0"/><circle cx="151.4" cy="564.5" r="2.0"/><circle cx="136.4" cy="566.8" r="2.0"/><circle cx="177.5" cy="577.1" r="2.0"/><circle cx="99.2" cy="559.3" r="2.0"/><circle cx="94.9" cy="566.1" r="2.0"/><circle cx="91.7" cy="566.2" r="2.0"/><circle cx="160.2" cy="570.2" r="2.0"/><circle cx="148.6" cy="561.5" r="2.0"/><circle cx="130.7" cy="575.7" r="2.0"/><circle cx="197.1" cy="574.2" r="2.0"/><circle cx="159.8" cy="573.9" r="2.0"/><circle cx="158.8" cy="565.3" r="2.0"/><circle cx="130.3" cy="572.6" r="2.0"/><circle cx="132.3" cy="564.5" r="2.0"/><circle cx="168.4" cy="572.4" r="2.0"/><circle cx="142.6" cy="570.6" r="2.0"/><circle cx="114.4" cy="572.5" r="2.0"/><circle cx="159.3" cy="583.9" r="2.0"/><circle cx="111.4" cy="546.6" r="2.0"/><circle cx="130.4" cy="563.6" r="2.0"/><circle cx="111.5" cy="561.2" r="2.0"/><circle cx="148.2" cy="557.5" r="2.0"/><circle cx="105.1" cy="571.9" r="2.0"/><circle cx="165.5" cy="570.2" r="2.0"/><circle cx="140.1" cy="558.5" r="2.0"/><circle cx="142.6" cy="582.5" r="2.0"/><circle cx="132.2" cy="573.1" r="2.0"/><circle cx="118.8" cy="535.8" r="2.0"/><circle cx="191.5" cy="575.2" r="2.0"/><circle cx="132.3" cy="570.7" r="2.0"/><circle cx="116" cy="553.6" r="2.0"/><circle cx="92.5" cy="535.8" r="2.0"/><circle cx="180" cy="564.7" r="2.0"/><circle cx="170.5" cy="561.9" r="2.0"/><circle cx="114.3" cy="567.4" r="2.0"/><circle cx="154.2" cy="585.3" r="2.0"/><circle cx="103" cy="544.9" r="2.0"/><circle cx="194.1" cy="582" r="2.0"/><circle cx="94" cy="508.4" r="2.0"/><circle cx="123.7" cy="581.7" r="2.0"/><circle cx="108" cy="570.5" r="2.0"/><circle cx="172.7" cy="578.7" r="2.0"/><circle cx="92.2" cy="528.2" r="2.0"/><circle cx="105.2" cy="565.2" r="2.0"/><circle cx="116.7" cy="571.3" r="2.0"/><circle cx="74.4" cy="585.1" r="2.0"/><circle cx="96" cy="569" r="2.0"/><circle cx="140.4" cy="532.3" r="2.0"/><circle cx="105.7" cy="556.2" r="2.0"/><circle cx="142.6" cy="563.1" r="2.0"/><circle cx="172.7" cy="559.6" r="2.0"/><circle cx="138" cy="558.1" r="2.0"/><circle cx="112.3" cy="536.6" r="2.0"/><circle cx="130.6" cy="567.3" r="2.0"/><circle cx="105" cy="546.1" r="2.0"/><circle cx="116.7" cy="569.6" r="2.0"/><circle cx="162.2" cy="567" r="2.0"/><circle cx="76.8" cy="503.9" r="2.0"/><circle cx="209.1" cy="564.6" r="2.0"/><circle cx="112.4" cy="524.4" r="2.0"/><circle cx="111.3" cy="538.5" r="2.0"/><circle cx="170.5" cy="556.6" r="2.0"/><circle cx="116.5" cy="557.7" r="2.0"/><circle cx="142.9" cy="574.3" r="2.0"/><circle cx="123.8" cy="559.5" r="2.0"/><circle cx="154.6" cy="557.2" r="2.0"/><circle cx="140" cy="575.8" r="2.0"/><circle cx="74.4" cy="537.7" r="2.0"/><circle cx="138.1" cy="555.2" r="2.0"/><circle cx="119.1" cy="459.1" r="2.0"/><circle cx="184.6" cy="579" r="2.0"/><circle cx="186.4" cy="584.4" r="2.0"/><circle cx="136.3" cy="560.3" r="2.0"/><circle cx="176.8" cy="571.6" r="2.0"/><circle cx="123.6" cy="555.6" r="2.0"/><circle cx="151.1" cy="571.9" r="2.0"/><circle cx="190" cy="566.7" r="2.0"/><circle cx="130.5" cy="583" r="2.0"/><circle cx="148" cy="558.7" r="2.0"/><circle cx="162.8" cy="561.4" r="2.0"/><circle cx="172.7" cy="573.4" r="2.0"/><circle cx="119.2" cy="520.3" r="2.0"/><circle cx="208.8" cy="550.5" r="2.0"/><circle cx="139.7" cy="571.1" r="2.0"/><circle cx="116.6" cy="562.3" r="2.0"/><circle cx="163.4" cy="559.7" r="2.0"/><circle cx="111.3" cy="538.5" r="2.0"/><circle cx="90.4" cy="555.2" r="2.0"/><circle cx="162.8" cy="568.5" r="2.0"/><circle cx="119.1" cy="530.1" r="2.0"/><circle cx="151" cy="578.4" r="2.0"/><circle cx="114.3" cy="573.3" r="2.0"/><circle cx="179.9" cy="558" r="2.0"/><circle cx="186.7" cy="577.4" r="2.0"/><circle cx="108.4" cy="569.1" r="2.0"/><circle cx="148.1" cy="566.8" r="2.0"/><circle cx="173.1" cy="586.7" r="2.0"/><circle cx="174.3" cy="561.9" r="2.0"/><circle cx="123.7" cy="570" r="2.0"/><circle cx="76.4" cy="501.5" r="2.0"/><circle cx="142.3" cy="553.5" r="2.0"/><circle cx="191.4" cy="574.2" r="2.0"/><circle cx="112.5" cy="533.7" r="2.0"/><circle cx="74.5" cy="521.3" r="2.0"/><circle cx="142.9" cy="569.1" r="2.0"/><circle cx="94.6" cy="567.9" r="2.0"/><circle cx="145.4" cy="585.3" r="2.0"/><circle cx="61" cy="544.6" r="2.0"/><circle cx="138.3" cy="554" r="2.0"/><circle cx="116.3" cy="540.6" r="2.0"/><circle cx="68.7" cy="520.1" r="2.0"/><circle cx="157.6" cy="576" r="2.0"/><circle cx="113.9" cy="548.4" r="2.0"/><circle cx="96.4" cy="567.1" r="2.0"/><circle cx="151.4" cy="567.4" r="2.0"/><circle cx="138.2" cy="582.6" r="2.0"/><circle cx="167.9" cy="566.1" r="2.0"/><circle cx="145" cy="575.5" r="2.0"/><circle cx="136.2" cy="577.4" r="2.0"/><circle cx="186.7" cy="561.8" r="2.0"/><circle cx="162.4" cy="569.5" r="2.0"/><circle cx="137.9" cy="574.9" r="2.0"/><circle cx="157.7" cy="563.3" r="2.0"/><circle cx="159" cy="590" r="2.0"/><circle cx="176.8" cy="571" r="2.0"/><circle cx="208.8" cy="571.6" r="2.0"/><circle cx="139.9" cy="556.5" r="2.0"/><circle cx="148.3" cy="575.1" r="2.0"/><circle cx="142.8" cy="584" r="2.0"/><circle cx="177.5" cy="572" r="2.0"/><circle cx="186.6" cy="587" r="2.0"/><circle cx="199.5" cy="581.5" r="2.0"/><circle cx="134.1" cy="568.4" r="2.0"/><circle cx="170.9" cy="572.5" r="2.0"/><circle cx="98.5" cy="567.5" r="2.0"/><circle cx="130.4" cy="558.6" r="2.0"/><circle cx="145.1" cy="582" r="2.0"/><circle cx="132.3" cy="568.7" r="2.0"/><circle cx="139.9" cy="560.5" r="2.0"/><circle cx="197.2" cy="569.7" r="2.0"/><circle cx="172.5" cy="574.2" r="2.0"/><circle cx="184.7" cy="568.6" r="2.0"/><circle cx="170.9" cy="555" r="2.0"/><circle cx="81.3" cy="557" r="2.0"/><circle cx="151.6" cy="563.6" r="2.0"/><circle cx="99.8" cy="545.9" r="2.0"/><circle cx="202.3" cy="581.1" r="2.0"/><circle cx="134.5" cy="559.9" r="2.0"/><circle cx="142.2" cy="555.6" r="2.0"/><circle cx="184.8" cy="567.4" r="2.0"/><circle cx="208.8" cy="555.3" r="2.0"/><circle cx="76.7" cy="486.6" r="2.0"/><circle cx="134.2" cy="567" r="2.0"/><circle cx="116.5" cy="564" r="2.0"/><circle cx="151.5" cy="579.2" r="2.0"/><circle cx="148.6" cy="594.9" r="2.0"/><circle cx="174.9" cy="561.6" r="2.0"/><circle cx="138.3" cy="586.2" r="2.0"/><circle cx="173" cy="555.4" r="2.0"/><circle cx="172.3" cy="579.9" r="2.0"/><circle cx="179.9" cy="558.3" r="2.0"/><circle cx="179.4" cy="569.4" r="2.0"/><circle cx="145" cy="583.2" r="2.0"/><circle cx="138.4" cy="586.5" r="2.0"/><circle cx="136.6" cy="564.9" r="2.0"/><circle cx="186.7" cy="571.3" r="2.0"/><circle cx="151.2" cy="576.1" r="2.0"/><circle cx="148.1" cy="568.2" r="2.0"/><circle cx="111.7" cy="563.6" r="2.0"/><circle cx="158.8" cy="571.4" r="2.0"/><circle cx="132.7" cy="569.9" r="2.0"/><circle cx="174.8" cy="570.2" r="2.0"/><circle cx="179.8" cy="578.2" r="2.0"/><circle cx="138.3" cy="572.9" r="2.0"/><circle cx="60.8" cy="547.9" r="2.0"/><circle cx="194.2" cy="574.2" r="2.0"/><circle cx="130.7" cy="560.2" r="2.0"/><circle cx="186.8" cy="563.1" r="2.0"/><circle cx="165.6" cy="569.5" r="2.0"/><circle cx="177.3" cy="557.8" r="2.0"/><circle cx="162.4" cy="579.4" r="2.0"/><circle cx="202.5" cy="579.7" r="2.0"/><circle cx="111.2" cy="542.8" r="2.0"/><circle cx="154.6" cy="559" r="2.0"/><circle cx="192.1" cy="577.3" r="2.0"/><circle cx="123.8" cy="573.2" r="2.0"/><circle cx="138.3" cy="561" r="2.0"/><circle cx="174.4" cy="570" r="2.0"/><circle cx="134.6" cy="567.5" r="2.0"/><circle cx="186.7" cy="578.4" r="2.0"/><circle cx="116.2" cy="561.8" r="2.0"/><circle cx="139.8" cy="567.6" r="2.0"/><circle cx="114.2" cy="542.7" r="2.0"/><circle cx="111.6" cy="540.5" r="2.0"/><circle cx="74.3" cy="550.6" r="2.0"/><circle cx="151.6" cy="571.4" r="2.0"/><circle cx="194" cy="573.3" r="2.0"/><circle cx="99.2" cy="546.6" r="2.0"/><circle cx="94" cy="566.3" r="2.0"/><circle cx="151.1" cy="576.1" r="2.0"/><circle cx="179.7" cy="569.6" r="2.0"/><circle cx="108.4" cy="564.7" r="2.0"/><circle cx="157.5" cy="561.9" r="2.0"/><circle cx="189.5" cy="567.2" r="2.0"/><circle cx="159" cy="587.2" r="2.0"/><circle cx="139.8" cy="564.2" r="2.0"/><circle cx="112.4" cy="490" r="2.0"/><circle cx="186.5" cy="587.6" r="2.0"/><circle cx="142.2" cy="581.4" r="2.0"/><circle cx="173" cy="582.1" r="2.0"/><circle cx="148.6" cy="576.2" r="2.0"/><circle cx="142.3" cy="553.3" r="2.0"/><circle cx="142.7" cy="572.6" r="2.0"/><circle cx="157.7" cy="576.2" r="2.0"/><circle cx="159.5" cy="572.9" r="2.0"/><circle cx="142.9" cy="553" r="2.0"/><circle cx="108.1" cy="550" r="2.0"/><circle cx="179.7" cy="577.1" r="2.0"/><circle cx="101.4" cy="558.7" r="2.0"/><circle cx="202.3" cy="581.5" r="2.0"/><circle cx="130.5" cy="565.9" r="2.0"/><circle cx="154.5" cy="586.9" r="2.0"/><circle cx="139.7" cy="563.8" r="2.0"/><circle cx="107.6" cy="578.9" r="2.0"/><circle cx="154.7" cy="572.9" r="2.0"/><circle cx="115.9" cy="574.1" r="2.0"/><circle cx="162.3" cy="570.8" r="2.0"/><circle cx="154" cy="586.2" r="2.0"/><circle cx="134.2" cy="559.6" r="2.0"/><circle cx="165.1" cy="565.3" r="2.0"/><circle cx="123.6" cy="553.4" r="2.0"/><circle cx="142.7" cy="576" r="2.0"/><circle cx="208.9" cy="568.1" r="2.0"/><circle cx="136.1" cy="560.9" r="2.0"/><circle cx="114.3" cy="558" r="2.0"/><circle cx="114.3" cy="569.1" r="2.0"/><circle cx="111.9" cy="543.2" r="2.0"/><circle cx="142.3" cy="565.7" r="2.0"/><circle cx="116.7" cy="541.7" r="2.0"/><circle cx="108.4" cy="567.9" r="2.0"/><circle cx="88.8" cy="583.8" r="2.0"/><circle cx="165.5" cy="573.1" r="2.0"/><circle cx="113.8" cy="572.6" r="2.0"/><circle cx="92.7" cy="554.2" r="2.0"/><circle cx="130.2" cy="583.4" r="2.0"/><circle cx="113.8" cy="541.1" r="2.0"/><circle cx="101.8" cy="558.4" r="2.0"/><circle cx="159.9" cy="579.7" r="2.0"/><circle cx="179.5" cy="556.9" r="2.0"/><circle cx="114.1" cy="540.9" r="2.0"/><circle cx="176.9" cy="566.7" r="2.0"/><circle cx="107.3" cy="576.2" r="2.0"/><circle cx="159.8" cy="570.3" r="2.0"/><circle cx="56.6" cy="554.3" r="2.0"/><circle cx="69.9" cy="573.5" r="2.0"/><circle cx="123.7" cy="563.4" r="2.0"/><circle cx="130.7" cy="571.9" r="2.0"/><circle cx="145.5" cy="574.4" r="2.0"/><circle cx="162.6" cy="569.8" r="2.0"/><circle cx="145.7" cy="555.6" r="2.0"/><circle cx="199.1" cy="581" r="2.0"/><circle cx="157.8" cy="562.7" r="2.0"/><circle cx="68.9" cy="517.6" r="2.0"/><circle cx="138.3" cy="556.5" r="2.0"/><circle cx="138.4" cy="580.7" r="2.0"/><circle cx="163.9" cy="556.6" r="2.0"/><circle cx="167.9" cy="574.4" r="2.0"/><circle cx="94.2" cy="567.6" r="2.0"/><circle cx="172.8" cy="565.6" r="2.0"/><circle cx="154.3" cy="554.6" r="2.0"/><circle cx="77.8" cy="528.2" r="2.0"/><circle cx="154.1" cy="579.7" r="2.0"/><circle cx="142.6" cy="569.7" r="2.0"/><circle cx="162.6" cy="576.5" r="2.0"/><circle cx="179.5" cy="573.3" r="2.0"/><circle cx="119.4" cy="479.7" r="2.0"/><circle cx="179.4" cy="562.9" r="2.0"/><circle cx="60.7" cy="486.6" r="2.0"/><circle cx="145.2" cy="575.5" r="2.0"/><circle cx="94.9" cy="552.3" r="2.0"/><circle cx="202.6" cy="583.3" r="2.0"/><circle cx="134.5" cy="568.7" r="2.0"/><circle cx="157.3" cy="583.8" r="2.0"/><circle cx="126.2" cy="474.9" r="2.0"/><circle cx="194.1" cy="581.2" r="2.0"/><circle cx="136.7" cy="552.6" r="2.0"/><circle cx="208.7" cy="558.3" r="2.0"/><circle cx="142.2" cy="575.2" r="2.0"/><circle cx="123.8" cy="576.1" r="2.0"/><circle cx="105.3" cy="547.1" r="2.0"/><circle cx="138.4" cy="563.4" r="2.0"/><circle cx="139.8" cy="572.8" r="2.0"/><circle cx="114.4" cy="559.6" r="2.0"/><circle cx="179.9" cy="569.4" r="2.0"/><circle cx="162.7" cy="571.2" r="2.0"/><circle cx="77.4" cy="532.6" r="2.0"/><circle cx="136.2" cy="572.8" r="2.0"/><circle cx="111.9" cy="554.3" r="2.0"/><circle cx="154.6" cy="556.8" r="2.0"/><circle cx="139.8" cy="564.7" r="2.0"/><circle cx="168" cy="568.8" r="2.0"/><circle cx="91.7" cy="564.1" r="2.0"/><circle cx="179.7" cy="567.3" r="2.0"/><circle cx="151.2" cy="557" r="2.0"/><circle cx="140.1" cy="552.3" r="2.0"/><circle cx="202.9" cy="584.5" r="2.0"/><circle cx="91.1" cy="569.3" r="2.0"/><circle cx="148" cy="560.1" r="2.0"/><circle cx="154" cy="581.4" r="2.0"/><circle cx="138" cy="586.3" r="2.0"/><circle cx="111.9" cy="550" r="2.0"/><circle cx="134.6" cy="560" r="2.0"/><circle cx="138.2" cy="565.7" r="2.0"/><circle cx="84.7" cy="555.2" r="2.0"/><circle cx="114.3" cy="553" r="2.0"/><circle cx="157.4" cy="575.6" r="2.0"/><circle cx="148.1" cy="566.4" r="2.0"/><circle cx="130.4" cy="576.2" r="2.0"/><circle cx="145.7" cy="581.5" r="2.0"/><circle cx="74.5" cy="535.8" r="2.0"/><circle cx="162.5" cy="560.5" r="2.0"/><circle cx="157.9" cy="562.1" r="2.0"/><circle cx="162.9" cy="584.8" r="2.0"/><circle cx="138.1" cy="573.2" r="2.0"/><circle cx="197.2" cy="569.1" r="2.0"/><circle cx="116.6" cy="572.6" r="2.0"/><circle cx="170.5" cy="575.5" r="2.0"/><circle cx="197.1" cy="570.5" r="2.0"/><circle cx="139.8" cy="574.5" r="2.0"/><circle cx="117.1" cy="567.9" r="2.0"/><circle cx="116.6" cy="551.4" r="2.0"/><circle cx="134.5" cy="569.3" r="2.0"/><circle cx="77.7" cy="526.8" r="2.0"/><circle cx="154" cy="574.9" r="2.0"/><circle cx="157.7" cy="590" r="2.0"/><circle cx="93.9" cy="569.1" r="2.0"/><circle cx="179.5" cy="551.7" r="2.0"/><circle cx="123.6" cy="566.5" r="2.0"/><circle cx="205" cy="573.5" r="2.0"/><circle cx="119.2" cy="512.1" r="2.0"/><circle cx="189.3" cy="569.2" r="2.0"/><circle cx="108.3" cy="550.2" r="2.0"/><circle cx="74.6" cy="525.4" r="2.0"/><circle cx="165.3" cy="565.4" r="2.0"/><circle cx="116.7" cy="560.9" r="2.0"/><circle cx="105.1" cy="554.9" r="2.0"/><circle cx="137.9" cy="571.9" r="2.0"/><circle cx="177.2" cy="566.3" r="2.0"/><circle cx="139.5" cy="556.8" r="2.0"/><circle cx="136.2" cy="575.9" r="2.0"/><circle cx="132.1" cy="562" r="2.0"/><circle cx="60.9" cy="502" r="2.0"/><circle cx="142.2" cy="570.8" r="2.0"/><circle cx="145.1" cy="579.7" r="2.0"/><circle cx="99.5" cy="555.3" r="2.0"/><circle cx="97.1" cy="558.7" r="2.0"/><circle cx="111.4" cy="543.4" r="2.0"/><circle cx="132.7" cy="574.2" r="2.0"/><circle cx="142.2" cy="574.3" r="2.0"/><circle cx="93" cy="567.3" r="2.0"/><circle cx="134.6" cy="578.3" r="2.0"/><circle cx="148" cy="561.1" r="2.0"/><circle cx="116.3" cy="574" r="2.0"/><circle cx="142.4" cy="571.2" r="2.0"/><circle cx="178.6" cy="550.6" r="2.0"/><circle cx="170.6" cy="543.8" r="2.0"/><circle cx="50.8" cy="549.3" r="2.0"/><circle cx="136.4" cy="551" r="2.0"/><circle cx="151.6" cy="563.5" r="2.0"/><circle cx="159.6" cy="572.2" r="2.0"/><circle cx="162.4" cy="562.8" r="2.0"/><circle cx="130.3" cy="572.5" r="2.0"/><circle cx="99.1" cy="556.1" r="2.0"/><circle cx="174.6" cy="577.8" r="2.0"/><circle cx="136.6" cy="572.1" r="2.0"/><circle cx="138.3" cy="554.5" r="2.0"/><circle cx="137.7" cy="583.9" r="2.0"/><circle cx="159.5" cy="566.9" r="2.0"/><circle cx="136.5" cy="579.9" r="2.0"/><circle cx="123.7" cy="585.1" r="2.0"/><circle cx="50.9" cy="551.7" r="2.0"/><circle cx="172.9" cy="558.1" r="2.0"/><circle cx="154.4" cy="566.9" r="2.0"/><circle cx="151" cy="561.8" r="2.0"/><circle cx="177.2" cy="563.4" r="2.0"/><circle cx="145.2" cy="553.4" r="2.0"/><circle cx="142.8" cy="555.8" r="2.0"/><circle cx="165.6" cy="570.8" r="2.0"/><circle cx="186.1" cy="570.7" r="2.0"/><circle cx="134.6" cy="577.6" r="2.0"/><circle cx="92" cy="530.5" r="2.0"/><circle cx="208.7" cy="561.8" r="2.0"/><circle cx="151.4" cy="561.6" r="2.0"/><circle cx="101.5" cy="559.1" r="2.0"/><circle cx="157.9" cy="559.1" r="2.0"/><circle cx="171" cy="544.1" r="2.0"/><circle cx="174.5" cy="562.6" r="2.0"/><circle cx="138.3" cy="565.7" r="2.0"/><circle cx="138" cy="573.3" r="2.0"/><circle cx="162.9" cy="562.7" r="2.0"/><circle cx="148.6" cy="589.6" r="2.0"/><circle cx="116.6" cy="543.1" r="2.0"/><circle cx="194.1" cy="574.5" r="2.0"/><circle cx="119.2" cy="509.3" r="2.0"/><circle cx="74.4" cy="560.9" r="2.0"/><circle cx="154.5" cy="570.5" r="2.0"/><circle cx="93.9" cy="499.1" r="2.0"/><circle cx="168.6" cy="566" r="2.0"/><circle cx="159.8" cy="578.3" r="2.0"/><circle cx="56.4" cy="559.9" r="2.0"/><circle cx="117.1" cy="560.3" r="2.0"/><circle cx="119.3" cy="533" r="2.0"/><circle cx="170.9" cy="573.8" r="2.0"/><circle cx="172.7" cy="557.3" r="2.0"/><circle cx="168.2" cy="566.4" r="2.0"/><circle cx="74" cy="529.7" r="2.0"/><circle cx="60.7" cy="528.9" r="2.0"/><circle cx="123.6" cy="550.7" r="2.0"/><circle cx="130.8" cy="560" r="2.0"/><circle cx="162.9" cy="583.9" r="2.0"/><circle cx="77.6" cy="537.7" r="2.0"/><circle cx="186.5" cy="585.4" r="2.0"/><circle cx="116.7" cy="572.9" r="2.0"/><circle cx="174.2" cy="559.9" r="2.0"/><circle cx="140" cy="578.4" r="2.0"/><circle cx="142.7" cy="576.3" r="2.0"/><circle cx="165.7" cy="565.1" r="2.0"/><circle cx="194.5" cy="574.2" r="2.0"/><circle cx="87.9" cy="574.2" r="2.0"/><circle cx="140.1" cy="573" r="2.0"/><circle cx="139.6" cy="574" r="2.0"/><circle cx="157.5" cy="587.2" r="2.0"/><circle cx="111.9" cy="492.3" r="2.0"/><circle cx="74.3" cy="553.3" r="2.0"/><circle cx="170.6" cy="571.4" r="2.0"/><circle cx="132.4" cy="570.4" r="2.0"/><circle cx="138.3" cy="584.4" r="2.0"/><circle cx="205.2" cy="581.1" r="2.0"/><circle cx="137.8" cy="576.4" r="2.0"/><circle cx="108.5" cy="556.2" r="2.0"/><circle cx="139.6" cy="576.1" r="2.0"/><circle cx="137.7" cy="570.5" r="2.0"/><circle cx="138.1" cy="576.2" r="2.0"/><circle cx="179.4" cy="571.3" r="2.0"/><circle cx="130.8" cy="567.1" r="2.0"/><circle cx="136.4" cy="555.7" r="2.0"/><circle cx="163.6" cy="554.1" r="2.0"/><circle cx="116" cy="558.7" r="2.0"/><circle cx="113.8" cy="565.6" r="2.0"/><circle cx="111.4" cy="544.7" r="2.0"/><circle cx="177.1" cy="576.9" r="2.0"/><circle cx="186.5" cy="584.9" r="2.0"/><circle cx="97.1" cy="563.1" r="2.0"/><circle cx="108.6" cy="563.9" r="2.0"/><circle cx="173" cy="558.8" r="2.0"/><circle cx="205.4" cy="585.6" r="2.0"/><circle cx="154.3" cy="571.5" r="2.0"/><circle cx="151.4" cy="562" r="2.0"/><circle cx="148.1" cy="562.8" r="2.0"/><circle cx="130.8" cy="565" r="2.0"/><circle cx="60.6" cy="505.2" r="2.0"/><circle cx="74.1" cy="523.1" r="2.0"/><circle cx="116.4" cy="560.7" r="2.0"/><circle cx="136.1" cy="578.8" r="2.0"/><circle cx="154" cy="580.6" r="2.0"/><circle cx="157.4" cy="585.6" r="2.0"/><circle cx="154.2" cy="562" r="2.0"/><circle cx="138.2" cy="569" r="2.0"/><circle cx="74.5" cy="530.1" r="2.0"/><circle cx="105.5" cy="561" r="2.0"/><circle cx="136.2" cy="552.4" r="2.0"/><circle cx="186.5" cy="575.2" r="2.0"/><circle cx="142.4" cy="556.2" r="2.0"/><circle cx="118.8" cy="482.1" r="2.0"/><circle cx="151.4" cy="570.8" r="2.0"/><circle cx="189.6" cy="573.1" r="2.0"/><circle cx="162.2" cy="571.1" r="2.0"/><circle cx="177.1" cy="573" r="2.0"/><circle cx="208.9" cy="583.5" r="2.0"/><circle cx="99.1" cy="557" r="2.0"/><circle cx="138" cy="576" r="2.0"/><circle cx="92.1" cy="533.3" r="2.0"/><circle cx="88" cy="571.1" r="2.0"/><circle cx="134.6" cy="576.3" r="2.0"/><circle cx="132.3" cy="575.8" r="2.0"/><circle cx="51.3" cy="544" r="2.0"/><circle cx="132.8" cy="576.7" r="2.0"/><circle cx="138" cy="565.2" r="2.0"/><circle cx="105.2" cy="572.1" r="2.0"/><circle cx="209" cy="576.3" r="2.0"/><circle cx="60.7" cy="470.1" r="2.0"/><circle cx="105.1" cy="572.3" r="2.0"/><circle cx="114.1" cy="542.7" r="2.0"/><circle cx="159.5" cy="573.6" r="2.0"/><circle cx="160" cy="562.5" r="2.0"/><circle cx="105.2" cy="544.1" r="2.0"/><circle cx="145" cy="561.4" r="2.0"/><circle cx="186.5" cy="587" r="2.0"/><circle cx="153.9" cy="587.8" r="2.0"/><circle cx="99.2" cy="548.5" r="2.0"/><circle cx="159.4" cy="574.6" r="2.0"/><circle cx="137.8" cy="560" r="2.0"/><circle cx="51.2" cy="533" r="2.0"/><circle cx="114.5" cy="570.4" r="2.0"/><circle cx="159.9" cy="563.7" r="2.0"/><circle cx="56.6" cy="530" r="2.0"/><circle cx="130.8" cy="566.4" r="2.0"/><circle cx="108" cy="568.5" r="2.0"/><circle cx="137.8" cy="585.5" r="2.0"/><circle cx="159.5" cy="573.1" r="2.0"/><circle cx="51" cy="554.2" r="2.0"/><circle cx="186.4" cy="589.6" r="2.0"/><circle cx="189.8" cy="563.8" r="2.0"/><circle cx="158.8" cy="589.6" r="2.0"/><circle cx="202.8" cy="577.7" r="2.0"/><circle cx="148.4" cy="565.3" r="2.0"/><circle cx="157.3" cy="590.5" r="2.0"/><circle cx="151.4" cy="577.7" r="2.0"/><circle cx="74.6" cy="528.4" r="2.0"/><circle cx="130.5" cy="583.1" r="2.0"/><circle cx="205.1" cy="583.7" r="2.0"/><circle cx="162.6" cy="566.9" r="2.0"/><circle cx="205.3" cy="582.8" r="2.0"/><circle cx="111.9" cy="557.1" r="2.0"/><circle cx="196.8" cy="574.5" r="2.0"/><circle cx="172.4" cy="575.1" r="2.0"/><circle cx="149.1" cy="587.3" r="2.0"/><circle cx="51.4" cy="530" r="2.0"/><circle cx="125.9" cy="472.7" r="2.0"/><circle cx="134.2" cy="558.3" r="2.0"/><circle cx="104.9" cy="546.5" r="2.0"/><circle cx="92.6" cy="525.6" r="2.0"/><circle cx="119.3" cy="494.6" r="2.0"/><circle cx="130.8" cy="558.6" r="2.0"/><circle cx="144.6" cy="542.7" r="2.0"/><circle cx="189.8" cy="567.5" r="2.0"/><circle cx="116.6" cy="572.1" r="2.0"/><circle cx="142.9" cy="577.5" r="2.0"/><circle cx="162.5" cy="569.6" r="2.0"/><circle cx="202.6" cy="570.9" r="2.0"/><circle cx="191.6" cy="579.1" r="2.0"/><circle cx="162.5" cy="581.3" r="2.0"/><circle cx="174.5" cy="558.8" r="2.0"/></g>
<g fill="#bdd7ee" stroke="#a6c8e8" stroke-width="0.5"><circle cx="335.2" cy="566.5" r="2.0"/><circle cx="367.1" cy="569.5" r="2.0"/><circle cx="356.7" cy="563.5" r="2.0"/><circle cx="338.5" cy="567.3" r="2.0"/><circle cx="335.7" cy="555.7" r="2.0"/><circle cx="373.9" cy="572" r="2.0"/><circle cx="353.8" cy="569.1" r="2.0"/><circle cx="341.9" cy="569.1" r="2.0"/><circle cx="394.7" cy="566.9" r="2.0"/><circle cx="392.8" cy="576.2" r="2.0"/><circle cx="340.2" cy="577.3" r="2.0"/><circle cx="307.1" cy="462.6" r="2.0"/><circle cx="381.1" cy="555.1" r="2.0"/><circle cx="392.7" cy="567" r="2.0"/><circle cx="391.6" cy="575" r="2.0"/><circle cx="369.1" cy="577.1" r="2.0"/><circle cx="327.3" cy="554.9" r="2.0"/><circle cx="324.1" cy="563.3" r="2.0"/><circle cx="335.5" cy="569.8" r="2.0"/><circle cx="427.5" cy="534.9" r="2.0"/><circle cx="330" cy="580.1" r="2.0"/><circle cx="362.2" cy="572.3" r="2.0"/><circle cx="303" cy="541.7" r="2.0"/><circle cx="403.2" cy="560.5" r="2.0"/><circle cx="341.6" cy="577" r="2.0"/><circle cx="313.5" cy="566.9" r="2.0"/><circle cx="375.8" cy="566.7" r="2.0"/><circle cx="391.1" cy="572.3" r="2.0"/><circle cx="324.6" cy="576.2" r="2.0"/><circle cx="333.1" cy="566.7" r="2.0"/><circle cx="316.5" cy="549.7" r="2.0"/><circle cx="316" cy="547.6" r="2.0"/><circle cx="377.2" cy="578.1" r="2.0"/><circle cx="345" cy="555.6" r="2.0"/><circle cx="375.6" cy="552.2" r="2.0"/><circle cx="306.9" cy="489.5" r="2.0"/><circle cx="360.6" cy="569.5" r="2.0"/><circle cx="351.8" cy="567.6" r="2.0"/><circle cx="382.5" cy="567.5" r="2.0"/><circle cx="377.6" cy="548" r="2.0"/><circle cx="335.7" cy="571.2" r="2.0"/><circle cx="373.8" cy="569.4" r="2.0"/><circle cx="333.2" cy="556" r="2.0"/><circle cx="305" cy="570" r="2.0"/><circle cx="335.5" cy="566.8" r="2.0"/><circle cx="375.7" cy="563.1" r="2.0"/><circle cx="377.5" cy="572" r="2.0"/><circle cx="365.7" cy="567" r="2.0"/><circle cx="375.7" cy="573.3" r="2.0"/><circle cx="355.2" cy="575.1" r="2.0"/><circle cx="348.3" cy="578.1" r="2.0"/><circle cx="377.5" cy="564" r="2.0"/><circle cx="338.3" cy="562.5" r="2.0"/><circle cx="327.5" cy="559.9" r="2.0"/><circle cx="379.2" cy="568" r="2.0"/><circle cx="377.7" cy="571.9" r="2.0"/><circle cx="361.9" cy="562.8" r="2.0"/><circle cx="387.7" cy="556.7" r="2.0"/><circle cx="325.1" cy="533.3" r="2.0"/><circle cx="343.6" cy="571.2" r="2.0"/><circle cx="387.9" cy="564.7" r="2.0"/><circle cx="307.8" cy="564.6" r="2.0"/><circle cx="383.9" cy="555.8" r="2.0"/><circle cx="324.2" cy="572.9" r="2.0"/><circle cx="385.9" cy="581.1" r="2.0"/><circle cx="360.7" cy="569.9" r="2.0"/><circle cx="390.7" cy="559.8" r="2.0"/><circle cx="307.9" cy="567.9" r="2.0"/><circle cx="296.8" cy="529" r="2.0"/><circle cx="303.7" cy="551.1" r="2.0"/><circle cx="372.4" cy="569.1" r="2.0"/><circle cx="313.7" cy="566.7" r="2.0"/><circle cx="313.5" cy="558" r="2.0"/><circle cx="374.1" cy="573.3" r="2.0"/><circle cx="322.2" cy="565.5" r="2.0"/><circle cx="374.1" cy="560.9" r="2.0"/><circle cx="310.3" cy="538.1" r="2.0"/><circle cx="370.4" cy="571.3" r="2.0"/><circle cx="350.4" cy="571.9" r="2.0"/><circle cx="412.7" cy="563.8" r="2.0"/><circle cx="372.3" cy="574.2" r="2.0"/><circle cx="322.3" cy="573.1" r="2.0"/><circle cx="357.2" cy="576.9" r="2.0"/><circle cx="357.3" cy="573.1" r="2.0"/><circle cx="367" cy="570.1" r="2.0"/><circle cx="307.8" cy="570.1" r="2.0"/><circle cx="322" cy="570.6" r="2.0"/><circle cx="358.5" cy="575.6" r="2.0"/><circle cx="370.6" cy="571" r="2.0"/><circle cx="440.1" cy="548.4" r="2.0"/><circle cx="403.7" cy="542.4" r="2.0"/><circle cx="403.5" cy="538.7" r="2.0"/><circle cx="385.6" cy="558.2" r="2.0"/><circle cx="387.4" cy="555.9" r="2.0"/><circle cx="345.4" cy="573.8" r="2.0"/><circle cx="372.4" cy="565.2" r="2.0"/><circle cx="306.8" cy="448.9" r="2.0"/><circle cx="367.1" cy="553.7" r="2.0"/><circle cx="333.2" cy="570.6" r="2.0"/><circle cx="387.4" cy="572.6" r="2.0"/><circle cx="353.5" cy="566.8" r="2.0"/><circle cx="390" cy="546.8" r="2.0"/><circle cx="390" cy="555" r="2.0"/><circle cx="357.1" cy="579.9" r="2.0"/><circle cx="338.1" cy="558.4" r="2.0"/><circle cx="394.2" cy="567.4" r="2.0"/><circle cx="364.1" cy="565.8" r="2.0"/><circle cx="427.5" cy="524.8" r="2.0"/><circle cx="307.7" cy="565.1" r="2.0"/><circle cx="307.5" cy="549.5" r="2.0"/><circle cx="327.5" cy="555.3" r="2.0"/><circle cx="353.3" cy="572.1" r="2.0"/><circle cx="330.1" cy="567" r="2.0"/><circle cx="368.8" cy="573.7" r="2.0"/><circle cx="316.4" cy="566.2" r="2.0"/><circle cx="361.9" cy="560.8" r="2.0"/><circle cx="365.2" cy="568.1" r="2.0"/><circle cx="313.8" cy="562.5" r="2.0"/><circle cx="356.9" cy="567" r="2.0"/><circle cx="382.3" cy="568.8" r="2.0"/><circle cx="355.5" cy="558.9" r="2.0"/><circle cx="367.1" cy="564" r="2.0"/><circle cx="421.1" cy="534" r="2.0"/><circle cx="440.2" cy="550.2" r="2.0"/><circle cx="356.8" cy="561" r="2.0"/><circle cx="389.1" cy="567.4" r="2.0"/><circle cx="367" cy="567" r="2.0"/><circle cx="370.6" cy="576.3" r="2.0"/><circle cx="325.1" cy="519.1" r="2.0"/><circle cx="392.7" cy="569.1" r="2.0"/><circle cx="389.3" cy="577.1" r="2.0"/><circle cx="322" cy="556.6" r="2.0"/><circle cx="383.9" cy="565.3" r="2.0"/><circle cx="316" cy="566.7" r="2.0"/><circle cx="307.9" cy="552.9" r="2.0"/><circle cx="327.8" cy="563" r="2.0"/><circle cx="330.2" cy="570.6" r="2.0"/><circle cx="335.1" cy="566.9" r="2.0"/><circle cx="427.7" cy="546.1" r="2.0"/><circle cx="310.9" cy="558.6" r="2.0"/><circle cx="422.2" cy="552.1" r="2.0"/><circle cx="384.1" cy="562.8" r="2.0"/><circle cx="375.4" cy="568.6" r="2.0"/><circle cx="310.9" cy="558.2" r="2.0"/><circle cx="303.3" cy="540.9" r="2.0"/><circle cx="369.2" cy="562.4" r="2.0"/><circle cx="341.6" cy="555.2" r="2.0"/><circle cx="357.1" cy="573.4" r="2.0"/><circle cx="313.5" cy="551.7" r="2.0"/><circle cx="342" cy="559.7" r="2.0"/><circle cx="355.3" cy="553.1" r="2.0"/><circle cx="303.7" cy="541.5" r="2.0"/><circle cx="365.6" cy="570.2" r="2.0"/><circle cx="335.1" cy="564.9" r="2.0"/><circle cx="384.5" cy="563.8" r="2.0"/><circle cx="338.2" cy="559.9" r="2.0"/><circle cx="385.7" cy="564.4" r="2.0"/><circle cx="347.1" cy="561.4" r="2.0"/><circle cx="365.3" cy="563" r="2.0"/><circle cx="310.4" cy="542.8" r="2.0"/><circle cx="407.4" cy="513.8" r="2.0"/><circle cx="335.2" cy="567.5" r="2.0"/><circle cx="355.3" cy="567.4" r="2.0"/><circle cx="358.7" cy="570.1" r="2.0"/><circle cx="374" cy="567.4" r="2.0"/><circle cx="313.7" cy="549" r="2.0"/><circle cx="379.2" cy="560.7" r="2.0"/><circle cx="385.7" cy="572.7" r="2.0"/><circle cx="384.4" cy="565" r="2.0"/><circle cx="343.5" cy="563.2" r="2.0"/><circle cx="335.3" cy="579.9" r="2.0"/><circle cx="390.5" cy="555.6" r="2.0"/><circle cx="296.4" cy="523.8" r="2.0"/><circle cx="336.4" cy="568.8" r="2.0"/><circle cx="384.1" cy="566.3" r="2.0"/><circle cx="357.2" cy="564.4" r="2.0"/><circle cx="369.2" cy="570.8" r="2.0"/><circle cx="417.4" cy="560.5" r="2.0"/><circle cx="379" cy="571.7" r="2.0"/><circle cx="334.8" cy="536.1" r="2.0"/><circle cx="386" cy="572.3" r="2.0"/><circle cx="381" cy="567.7" r="2.0"/><circle cx="385.7" cy="568.3" r="2.0"/><circle cx="390.9" cy="576.1" r="2.0"/><circle cx="385.8" cy="576.7" r="2.0"/><circle cx="368.7" cy="567.7" r="2.0"/><circle cx="332.7" cy="576.3" r="2.0"/><circle cx="316" cy="561" r="2.0"/><circle cx="314.2" cy="547.2" r="2.0"/><circle cx="327.5" cy="572.5" r="2.0"/><circle cx="313.5" cy="551.2" r="2.0"/><circle cx="392.1" cy="566.7" r="2.0"/><circle cx="314.2" cy="569.6" r="2.0"/><circle cx="365.7" cy="562.2" r="2.0"/><circle cx="356.9" cy="562.9" r="2.0"/><circle cx="362.3" cy="566.3" r="2.0"/><circle cx="343.1" cy="569.6" r="2.0"/><circle cx="377.4" cy="577.7" r="2.0"/><circle cx="346.8" cy="563" r="2.0"/><circle cx="378.8" cy="568.9" r="2.0"/><circle cx="365.7" cy="546.3" r="2.0"/><circle cx="356.9" cy="569.4" r="2.0"/><circle cx="365.3" cy="580.7" r="2.0"/><circle cx="382.8" cy="567.4" r="2.0"/><circle cx="370.5" cy="556.2" r="2.0"/><circle cx="340.2" cy="561.6" r="2.0"/><circle cx="283.4" cy="465.6" r="2.0"/><circle cx="325.3" cy="526.1" r="2.0"/><circle cx="375.8" cy="565.9" r="2.0"/><circle cx="310.9" cy="570.7" r="2.0"/><circle cx="427.4" cy="548.3" r="2.0"/><circle cx="391.8" cy="569.2" r="2.0"/><circle cx="313.7" cy="556.4" r="2.0"/><circle cx="327.2" cy="557.6" r="2.0"/><circle cx="321.8" cy="568.8" r="2.0"/><circle cx="386.1" cy="561.6" r="2.0"/><circle cx="345.2" cy="556.5" r="2.0"/><circle cx="382.6" cy="579.8" r="2.0"/><circle cx="347" cy="570.4" r="2.0"/><circle cx="316" cy="571.1" r="2.0"/><circle cx="305.2" cy="554.2" r="2.0"/><circle cx="357.2" cy="576.5" r="2.0"/><circle cx="360.1" cy="571.8" r="2.0"/><circle cx="408.4" cy="571.6" r="2.0"/><circle cx="385.8" cy="577.5" r="2.0"/><circle cx="340.2" cy="564.1" r="2.0"/><circle cx="384" cy="576.3" r="2.0"/><circle cx="412.9" cy="560.4" r="2.0"/><circle cx="310.3" cy="561.5" r="2.0"/><circle cx="305.1" cy="572.1" r="2.0"/><circle cx="392.6" cy="584.4" r="2.0"/><circle cx="335" cy="552.9" r="2.0"/><circle cx="316.5" cy="543.5" r="2.0"/><circle cx="363.8" cy="568" r="2.0"/><circle cx="382.5" cy="571.4" r="2.0"/><circle cx="406.1" cy="530.9" r="2.0"/><circle cx="392.6" cy="567.9" r="2.0"/><circle cx="369.2" cy="562.2" r="2.0"/><circle cx="377.2" cy="577.1" r="2.0"/><circle cx="353.5" cy="577.4" r="2.0"/><circle cx="322.3" cy="573.7" r="2.0"/><circle cx="368.9" cy="577" r="2.0"/><circle cx="303.6" cy="566.4" r="2.0"/><circle cx="406.3" cy="532.9" r="2.0"/><circle cx="350.5" cy="572.1" r="2.0"/><circle cx="305.3" cy="567.5" r="2.0"/><circle cx="314.1" cy="564.1" r="2.0"/><circle cx="379.3" cy="569.9" r="2.0"/><circle cx="307.7" cy="558.1" r="2.0"/><circle cx="406.1" cy="509.8" r="2.0"/><circle cx="364.1" cy="569.3" r="2.0"/><circle cx="332.9" cy="573" r="2.0"/><circle cx="347.1" cy="563.9" r="2.0"/><circle cx="339.8" cy="567.3" r="2.0"/><circle cx="335.2" cy="561.2" r="2.0"/><circle cx="335.7" cy="568.2" r="2.0"/><circle cx="336.4" cy="570.5" r="2.0"/><circle cx="341.8" cy="565.2" r="2.0"/><circle cx="348.3" cy="570.3" r="2.0"/><circle cx="367.2" cy="578.7" r="2.0"/><circle cx="440" cy="554.6" r="2.0"/><circle cx="303.7" cy="551.9" r="2.0"/><circle cx="387.8" cy="573.2" r="2.0"/><circle cx="336.4" cy="581.8" r="2.0"/><circle cx="322.2" cy="570.7" r="2.0"/><circle cx="345.1" cy="581.9" r="2.0"/><circle cx="353.4" cy="568.7" r="2.0"/><circle cx="358.7" cy="579.9" r="2.0"/><circle cx="387.8" cy="556.2" r="2.0"/><circle cx="370.5" cy="556.5" r="2.0"/><circle cx="341.7" cy="575.3" r="2.0"/><circle cx="324.1" cy="557.4" r="2.0"/><circle cx="307" cy="465" r="2.0"/><circle cx="341.9" cy="580.7" r="2.0"/><circle cx="380.6" cy="560.8" r="2.0"/><circle cx="392.6" cy="570" r="2.0"/><circle cx="368.7" cy="573.9" r="2.0"/><circle cx="367.4" cy="566.3" r="2.0"/><circle cx="330.4" cy="576.4" r="2.0"/><circle cx="296.4" cy="526.8" r="2.0"/><circle cx="382.7" cy="576.4" r="2.0"/><circle cx="394.4" cy="568.8" r="2.0"/><circle cx="333.2" cy="559.7" r="2.0"/><circle cx="310.2" cy="551.8" r="2.0"/><circle cx="324.4" cy="568.3" r="2.0"/><circle cx="345.1" cy="569.9" r="2.0"/><circle cx="391.2" cy="564.9" r="2.0"/><circle cx="360.6" cy="559.6" r="2.0"/><circle cx="340.2" cy="559.2" r="2.0"/><circle cx="343.6" cy="570.4" r="2.0"/><circle cx="387.3" cy="565.1" r="2.0"/><circle cx="321.7" cy="561" r="2.0"/><circle cx="346.6" cy="555.9" r="2.0"/><circle cx="406.1" cy="564.1" r="2.0"/><circle cx="370.4" cy="561.7" r="2.0"/><circle cx="372.1" cy="573.1" r="2.0"/><circle cx="372.2" cy="574.1" r="2.0"/><circle cx="310.6" cy="567.8" r="2.0"/><circle cx="338.3" cy="567.3" r="2.0"/><circle cx="343.1" cy="565.4" r="2.0"/><circle cx="306.9" cy="457" r="2.0"/><circle cx="283.4" cy="468" r="2.0"/><circle cx="335.2" cy="566.5" r="2.0"/><circle cx="348.3" cy="571.4" r="2.0"/><circle cx="389.2" cy="569.4" r="2.0"/><circle cx="403.8" cy="540.9" r="2.0"/><circle cx="375.8" cy="561.4" r="2.0"/><circle cx="341.7" cy="563.9" r="2.0"/><circle cx="303.3" cy="572.2" r="2.0"/><circle cx="338.8" cy="562" r="2.0"/><circle cx="353.3" cy="569.3" r="2.0"/><circle cx="342" cy="564.2" r="2.0"/><circle cx="340.3" cy="582.4" r="2.0"/><circle cx="339.8" cy="578.1" r="2.0"/><circle cx="365.7" cy="551.3" r="2.0"/><circle cx="347" cy="575.2" r="2.0"/><circle cx="345.3" cy="562.1" r="2.0"/><circle cx="351.9" cy="563.6" r="2.0"/><circle cx="307" cy="504.1" r="2.0"/><circle cx="355.4" cy="569.7" r="2.0"/><circle cx="338.3" cy="567.8" r="2.0"/><circle cx="335.1" cy="538.3" r="2.0"/><circle cx="380.6" cy="579.5" r="2.0"/><circle cx="360.2" cy="569.6" r="2.0"/><circle cx="321.8" cy="560.3" r="2.0"/><circle cx="303.7" cy="567.6" r="2.0"/><circle cx="338.1" cy="574.2" r="2.0"/><circle cx="374.2" cy="570.5" r="2.0"/><circle cx="288.3" cy="540.5" r="2.0"/><circle cx="393" cy="564.3" r="2.0"/><circle cx="307.4" cy="550.6" r="2.0"/><circle cx="330.6" cy="567" r="2.0"/><circle cx="316.1" cy="560.4" r="2.0"/><circle cx="391.2" cy="565.7" r="2.0"/><circle cx="367.4" cy="558.2" r="2.0"/><circle cx="380.7" cy="581.1" r="2.0"/><circle cx="403.8" cy="573.4" r="2.0"/><circle cx="372.4" cy="573.3" r="2.0"/><circle cx="333.2" cy="574.8" r="2.0"/><circle cx="316.5" cy="551.3" r="2.0"/><circle cx="357.3" cy="568" r="2.0"/><circle cx="384.2" cy="573.5" r="2.0"/><circle cx="303.4" cy="571.9" r="2.0"/><circle cx="353.3" cy="571.4" r="2.0"/><circle cx="432.1" cy="514.4" r="2.0"/><circle cx="370.4" cy="564.1" r="2.0"/><circle cx="350.3" cy="562.4" r="2.0"/><circle cx="355.1" cy="564.6" r="2.0"/><circle cx="408.3" cy="553.2" r="2.0"/><circle cx="327.9" cy="562.2" r="2.0"/><circle cx="406.5" cy="540.4" r="2.0"/><circle cx="280" cy="483" r="2.0"/><circle cx="341.9" cy="565.2" r="2.0"/><circle cx="314.2" cy="554.5" r="2.0"/><circle cx="379" cy="569.9" r="2.0"/><circle cx="348.5" cy="565.4" r="2.0"/><circle cx="356.8" cy="561.1" r="2.0"/><circle cx="308.3" cy="517.6" r="2.0"/><circle cx="338.1" cy="562.7" r="2.0"/><circle cx="393" cy="569.1" r="2.0"/><circle cx="390.9" cy="571.3" r="2.0"/><circle cx="386" cy="566.8" r="2.0"/><circle cx="382.6" cy="571.6" r="2.0"/><circle cx="341.9" cy="570.8" r="2.0"/><circle cx="350.3" cy="570.1" r="2.0"/><circle cx="369" cy="561.2" r="2.0"/><circle cx="360.4" cy="566.6" r="2.0"/><circle cx="327.7" cy="561.3" r="2.0"/><circle cx="358.4" cy="567.2" r="2.0"/><circle cx="332.8" cy="560.8" r="2.0"/><circle cx="392.8" cy="566.9" r="2.0"/><circle cx="330.5" cy="571.9" r="2.0"/><circle cx="345.3" cy="575.7" r="2.0"/><circle cx="355.1" cy="568.9" r="2.0"/><circle cx="351.9" cy="566.6" r="2.0"/><circle cx="360.2" cy="571.5" r="2.0"/><circle cx="347" cy="566.5" r="2.0"/><circle cx="303.4" cy="503.4" r="2.0"/><circle cx="321.9" cy="571" r="2.0"/><circle cx="389.5" cy="546.3" r="2.0"/><circle cx="382.7" cy="563.7" r="2.0"/><circle cx="324.2" cy="557.8" r="2.0"/><circle cx="361.9" cy="565.4" r="2.0"/><circle cx="310.2" cy="564.5" r="2.0"/><circle cx="353.3" cy="576.7" r="2.0"/><circle cx="335.2" cy="560.4" r="2.0"/><circle cx="370.3" cy="559.5" r="2.0"/><circle cx="352.2" cy="569.3" r="2.0"/><circle cx="352.1" cy="561.1" r="2.0"/><circle cx="350.4" cy="558" r="2.0"/><circle cx="302.2" cy="513.2" r="2.0"/><circle cx="377.5" cy="545.3" r="2.0"/><circle cx="382.3" cy="576.6" r="2.0"/><circle cx="324.6" cy="564.8" r="2.0"/><circle cx="379.2" cy="575" r="2.0"/><circle cx="313.6" cy="554.7" r="2.0"/><circle cx="303.1" cy="541.1" r="2.0"/><circle cx="350" cy="567" r="2.0"/><circle cx="338.2" cy="578.8" r="2.0"/><circle cx="316.5" cy="544" r="2.0"/><circle cx="327.8" cy="552.8" r="2.0"/><circle cx="316.3" cy="560" r="2.0"/><circle cx="336.7" cy="558.7" r="2.0"/><circle cx="339.7" cy="563.2" r="2.0"/><circle cx="336.8" cy="571" r="2.0"/><circle cx="355.1" cy="565.8" r="2.0"/><circle cx="338.3" cy="568.8" r="2.0"/><circle cx="353.8" cy="571" r="2.0"/><circle cx="350.2" cy="581.4" r="2.0"/><circle cx="344.9" cy="575.5" r="2.0"/><circle cx="343.4" cy="569.8" r="2.0"/><circle cx="387.4" cy="553.2" r="2.0"/><circle cx="427.5" cy="488.8" r="2.0"/><circle cx="372.3" cy="576.1" r="2.0"/><circle cx="367.3" cy="560.9" r="2.0"/><circle cx="314.1" cy="561.5" r="2.0"/><circle cx="308" cy="569.6" r="2.0"/><circle cx="324.2" cy="571.6" r="2.0"/><circle cx="346.8" cy="569.4" r="2.0"/><circle cx="368.9" cy="559.9" r="2.0"/><circle cx="307.5" cy="549.5" r="2.0"/><circle cx="386.1" cy="570.8" r="2.0"/><circle cx="358.6" cy="577.7" r="2.0"/><circle cx="316.3" cy="555" r="2.0"/><circle cx="288.3" cy="547.3" r="2.0"/><circle cx="303.1" cy="546.8" r="2.0"/><circle cx="351.8" cy="566.1" r="2.0"/><circle cx="361.9" cy="575.1" r="2.0"/><circle cx="385.9" cy="569.8" r="2.0"/><circle cx="316.3" cy="568.1" r="2.0"/><circle cx="307" cy="460" r="2.0"/><circle cx="296.6" cy="534.4" r="2.0"/><circle cx="353.3" cy="576.7" r="2.0"/><circle cx="392.6" cy="563.4" r="2.0"/><circle cx="365.3" cy="573.6" r="2.0"/><circle cx="440" cy="552.4" r="2.0"/><circle cx="377.1" cy="566.3" r="2.0"/><circle cx="357" cy="565.6" r="2.0"/><circle cx="380.7" cy="569.3" r="2.0"/><circle cx="366.9" cy="571.3" r="2.0"/><circle cx="310.4" cy="575.1" r="2.0"/><circle cx="333.3" cy="578.9" r="2.0"/><circle cx="322" cy="567" r="2.0"/><circle cx="356.8" cy="566.2" r="2.0"/><circle cx="375.9" cy="570.3" r="2.0"/><circle cx="362.2" cy="567.4" r="2.0"/><circle cx="406" cy="507.6" r="2.0"/><circle cx="310.2" cy="549.3" r="2.0"/><circle cx="394.3" cy="558.5" r="2.0"/><circle cx="373.9" cy="566.6" r="2.0"/><circle cx="350.1" cy="572.1" r="2.0"/><circle cx="325.1" cy="539.5" r="2.0"/><circle cx="389.4" cy="569" r="2.0"/><circle cx="314" cy="566.9" r="2.0"/><circle cx="321.8" cy="574.9" r="2.0"/><circle cx="341.9" cy="568.1" r="2.0"/><circle cx="368.7" cy="573.3" r="2.0"/><circle cx="372" cy="569.2" r="2.0"/><circle cx="341.9" cy="566.9" r="2.0"/><circle cx="330.1" cy="579" r="2.0"/><circle cx="375.8" cy="580.9" r="2.0"/><circle cx="382.8" cy="577" r="2.0"/><circle cx="350.4" cy="565.1" r="2.0"/><circle cx="316.3" cy="562.2" r="2.0"/><circle cx="392.9" cy="576.2" r="2.0"/><circle cx="385.8" cy="570.9" r="2.0"/><circle cx="382.8" cy="563.1" r="2.0"/><circle cx="332.8" cy="576.8" r="2.0"/><circle cx="338.3" cy="571.4" r="2.0"/><circle cx="403.7" cy="571.2" r="2.0"/><circle cx="365.7" cy="562" r="2.0"/><circle cx="346.7" cy="569.1" r="2.0"/><circle cx="380.9" cy="574.6" r="2.0"/><circle cx="303.5" cy="566.6" r="2.0"/><circle cx="343.2" cy="570.9" r="2.0"/><circle cx="324.7" cy="565.4" r="2.0"/><circle cx="346.7" cy="559.5" r="2.0"/><circle cx="343.1" cy="568.8" r="2.0"/><circle cx="365.6" cy="578" r="2.0"/><circle cx="330.5" cy="579.3" r="2.0"/><circle cx="310.8" cy="538.7" r="2.0"/><circle cx="316" cy="571.1" r="2.0"/><circle cx="308.1" cy="562" r="2.0"/><circle cx="384.5" cy="568.6" r="2.0"/><circle cx="330.1" cy="575" r="2.0"/><circle cx="330.1" cy="568" r="2.0"/><circle cx="376" cy="568.9" r="2.0"/><circle cx="338.3" cy="573.8" r="2.0"/><circle cx="341.8" cy="567.7" r="2.0"/><circle cx="345.1" cy="569.3" r="2.0"/><circle cx="334.9" cy="541.2" r="2.0"/><circle cx="305.8" cy="525.4" r="2.0"/><circle cx="427.5" cy="543" r="2.0"/><circle cx="343.4" cy="564.5" r="2.0"/><circle cx="307.5" cy="557.4" r="2.0"/><circle cx="303.3" cy="570.3" r="2.0"/><circle cx="338.8" cy="572.1" r="2.0"/><circle cx="335.1" cy="553.2" r="2.0"/><circle cx="421.8" cy="554.3" r="2.0"/><circle cx="327.4" cy="561.4" r="2.0"/><circle cx="380.5" cy="565.4" r="2.0"/><circle cx="367" cy="577.3" r="2.0"/><circle cx="334.8" cy="544.4" r="2.0"/><circle cx="375.7" cy="567.6" r="2.0"/><circle cx="339.8" cy="561.3" r="2.0"/><circle cx="304.8" cy="553.3" r="2.0"/><circle cx="377.7" cy="566.2" r="2.0"/><circle cx="367.5" cy="570.8" r="2.0"/><circle cx="440.1" cy="544.9" r="2.0"/><circle cx="303.6" cy="571.9" r="2.0"/><circle cx="360.8" cy="552.8" r="2.0"/><circle cx="367.2" cy="558.6" r="2.0"/><circle cx="440.4" cy="543.1" r="2.0"/><circle cx="310.9" cy="574.1" r="2.0"/><circle cx="307.2" cy="501.4" r="2.0"/><circle cx="324.2" cy="560" r="2.0"/><circle cx="360.4" cy="574.5" r="2.0"/><circle cx="341.8" cy="580.4" r="2.0"/><circle cx="324.4" cy="559.5" r="2.0"/><circle cx="310.3" cy="571.6" r="2.0"/><circle cx="377.1" cy="565.6" r="2.0"/><circle cx="296.5" cy="537.8" r="2.0"/><circle cx="374.2" cy="575.5" r="2.0"/><circle cx="325.5" cy="529.4" r="2.0"/><circle cx="332.7" cy="575.9" r="2.0"/><circle cx="372.2" cy="564" r="2.0"/><circle cx="384.4" cy="564.5" r="2.0"/><circle cx="312" cy="588.3" r="2.0"/><circle cx="380.5" cy="574.8" r="2.0"/><circle cx="313.7" cy="562" r="2.0"/><circle cx="308" cy="565" r="2.0"/><circle cx="335.5" cy="570.3" r="2.0"/><circle cx="356.8" cy="566" r="2.0"/><circle cx="307.2" cy="492.3" r="2.0"/><circle cx="307.9" cy="555.2" r="2.0"/><circle cx="316.4" cy="552.5" r="2.0"/><circle cx="375.5" cy="576.1" r="2.0"/><circle cx="403.2" cy="555" r="2.0"/><circle cx="384" cy="556.7" r="2.0"/><circle cx="383.9" cy="578.7" r="2.0"/><circle cx="375.9" cy="571.6" r="2.0"/><circle cx="345.4" cy="560.7" r="2.0"/><circle cx="322.1" cy="555.9" r="2.0"/><circle cx="335.7" cy="568.5" r="2.0"/><circle cx="370.7" cy="576.7" r="2.0"/><circle cx="381" cy="564.3" r="2.0"/><circle cx="370.4" cy="573.1" r="2.0"/><circle cx="362.2" cy="577.2" r="2.0"/><circle cx="350" cy="571.3" r="2.0"/><circle cx="280" cy="472" r="2.0"/><circle cx="336.5" cy="571.8" r="2.0"/><circle cx="336.5" cy="564.4" r="2.0"/><circle cx="427.4" cy="507.6" r="2.0"/><circle cx="332.8" cy="554.6" r="2.0"/><circle cx="316" cy="556.1" r="2.0"/><circle cx="336.4" cy="561.4" r="2.0"/><circle cx="327.3" cy="557.7" r="2.0"/><circle cx="307.4" cy="563.5" r="2.0"/><circle cx="310.8" cy="559.8" r="2.0"/><circle cx="381.1" cy="578.2" r="2.0"/><circle cx="367.4" cy="580.2" r="2.0"/><circle cx="307.2" cy="496.9" r="2.0"/><circle cx="394.6" cy="584.4" r="2.0"/><circle cx="367.4" cy="570.4" r="2.0"/><circle cx="323.9" cy="571.6" r="2.0"/><circle cx="375.7" cy="569.9" r="2.0"/><circle cx="321.8" cy="555.8" r="2.0"/><circle cx="352.2" cy="573.8" r="2.0"/><circle cx="380.7" cy="572" r="2.0"/><circle cx="314.1" cy="560.6" r="2.0"/><circle cx="380.7" cy="574.5" r="2.0"/><circle cx="367.1" cy="569.7" r="2.0"/><circle cx="353.4" cy="561.5" r="2.0"/><circle cx="412.9" cy="555.3" r="2.0"/><circle cx="323.9" cy="579.6" r="2.0"/><circle cx="389.5" cy="563.2" r="2.0"/><circle cx="391.2" cy="568.7" r="2.0"/><circle cx="362.1" cy="552.7" r="2.0"/><circle cx="394.3" cy="575.7" r="2.0"/><circle cx="314.1" cy="552.2" r="2.0"/><circle cx="350.2" cy="565.6" r="2.0"/><circle cx="372.2" cy="572.9" r="2.0"/><circle cx="374" cy="575.6" r="2.0"/><circle cx="375.4" cy="566.8" r="2.0"/><circle cx="307.5" cy="552.5" r="2.0"/><circle cx="307.8" cy="570.9" r="2.0"/><circle cx="312.2" cy="585.2" r="2.0"/><circle cx="307.4" cy="548.5" r="2.0"/><circle cx="307.9" cy="551.3" r="2.0"/><circle cx="339.8" cy="554.7" r="2.0"/><circle cx="381" cy="559.1" r="2.0"/><circle cx="367.2" cy="564.2" r="2.0"/><circle cx="351.9" cy="569.3" r="2.0"/><circle cx="355.3" cy="562.6" r="2.0"/><circle cx="341.9" cy="561.9" r="2.0"/><circle cx="325.5" cy="522.8" r="2.0"/><circle cx="310.4" cy="543.4" r="2.0"/><circle cx="346.8" cy="569" r="2.0"/><circle cx="321.6" cy="570.2" r="2.0"/><circle cx="316" cy="554.8" r="2.0"/><circle cx="305.1" cy="572.9" r="2.0"/><circle cx="324.2" cy="575.3" r="2.0"/><circle cx="335.5" cy="561" r="2.0"/><circle cx="316" cy="550.7" r="2.0"/><circle cx="367" cy="562.7" r="2.0"/><circle cx="345.9" cy="554.8" r="2.0"/><circle cx="380.8" cy="573.7" r="2.0"/><circle cx="370.3" cy="561.7" r="2.0"/><circle cx="327.9" cy="571.3" r="2.0"/><circle cx="406.5" cy="548" r="2.0"/><circle cx="374.1" cy="568.2" r="2.0"/><circle cx="391.6" cy="570.9" r="2.0"/><circle cx="310.5" cy="541.7" r="2.0"/><circle cx="387.6" cy="566.5" r="2.0"/><circle cx="427.4" cy="504.9" r="2.0"/><circle cx="350.5" cy="572.8" r="2.0"/><circle cx="316.1" cy="553.3" r="2.0"/><circle cx="338.5" cy="573" r="2.0"/><circle cx="314" cy="555.1" r="2.0"/><circle cx="384.4" cy="564.5" r="2.0"/><circle cx="322.1" cy="557.4" r="2.0"/><circle cx="358.9" cy="574.2" r="2.0"/><circle cx="394.3" cy="569.2" r="2.0"/><circle cx="372.4" cy="562.7" r="2.0"/><circle cx="391.8" cy="567.2" r="2.0"/><circle cx="305" cy="564.7" r="2.0"/><circle cx="280" cy="476" r="2.0"/><circle cx="392.4" cy="574.9" r="2.0"/><circle cx="413.2" cy="558.2" r="2.0"/><circle cx="338.6" cy="572.2" r="2.0"/><circle cx="384.3" cy="566.9" r="2.0"/><circle cx="348.8" cy="563.9" r="2.0"/><circle cx="384.1" cy="565.8" r="2.0"/><circle cx="350.2" cy="570.7" r="2.0"/><circle cx="355.3" cy="566.3" r="2.0"/><circle cx="373.8" cy="576" r="2.0"/><circle cx="322" cy="570.7" r="2.0"/><circle cx="375.6" cy="574.8" r="2.0"/><circle cx="378.8" cy="573.9" r="2.0"/><circle cx="333.4" cy="558.7" r="2.0"/><circle cx="307.8" cy="550.6" r="2.0"/><circle cx="365.6" cy="565.5" r="2.0"/><circle cx="327.8" cy="562.7" r="2.0"/><circle cx="350.1" cy="564.3" r="2.0"/><circle cx="310.4" cy="570.6" r="2.0"/><circle cx="303.2" cy="562.1" r="2.0"/><circle cx="307.3" cy="446.2" r="2.0"/><circle cx="350.2" cy="567.6" r="2.0"/><circle cx="306.9" cy="484.3" r="2.0"/><circle cx="340" cy="569.2" r="2.0"/><circle cx="333" cy="572.7" r="2.0"/><circle cx="392.4" cy="570.2" r="2.0"/><circle cx="338.1" cy="568.1" r="2.0"/><circle cx="339.7" cy="568.1" r="2.0"/><circle cx="332.8" cy="578.7" r="2.0"/><circle cx="332.8" cy="564.3" r="2.0"/><circle cx="387.5" cy="565.1" r="2.0"/><circle cx="390.9" cy="568.5" r="2.0"/><circle cx="330.2" cy="570" r="2.0"/><circle cx="307.5" cy="568.7" r="2.0"/><circle cx="310.9" cy="537.6" r="2.0"/><circle cx="332.9" cy="567.2" r="2.0"/><circle cx="303.6" cy="553.9" r="2.0"/><circle cx="327.9" cy="571.2" r="2.0"/><circle cx="307.1" cy="479.9" r="2.0"/><circle cx="421.1" cy="540.9" r="2.0"/><circle cx="307.8" cy="569.4" r="2.0"/><circle cx="340.1" cy="565.5" r="2.0"/><circle cx="375.9" cy="567.4" r="2.0"/><circle cx="303.2" cy="556.7" r="2.0"/><circle cx="322.1" cy="578.2" r="2.0"/><circle cx="335.4" cy="572.3" r="2.0"/><circle cx="375.4" cy="568.9" r="2.0"/><circle cx="384" cy="579.7" r="2.0"/><circle cx="335.7" cy="568.1" r="2.0"/><circle cx="389" cy="560.4" r="2.0"/><circle cx="367.2" cy="561.7" r="2.0"/><circle cx="332.9" cy="580.8" r="2.0"/><circle cx="345" cy="577.3" r="2.0"/><circle cx="327.4" cy="560.9" r="2.0"/><circle cx="375.5" cy="578.3" r="2.0"/><circle cx="372.1" cy="568.7" r="2.0"/><circle cx="380.8" cy="567.9" r="2.0"/><circle cx="316.6" cy="552.5" r="2.0"/><circle cx="325.1" cy="536.5" r="2.0"/><circle cx="392.8" cy="576.6" r="2.0"/><circle cx="336.5" cy="569.4" r="2.0"/><circle cx="368.7" cy="577.7" r="2.0"/><circle cx="350" cy="564" r="2.0"/><circle cx="304.8" cy="558.3" r="2.0"/><circle cx="307.6" cy="558.1" r="2.0"/><circle cx="307.5" cy="552.9" r="2.0"/><circle cx="310.2" cy="560.9" r="2.0"/><circle cx="338.8" cy="566.6" r="2.0"/><circle cx="387.3" cy="567.4" r="2.0"/><circle cx="343.7" cy="553" r="2.0"/><circle cx="375.9" cy="567.5" r="2.0"/><circle cx="347.1" cy="566.4" r="2.0"/><circle cx="330" cy="571.2" r="2.0"/><circle cx="355.2" cy="564.2" r="2.0"/><circle cx="327.2" cy="553.4" r="2.0"/><circle cx="386" cy="564.3" r="2.0"/><circle cx="296.7" cy="531.5" r="2.0"/><circle cx="325.1" cy="515.6" r="2.0"/><circle cx="338.5" cy="576.2" r="2.0"/><circle cx="377.6" cy="561" r="2.0"/><circle cx="368.6" cy="565.9" r="2.0"/><circle cx="312" cy="591.1" r="2.0"/><circle cx="346.6" cy="566.7" r="2.0"/><circle cx="307.4" cy="559.7" r="2.0"/><circle cx="382.5" cy="563.7" r="2.0"/><circle cx="338.1" cy="568.5" r="2.0"/><circle cx="364.1" cy="576.6" r="2.0"/><circle cx="316.6" cy="554.6" r="2.0"/><circle cx="338.4" cy="567.2" r="2.0"/><circle cx="324.1" cy="566.6" r="2.0"/><circle cx="314.1" cy="562.3" r="2.0"/><circle cx="303.4" cy="561.6" r="2.0"/><circle cx="313.8" cy="562.7" r="2.0"/><circle cx="348.2" cy="573.3" r="2.0"/><circle cx="365.7" cy="564.5" r="2.0"/><circle cx="327.8" cy="554.1" r="2.0"/><circle cx="307.2" cy="451.6" r="2.0"/><circle cx="310.9" cy="559.6" r="2.0"/><circle cx="382.2" cy="575.8" r="2.0"/><circle cx="367.4" cy="566.9" r="2.0"/><circle cx="365.7" cy="572.9" r="2.0"/><circle cx="322.1" cy="572.9" r="2.0"/><circle cx="384.4" cy="554.3" r="2.0"/><circle cx="305" cy="564.6" r="2.0"/><circle cx="346.9" cy="562.7" r="2.0"/><circle cx="365.3" cy="578.2" r="2.0"/><circle cx="307.2" cy="453.9" r="2.0"/><circle cx="307.9" cy="546.1" r="2.0"/><circle cx="327.6" cy="558.2" r="2.0"/><circle cx="355.6" cy="567.6" r="2.0"/><circle cx="316.4" cy="558.9" r="2.0"/><circle cx="394.2" cy="561" r="2.0"/><circle cx="333.4" cy="557.6" r="2.0"/><circle cx="379.1" cy="561.9" r="2.0"/><circle cx="316.2" cy="560.5" r="2.0"/><circle cx="314.1" cy="554.1" r="2.0"/><circle cx="392.4" cy="566.2" r="2.0"/><circle cx="351.8" cy="567.6" r="2.0"/><circle cx="335" cy="563.3" r="2.0"/><circle cx="324" cy="562.6" r="2.0"/><circle cx="394.6" cy="558.4" r="2.0"/><circle cx="353.5" cy="569.6" r="2.0"/><circle cx="347" cy="561.5" r="2.0"/><circle cx="306.8" cy="476.6" r="2.0"/><circle cx="408.6" cy="574.1" r="2.0"/><circle cx="353.6" cy="575.9" r="2.0"/><circle cx="310.2" cy="553.8" r="2.0"/><circle cx="338.6" cy="561.5" r="2.0"/><circle cx="365.4" cy="565.7" r="2.0"/><circle cx="369.2" cy="574.9" r="2.0"/><circle cx="335" cy="575.9" r="2.0"/><circle cx="362" cy="566.3" r="2.0"/><circle cx="365.7" cy="579.4" r="2.0"/><circle cx="375.7" cy="555.6" r="2.0"/><circle cx="364" cy="570.4" r="2.0"/><circle cx="340" cy="555.7" r="2.0"/><circle cx="391.4" cy="571.1" r="2.0"/><circle cx="360.1" cy="585.2" r="2.0"/><circle cx="360.4" cy="574.6" r="2.0"/><circle cx="333.2" cy="579.9" r="2.0"/><circle cx="333" cy="560.4" r="2.0"/><circle cx="372.1" cy="564.3" r="2.0"/><circle cx="370.4" cy="572.5" r="2.0"/><circle cx="387.7" cy="568.3" r="2.0"/><circle cx="368.9" cy="577.6" r="2.0"/><circle cx="316.5" cy="568.5" r="2.0"/><circle cx="346.8" cy="571" r="2.0"/><circle cx="314" cy="558.8" r="2.0"/><circle cx="394.1" cy="569.9" r="2.0"/><circle cx="304.9" cy="557.1" r="2.0"/><circle cx="355.3" cy="570.1" r="2.0"/><circle cx="407.4" cy="518.8" r="2.0"/><circle cx="341.7" cy="560.9" r="2.0"/><circle cx="333.1" cy="557.9" r="2.0"/><circle cx="385.6" cy="560.9" r="2.0"/></g>
<g fill="#bdd7ee" stroke="#a6c8e8" stroke-width="0.5"><circle cx="639.3" cy="569.7" r="2.0"/><circle cx="557.4" cy="572.8" r="2.0"/><circle cx="529" cy="567.8" r="2.0"/><circle cx="612.1" cy="544" r="2.0"/><circle cx="569.7" cy="556.8" r="2.0"/><circle cx="538.6" cy="574.7" r="2.0"/><circle cx="568.3" cy="541.4" r="2.0"/><circle cx="589.6" cy="526.1" r="2.0"/><circle cx="601.7" cy="561.7" r="2.0"/><circle cx="629.7" cy="553.8" r="2.0"/><circle cx="517" cy="571.3" r="2.0"/><circle cx="572.3" cy="522.1" r="2.0"/><circle cx="634.2" cy="562" r="2.0"/><circle cx="625.9" cy="549.9" r="2.0"/><circle cx="589.7" cy="568.5" r="2.0"/><circle cx="623.6" cy="548.8" r="2.0"/><circle cx="525.3" cy="564.1" r="2.0"/><circle cx="581.2" cy="570.8" r="2.0"/><circle cx="586.8" cy="567.2" r="2.0"/><circle cx="518.7" cy="541.4" r="2.0"/><circle cx="579.6" cy="542.6" r="2.0"/><circle cx="571.2" cy="562.5" r="2.0"/><circle cx="521.9" cy="563" r="2.0"/><circle cx="578.2" cy="569.8" r="2.0"/><circle cx="562.7" cy="564.9" r="2.0"/><circle cx="610.3" cy="561" r="2.0"/><circle cx="576.4" cy="556.8" r="2.0"/><circle cx="618.8" cy="567.7" r="2.0"/><circle cx="639" cy="551.2" r="2.0"/><circle cx="505.5" cy="500.1" r="2.0"/><circle cx="589.8" cy="568.9" r="2.0"/><circle cx="576.1" cy="566.6" r="2.0"/><circle cx="632.4" cy="522.5" r="2.0"/><circle cx="578.3" cy="545.9" r="2.0"/><circle cx="629.4" cy="534.9" r="2.0"/><circle cx="596.6" cy="565.5" r="2.0"/><circle cx="535.8" cy="560.9" r="2.0"/><circle cx="636" cy="558" r="2.0"/><circle cx="620.6" cy="563.1" r="2.0"/><circle cx="591.3" cy="556.2" r="2.0"/><circle cx="574.3" cy="569.6" r="2.0"/><circle cx="564.2" cy="560.6" r="2.0"/><circle cx="566.2" cy="553.5" r="2.0"/><circle cx="623.9" cy="573.5" r="2.0"/><circle cx="574.6" cy="559.2" r="2.0"/><circle cx="644.7" cy="547.3" r="2.0"/><circle cx="538.8" cy="569.6" r="2.0"/><circle cx="617" cy="563.8" r="2.0"/><circle cx="629.8" cy="557" r="2.0"/><circle cx="610" cy="561" r="2.0"/><circle cx="520" cy="562.9" r="2.0"/><circle cx="506.1" cy="550.6" r="2.0"/><circle cx="652.4" cy="561.5" r="2.0"/><circle cx="542.4" cy="570.3" r="2.0"/><circle cx="631.1" cy="539.8" r="2.0"/><circle cx="569.3" cy="573.3" r="2.0"/><circle cx="525.6" cy="568.8" r="2.0"/><circle cx="547.3" cy="566.5" r="2.0"/><circle cx="506.7" cy="564.1" r="2.0"/><circle cx="510.5" cy="556.5" r="2.0"/><circle cx="623.9" cy="517.1" r="2.0"/><circle cx="577.9" cy="563.6" r="2.0"/><circle cx="514.8" cy="556.1" r="2.0"/><circle cx="618.6" cy="573.1" r="2.0"/><circle cx="570.2" cy="550.8" r="2.0"/><circle cx="561" cy="561.4" r="2.0"/><circle cx="537.3" cy="567.2" r="2.0"/><circle cx="527.2" cy="567.9" r="2.0"/><circle cx="593.6" cy="572.7" r="2.0"/><circle cx="610.1" cy="552" r="2.0"/><circle cx="622.4" cy="562.6" r="2.0"/><circle cx="604.8" cy="532.7" r="2.0"/><circle cx="582.9" cy="569.7" r="2.0"/><circle cx="557.8" cy="572.1" r="2.0"/><circle cx="571.4" cy="563.9" r="2.0"/><circle cx="525" cy="565.3" r="2.0"/><circle cx="626.8" cy="552" r="2.0"/><circle cx="522.1" cy="568.4" r="2.0"/><circle cx="608.3" cy="573.4" r="2.0"/><circle cx="591.8" cy="561.9" r="2.0"/><circle cx="603.5" cy="567.6" r="2.0"/><circle cx="577.8" cy="567.6" r="2.0"/><circle cx="581.3" cy="553.4" r="2.0"/><circle cx="618.6" cy="565.2" r="2.0"/><circle cx="645.1" cy="548.7" r="2.0"/><circle cx="523.4" cy="562.1" r="2.0"/><circle cx="545.9" cy="570.9" r="2.0"/><circle cx="523.7" cy="574.4" r="2.0"/><circle cx="610.5" cy="554.8" r="2.0"/><circle cx="512.4" cy="549.5" r="2.0"/><circle cx="634.8" cy="544.6" r="2.0"/><circle cx="642" cy="552" r="2.0"/><circle cx="616.9" cy="541.5" r="2.0"/><circle cx="528.5" cy="572.2" r="2.0"/><circle cx="588.4" cy="565.7" r="2.0"/><circle cx="583.4" cy="562.7" r="2.0"/><circle cx="623.7" cy="565" r="2.0"/><circle cx="613.7" cy="555.1" r="2.0"/><circle cx="601.8" cy="548.3" r="2.0"/><circle cx="624.1" cy="534.1" r="2.0"/><circle cx="593.4" cy="561.9" r="2.0"/><circle cx="574.5" cy="574.8" r="2.0"/><circle cx="586.7" cy="568" r="2.0"/><circle cx="576.5" cy="569.7" r="2.0"/><circle cx="642.1" cy="564" r="2.0"/><circle cx="552.7" cy="571.4" r="2.0"/><circle cx="618.9" cy="561.5" r="2.0"/><circle cx="562.8" cy="569.5" r="2.0"/><circle cx="554.1" cy="548.3" r="2.0"/><circle cx="600" cy="567.1" r="2.0"/><circle cx="535.7" cy="571.2" r="2.0"/><circle cx="577.8" cy="567.4" r="2.0"/><circle cx="534" cy="566.1" r="2.0"/><circle cx="562.9" cy="541.1" r="2.0"/><circle cx="598.4" cy="565.1" r="2.0"/><circle cx="604.9" cy="575.4" r="2.0"/><circle cx="547.4" cy="563.9" r="2.0"/><circle cx="609.8" cy="552.7" r="2.0"/><circle cx="581.3" cy="569.8" r="2.0"/><circle cx="565.9" cy="528.5" r="2.0"/><circle cx="576.1" cy="553.4" r="2.0"/><circle cx="593.2" cy="568.4" r="2.0"/><circle cx="574.7" cy="565.2" r="2.0"/><circle cx="631.7" cy="561.4" r="2.0"/><circle cx="571.4" cy="539.2" r="2.0"/><circle cx="577.8" cy="579.9" r="2.0"/><circle cx="577.8" cy="558.1" r="2.0"/><circle cx="572.2" cy="539.1" r="2.0"/><circle cx="621.4" cy="518.5" r="2.0"/><circle cx="621.6" cy="562.8" r="2.0"/><circle cx="623.5" cy="539.3" r="2.0"/><circle cx="528.6" cy="574.3" r="2.0"/><circle cx="561" cy="549.8" r="2.0"/><circle cx="642" cy="559.1" r="2.0"/><circle cx="611.7" cy="556.1" r="2.0"/><circle cx="636" cy="554.2" r="2.0"/><circle cx="567.9" cy="548.1" r="2.0"/><circle cx="609.7" cy="557.7" r="2.0"/><circle cx="586.5" cy="564.1" r="2.0"/><circle cx="515" cy="577.9" r="2.0"/><circle cx="527" cy="553.3" r="2.0"/><circle cx="579.8" cy="547.4" r="2.0"/><circle cx="647.6" cy="563.7" r="2.0"/><circle cx="545.8" cy="566.9" r="2.0"/><circle cx="522.2" cy="577.2" r="2.0"/><circle cx="528.5" cy="576.5" r="2.0"/><circle cx="570.3" cy="543.4" r="2.0"/><circle cx="579.9" cy="567.2" r="2.0"/><circle cx="639.1" cy="554.8" r="2.0"/><circle cx="540.5" cy="562.5" r="2.0"/><circle cx="566.3" cy="561.8" r="2.0"/><circle cx="610.2" cy="563.4" r="2.0"/><circle cx="631.6" cy="563.2" r="2.0"/><circle cx="588.2" cy="556.8" r="2.0"/><circle cx="547.3" cy="550.2" r="2.0"/><circle cx="588.2" cy="558.5" r="2.0"/><circle cx="549.4" cy="567.6" r="2.0"/><circle cx="549.2" cy="562.3" r="2.0"/><circle cx="586.5" cy="543.6" r="2.0"/><circle cx="546" cy="565.1" r="2.0"/><circle cx="603.2" cy="558.4" r="2.0"/><circle cx="621.4" cy="519.3" r="2.0"/><circle cx="566" cy="569.3" r="2.0"/><circle cx="530.1" cy="563.4" r="2.0"/><circle cx="584.9" cy="576.2" r="2.0"/><circle cx="571.3" cy="559.3" r="2.0"/><circle cx="520" cy="586.9" r="2.0"/><circle cx="579.7" cy="561.6" r="2.0"/><circle cx="610.2" cy="551.1" r="2.0"/><circle cx="534" cy="561.3" r="2.0"/><circle cx="526.9" cy="581" r="2.0"/><circle cx="533.7" cy="570" r="2.0"/><circle cx="593.5" cy="565.9" r="2.0"/><circle cx="564.3" cy="566.6" r="2.0"/><circle cx="581.5" cy="566" r="2.0"/><circle cx="557.8" cy="557.9" r="2.0"/><circle cx="581.6" cy="582.4" r="2.0"/><circle cx="535.4" cy="570.7" r="2.0"/><circle cx="596.7" cy="560.7" r="2.0"/><circle cx="620.7" cy="562.2" r="2.0"/><circle cx="569.7" cy="565.6" r="2.0"/><circle cx="557.9" cy="576.3" r="2.0"/><circle cx="542.4" cy="561.3" r="2.0"/><circle cx="584.8" cy="568.9" r="2.0"/><circle cx="568.1" cy="552.8" r="2.0"/><circle cx="615.1" cy="561.1" r="2.0"/><circle cx="542.6" cy="569.4" r="2.0"/><circle cx="555.6" cy="569" r="2.0"/><circle cx="554.2" cy="546.3" r="2.0"/><circle cx="652.1" cy="558.2" r="2.0"/><circle cx="580" cy="551.7" r="2.0"/><circle cx="603.2" cy="568" r="2.0"/><circle cx="582.8" cy="561" r="2.0"/><circle cx="561.2" cy="539.8" r="2.0"/><circle cx="611.6" cy="577.1" r="2.0"/><circle cx="566.1" cy="543.3" r="2.0"/><circle cx="533.8" cy="563.8" r="2.0"/><circle cx="600.3" cy="561.6" r="2.0"/><circle cx="601.6" cy="565.7" r="2.0"/><circle cx="591.5" cy="577" r="2.0"/><circle cx="626.2" cy="536.6" r="2.0"/><circle cx="623.8" cy="572.8" r="2.0"/><circle cx="613.4" cy="557.1" r="2.0"/><circle cx="620.2" cy="559.8" r="2.0"/><circle cx="530.7" cy="566.3" r="2.0"/><circle cx="586.7" cy="562.2" r="2.0"/><circle cx="623.9" cy="564.2" r="2.0"/><circle cx="595.2" cy="567.5" r="2.0"/><circle cx="603.7" cy="565.3" r="2.0"/><circle cx="542.2" cy="568.2" r="2.0"/><circle cx="577.7" cy="563.5" r="2.0"/><circle cx="621.1" cy="535.7" r="2.0"/><circle cx="619.1" cy="576.9" r="2.0"/><circle cx="647.6" cy="562.3" r="2.0"/><circle cx="617.2" cy="554.3" r="2.0"/><circle cx="587.8" cy="584.3" r="2.0"/><circle cx="515" cy="567.1" r="2.0"/><circle cx="589.8" cy="562.6" r="2.0"/><circle cx="608.7" cy="565.9" r="2.0"/><circle cx="535.5" cy="571.9" r="2.0"/><circle cx="527.8" cy="545" r="2.0"/><circle cx="584.5" cy="557.6" r="2.0"/><circle cx="571.1" cy="564.6" r="2.0"/><circle cx="540.6" cy="556.5" r="2.0"/><circle cx="518.5" cy="576.2" r="2.0"/><circle cx="564.5" cy="565.5" r="2.0"/><circle cx="507.6" cy="552.3" r="2.0"/><circle cx="567.8" cy="573.2" r="2.0"/><circle cx="528.9" cy="566.6" r="2.0"/><circle cx="542.3" cy="566.7" r="2.0"/><circle cx="611.9" cy="571.1" r="2.0"/><circle cx="530.7" cy="571.8" r="2.0"/><circle cx="583.1" cy="542.4" r="2.0"/><circle cx="612.1" cy="562.6" r="2.0"/><circle cx="523.7" cy="572.5" r="2.0"/><circle cx="623.4" cy="532.9" r="2.0"/><circle cx="545.6" cy="578.5" r="2.0"/><circle cx="621.1" cy="574.9" r="2.0"/><circle cx="642" cy="575.1" r="2.0"/><circle cx="584.7" cy="563.1" r="2.0"/><circle cx="546" cy="556.9" r="2.0"/><circle cx="550.8" cy="578" r="2.0"/><circle cx="576.4" cy="570.8" r="2.0"/><circle cx="584.7" cy="570" r="2.0"/><circle cx="606.9" cy="547.9" r="2.0"/><circle cx="561.1" cy="566.9" r="2.0"/><circle cx="627.5" cy="554.5" r="2.0"/><circle cx="642.3" cy="554.6" r="2.0"/><circle cx="607.1" cy="556.4" r="2.0"/><circle cx="619.1" cy="574.6" r="2.0"/><circle cx="559.5" cy="570.4" r="2.0"/><circle cx="629.3" cy="560.3" r="2.0"/><circle cx="571.1" cy="570.7" r="2.0"/><circle cx="627" cy="555.2" r="2.0"/><circle cx="619.1" cy="572.7" r="2.0"/><circle cx="639.4" cy="554.8" r="2.0"/><circle cx="545.9" cy="566.9" r="2.0"/><circle cx="610" cy="561.7" r="2.0"/><circle cx="548.9" cy="575.8" r="2.0"/><circle cx="617" cy="538.3" r="2.0"/><circle cx="626.7" cy="549.6" r="2.0"/><circle cx="617.4" cy="557.2" r="2.0"/><circle cx="537.2" cy="575" r="2.0"/><circle cx="557.9" cy="565.1" r="2.0"/><circle cx="639.5" cy="573.3" r="2.0"/><circle cx="626.5" cy="543.7" r="2.0"/><circle cx="624.5" cy="558.7" r="2.0"/><circle cx="533.7" cy="554.6" r="2.0"/><circle cx="602.1" cy="550.2" r="2.0"/><circle cx="576.4" cy="565.1" r="2.0"/><circle cx="620.8" cy="560.6" r="2.0"/><circle cx="621.1" cy="518.6" r="2.0"/><circle cx="547.4" cy="568.6" r="2.0"/><circle cx="622.9" cy="553.7" r="2.0"/><circle cx="615.2" cy="561.8" r="2.0"/><circle cx="606.8" cy="564" r="2.0"/><circle cx="510.3" cy="546.7" r="2.0"/><circle cx="658.3" cy="550.1" r="2.0"/><circle cx="614.9" cy="555.1" r="2.0"/><circle cx="619.3" cy="557.8" r="2.0"/><circle cx="639.6" cy="566.2" r="2.0"/><circle cx="621.2" cy="546.5" r="2.0"/><circle cx="593.2" cy="558.7" r="2.0"/><circle cx="603.3" cy="559.6" r="2.0"/><circle cx="551" cy="542.2" r="2.0"/><circle cx="537.4" cy="557.7" r="2.0"/><circle cx="548.8" cy="577.2" r="2.0"/><circle cx="658.4" cy="553.6" r="2.0"/><circle cx="631.8" cy="541.3" r="2.0"/><circle cx="620.8" cy="564.2" r="2.0"/><circle cx="630.7" cy="547.5" r="2.0"/><circle cx="572.8" cy="568.9" r="2.0"/><circle cx="562.5" cy="555.3" r="2.0"/><circle cx="574.5" cy="568.8" r="2.0"/><circle cx="620.9" cy="541.5" r="2.0"/><circle cx="615.4" cy="576.4" r="2.0"/><circle cx="619" cy="560" r="2.0"/><circle cx="621.1" cy="547.6" r="2.0"/><circle cx="591.7" cy="567" r="2.0"/><circle cx="569.7" cy="561.4" r="2.0"/><circle cx="623.9" cy="540.8" r="2.0"/><circle cx="639" cy="559.1" r="2.0"/><circle cx="530.4" cy="576.1" r="2.0"/><circle cx="643.9" cy="554.2" r="2.0"/><circle cx="597" cy="548" r="2.0"/><circle cx="528.7" cy="571.9" r="2.0"/><circle cx="617.3" cy="548.5" r="2.0"/><circle cx="515.3" cy="571.5" r="2.0"/><circle cx="602" cy="559.9" r="2.0"/><circle cx="600" cy="557.5" r="2.0"/><circle cx="556.1" cy="552.9" r="2.0"/><circle cx="618.9" cy="570.6" r="2.0"/><circle cx="608.4" cy="558.6" r="2.0"/><circle cx="530.6" cy="563" r="2.0"/><circle cx="591.7" cy="569" r="2.0"/><circle cx="567.9" cy="559.1" r="2.0"/><circle cx="567.5" cy="561.6" r="2.0"/><circle cx="622.1" cy="566.7" r="2.0"/><circle cx="591.7" cy="566.5" r="2.0"/><circle cx="629" cy="540" r="2.0"/><circle cx="505.5" cy="493.7" r="2.0"/><circle cx="596.9" cy="554" r="2.0"/><circle cx="621.4" cy="554.7" r="2.0"/><circle cx="522" cy="570.1" r="2.0"/><circle cx="601.8" cy="572.1" r="2.0"/><circle cx="537.3" cy="565.7" r="2.0"/><circle cx="620.9" cy="568.4" r="2.0"/><circle cx="579.2" cy="540.7" r="2.0"/><circle cx="547.2" cy="560.2" r="2.0"/><circle cx="626.8" cy="558" r="2.0"/><circle cx="641.9" cy="551.7" r="2.0"/><circle cx="636.2" cy="555.9" r="2.0"/><circle cx="523.6" cy="561.8" r="2.0"/><circle cx="598.9" cy="527.5" r="2.0"/><circle cx="545.6" cy="573.3" r="2.0"/><circle cx="624.5" cy="560.9" r="2.0"/><circle cx="631.9" cy="531.9" r="2.0"/><circle cx="601.9" cy="560.7" r="2.0"/><circle cx="542.2" cy="535.4" r="2.0"/><circle cx="547.1" cy="565.6" r="2.0"/><circle cx="511.3" cy="545.8" r="2.0"/><circle cx="559.3" cy="556.6" r="2.0"/><circle cx="542.4" cy="574.5" r="2.0"/><circle cx="567.8" cy="543.3" r="2.0"/><circle cx="510.3" cy="551.9" r="2.0"/><circle cx="561.2" cy="561.9" r="2.0"/><circle cx="564.6" cy="558.4" r="2.0"/><circle cx="629.1" cy="547.3" r="2.0"/><circle cx="623.3" cy="524.8" r="2.0"/><circle cx="572.7" cy="568.9" r="2.0"/><circle cx="566.1" cy="544" r="2.0"/><circle cx="586.5" cy="555.3" r="2.0"/><circle cx="571.3" cy="564.6" r="2.0"/><circle cx="622.2" cy="578.7" r="2.0"/><circle cx="531.8" cy="562.8" r="2.0"/><circle cx="540.8" cy="559.2" r="2.0"/><circle cx="569.5" cy="563.3" r="2.0"/><circle cx="576" cy="574.6" r="2.0"/><circle cx="641.7" cy="553.2" r="2.0"/><circle cx="525.2" cy="576.6" r="2.0"/><circle cx="525.1" cy="569.5" r="2.0"/><circle cx="611.9" cy="563.1" r="2.0"/><circle cx="527.3" cy="564.2" r="2.0"/><circle cx="591.5" cy="563.7" r="2.0"/><circle cx="619.1" cy="560.6" r="2.0"/><circle cx="618.5" cy="566.7" r="2.0"/><circle cx="620.5" cy="557.4" r="2.0"/><circle cx="541.8" cy="545" r="2.0"/><circle cx="627.1" cy="561.8" r="2.0"/><circle cx="603.7" cy="570.2" r="2.0"/><circle cx="562.7" cy="548.4" r="2.0"/><circle cx="622.4" cy="549.5" r="2.0"/><circle cx="630.1" cy="524.8" r="2.0"/><circle cx="647.6" cy="558.5" r="2.0"/><circle cx="618.9" cy="569.6" r="2.0"/><circle cx="584.8" cy="553.9" r="2.0"/><circle cx="547.7" cy="565.3" r="2.0"/><circle cx="605.3" cy="562.6" r="2.0"/><circle cx="613.5" cy="563.5" r="2.0"/><circle cx="567.7" cy="568.2" r="2.0"/><circle cx="618.8" cy="522.7" r="2.0"/><circle cx="631" cy="543.7" r="2.0"/><circle cx="637.4" cy="531.2" r="2.0"/><circle cx="521.8" cy="579.1" r="2.0"/><circle cx="567.9" cy="567.9" r="2.0"/><circle cx="645.2" cy="550.1" r="2.0"/><circle cx="618.5" cy="557.4" r="2.0"/><circle cx="569.9" cy="539.7" r="2.0"/><circle cx="617.6" cy="562.4" r="2.0"/><circle cx="615.3" cy="570.3" r="2.0"/><circle cx="564.2" cy="565.1" r="2.0"/><circle cx="626.4" cy="533.8" r="2.0"/><circle cx="510.4" cy="555.4" r="2.0"/><circle cx="539.1" cy="564.7" r="2.0"/><circle cx="522" cy="562" r="2.0"/><circle cx="542.4" cy="576.5" r="2.0"/><circle cx="553.4" cy="549.1" r="2.0"/><circle cx="618.5" cy="577.8" r="2.0"/><circle cx="564.2" cy="567.1" r="2.0"/><circle cx="622.6" cy="564.7" r="2.0"/><circle cx="587.9" cy="560.9" r="2.0"/><circle cx="569.4" cy="570" r="2.0"/><circle cx="570.3" cy="542.5" r="2.0"/><circle cx="605.1" cy="566.9" r="2.0"/><circle cx="583" cy="564.9" r="2.0"/><circle cx="538.6" cy="571.6" r="2.0"/><circle cx="579.6" cy="558.9" r="2.0"/><circle cx="545.8" cy="571.5" r="2.0"/><circle cx="593.1" cy="576.3" r="2.0"/><circle cx="530.6" cy="579.9" r="2.0"/><circle cx="589.6" cy="537.1" r="2.0"/><circle cx="639.2" cy="556.8" r="2.0"/><circle cx="608.3" cy="564.7" r="2.0"/><circle cx="525.6" cy="566.8" r="2.0"/><circle cx="598.2" cy="540.1" r="2.0"/><circle cx="630.7" cy="546.9" r="2.0"/><circle cx="590.1" cy="573.9" r="2.0"/><circle cx="562.7" cy="569.1" r="2.0"/><circle cx="610.4" cy="562.1" r="2.0"/><circle cx="620.2" cy="564.9" r="2.0"/><circle cx="583" cy="567.2" r="2.0"/><circle cx="645.1" cy="559.5" r="2.0"/><circle cx="618.8" cy="563.9" r="2.0"/><circle cx="620.7" cy="550.8" r="2.0"/><circle cx="559.1" cy="560.6" r="2.0"/><circle cx="631.6" cy="523" r="2.0"/><circle cx="534" cy="565.1" r="2.0"/><circle cx="621" cy="562.6" r="2.0"/><circle cx="530.3" cy="560.2" r="2.0"/><circle cx="532.4" cy="542.2" r="2.0"/><circle cx="639" cy="555.3" r="2.0"/><circle cx="555.6" cy="569.7" r="2.0"/><circle cx="512.6" cy="551.1" r="2.0"/><circle cx="542.4" cy="565.8" r="2.0"/><circle cx="539.1" cy="557.1" r="2.0"/><circle cx="641.7" cy="555.6" r="2.0"/><circle cx="579.5" cy="560.7" r="2.0"/><circle cx="549.1" cy="565.7" r="2.0"/><circle cx="634.4" cy="553.8" r="2.0"/><circle cx="622.4" cy="558.5" r="2.0"/><circle cx="555.9" cy="568" r="2.0"/><circle cx="619" cy="552.3" r="2.0"/><circle cx="591.7" cy="570.7" r="2.0"/><circle cx="643.6" cy="553.4" r="2.0"/><circle cx="615.3" cy="553.1" r="2.0"/><circle cx="523.9" cy="574.8" r="2.0"/><circle cx="596.4" cy="550" r="2.0"/><circle cx="543.7" cy="575.4" r="2.0"/><circle cx="586.6" cy="567.3" r="2.0"/><circle cx="624.7" cy="558.6" r="2.0"/><circle cx="608.7" cy="563.6" r="2.0"/><circle cx="584.6" cy="548.5" r="2.0"/><circle cx="588.1" cy="561.4" r="2.0"/><circle cx="650.2" cy="522.1" r="2.0"/><circle cx="610.1" cy="573.5" r="2.0"/><circle cx="559.1" cy="563.6" r="2.0"/><circle cx="603.8" cy="568.5" r="2.0"/><circle cx="603.8" cy="559.9" r="2.0"/><circle cx="600.2" cy="567.8" r="2.0"/><circle cx="559.5" cy="550.1" r="2.0"/><circle cx="593.4" cy="570.3" r="2.0"/><circle cx="629.6" cy="531.4" r="2.0"/><circle cx="623.6" cy="548" r="2.0"/><circle cx="615.1" cy="553.6" r="2.0"/><circle cx="621.7" cy="563.5" r="2.0"/><circle cx="557.8" cy="575.7" r="2.0"/><circle cx="642.3" cy="556.4" r="2.0"/><circle cx="542.5" cy="569.4" r="2.0"/><circle cx="572.7" cy="556.8" r="2.0"/><circle cx="542.2" cy="574.3" r="2.0"/><circle cx="520.1" cy="571.7" r="2.0"/><circle cx="605.3" cy="547.9" r="2.0"/><circle cx="629.5" cy="553.7" r="2.0"/><circle cx="518.5" cy="566.1" r="2.0"/><circle cx="552.2" cy="574" r="2.0"/><circle cx="542.4" cy="567.8" r="2.0"/><circle cx="540.4" cy="564.6" r="2.0"/><circle cx="619.2" cy="527.1" r="2.0"/><circle cx="562.7" cy="562.5" r="2.0"/><circle cx="559.1" cy="543.5" r="2.0"/><circle cx="571.2" cy="554.9" r="2.0"/><circle cx="576.6" cy="567.9" r="2.0"/><circle cx="581.7" cy="554.2" r="2.0"/><circle cx="565.5" cy="589.7" r="2.0"/><circle cx="572.3" cy="549.5" r="2.0"/><circle cx="612.1" cy="534.9" r="2.0"/><circle cx="626.6" cy="541.6" r="2.0"/><circle cx="633.8" cy="555.8" r="2.0"/><circle cx="644.6" cy="558.2" r="2.0"/><circle cx="537.5" cy="553.4" r="2.0"/><circle cx="613.8" cy="573.8" r="2.0"/><circle cx="576.3" cy="568.9" r="2.0"/><circle cx="541.4" cy="547.8" r="2.0"/><circle cx="512.3" cy="555.8" r="2.0"/><circle cx="520.2" cy="553.8" r="2.0"/><circle cx="571" cy="561.5" r="2.0"/><circle cx="624" cy="514.9" r="2.0"/><circle cx="636" cy="552.8" r="2.0"/><circle cx="534" cy="571" r="2.0"/><circle cx="560.7" cy="571.8" r="2.0"/><circle cx="530.3" cy="566.6" r="2.0"/><circle cx="598.8" cy="529.6" r="2.0"/><circle cx="588.4" cy="564.9" r="2.0"/><circle cx="570.6" cy="549.2" r="2.0"/><circle cx="610" cy="553.8" r="2.0"/><circle cx="606.6" cy="540.4" r="2.0"/><circle cx="570.3" cy="545.7" r="2.0"/><circle cx="611.7" cy="563.8" r="2.0"/><circle cx="543.8" cy="574" r="2.0"/><circle cx="618.9" cy="563.7" r="2.0"/><circle cx="555.8" cy="575.8" r="2.0"/><circle cx="593.6" cy="559" r="2.0"/><circle cx="594.8" cy="553.7" r="2.0"/><circle cx="623.4" cy="527.1" r="2.0"/><circle cx="557.6" cy="557.4" r="2.0"/><circle cx="560.7" cy="571.5" r="2.0"/><circle cx="619" cy="564.5" r="2.0"/><circle cx="619" cy="530.5" r="2.0"/><circle cx="579.9" cy="561.7" r="2.0"/><circle cx="530.7" cy="577" r="2.0"/><circle cx="550.6" cy="575.3" r="2.0"/><circle cx="565.7" cy="543.8" r="2.0"/><circle cx="571.2" cy="570.4" r="2.0"/><circle cx="639" cy="557.7" r="2.0"/><circle cx="626.3" cy="542.3" r="2.0"/><circle cx="613.5" cy="576.9" r="2.0"/><circle cx="572.2" cy="541.6" r="2.0"/><circle cx="545.4" cy="563.8" r="2.0"/><circle cx="557.3" cy="564.5" r="2.0"/><circle cx="598.2" cy="572.1" r="2.0"/><circle cx="573.2" cy="562.8" r="2.0"/><circle cx="523.8" cy="575.9" r="2.0"/><circle cx="572" cy="549.2" r="2.0"/><circle cx="518.2" cy="547.2" r="2.0"/><circle cx="517.1" cy="569.6" r="2.0"/><circle cx="520.4" cy="571.8" r="2.0"/><circle cx="538.7" cy="562.3" r="2.0"/><circle cx="632.9" cy="547.5" r="2.0"/><circle cx="647.2" cy="556.9" r="2.0"/><circle cx="642.1" cy="564.9" r="2.0"/><circle cx="505.5" cy="519.9" r="2.0"/><circle cx="635.3" cy="550.6" r="2.0"/><circle cx="586.6" cy="575.4" r="2.0"/><circle cx="535.7" cy="566.4" r="2.0"/><circle cx="611.9" cy="577.5" r="2.0"/><circle cx="518.5" cy="543.3" r="2.0"/><circle cx="596.5" cy="578.9" r="2.0"/><circle cx="611.7" cy="564.5" r="2.0"/><circle cx="639.5" cy="549.6" r="2.0"/><circle cx="589.6" cy="552.2" r="2.0"/><circle cx="586.7" cy="559.3" r="2.0"/><circle cx="606.8" cy="559.2" r="2.0"/><circle cx="557.7" cy="562.3" r="2.0"/><circle cx="547.6" cy="545.4" r="2.0"/><circle cx="564.3" cy="561.2" r="2.0"/><circle cx="644.8" cy="562" r="2.0"/><circle cx="603.6" cy="563.5" r="2.0"/><circle cx="618.9" cy="520.7" r="2.0"/><circle cx="620.5" cy="560.5" r="2.0"/><circle cx="561" cy="565.8" r="2.0"/><circle cx="511" cy="492.8" r="2.0"/><circle cx="647.2" cy="548.1" r="2.0"/><circle cx="629" cy="544.1" r="2.0"/><circle cx="554.4" cy="573" r="2.0"/><circle cx="573.2" cy="558.4" r="2.0"/><circle cx="540.6" cy="537" r="2.0"/><circle cx="569.5" cy="575.5" r="2.0"/><circle cx="620.6" cy="537.6" r="2.0"/><circle cx="599.2" cy="550.2" r="2.0"/><circle cx="520.1" cy="567.7" r="2.0"/><circle cx="547.6" cy="553.5" r="2.0"/><circle cx="621.3" cy="554.5" r="2.0"/><circle cx="620.5" cy="544.7" r="2.0"/><circle cx="621.3" cy="574.4" r="2.0"/><circle cx="615" cy="558.9" r="2.0"/><circle cx="621.2" cy="559" r="2.0"/><circle cx="599.3" cy="548.4" r="2.0"/><circle cx="556.1" cy="568.3" r="2.0"/><circle cx="644.5" cy="556.2" r="2.0"/><circle cx="546" cy="575.1" r="2.0"/><circle cx="517" cy="562.2" r="2.0"/><circle cx="628.7" cy="542.8" r="2.0"/><circle cx="618.7" cy="566.7" r="2.0"/><circle cx="614.9" cy="571.9" r="2.0"/><circle cx="619.1" cy="566.3" r="2.0"/><circle cx="557.8" cy="562.5" r="2.0"/><circle cx="626.3" cy="518.6" r="2.0"/><circle cx="647.1" cy="554.4" r="2.0"/><circle cx="569.5" cy="538.8" r="2.0"/><circle cx="516.7" cy="579" r="2.0"/><circle cx="525.2" cy="568.6" r="2.0"/><circle cx="658.6" cy="556.1" r="2.0"/><circle cx="582.8" cy="567.2" r="2.0"/><circle cx="530.4" cy="557.5" r="2.0"/><circle cx="512.8" cy="549.9" r="2.0"/><circle cx="639.6" cy="566.2" r="2.0"/><circle cx="530.4" cy="558.2" r="2.0"/><circle cx="519.9" cy="569.7" r="2.0"/><circle cx="629.7" cy="521.9" r="2.0"/><circle cx="626" cy="515.8" r="2.0"/><circle cx="530.6" cy="562.6" r="2.0"/><circle cx="633.7" cy="554.4" r="2.0"/><circle cx="537.5" cy="568.2" r="2.0"/><circle cx="588" cy="560.8" r="2.0"/><circle cx="624.2" cy="544.4" r="2.0"/><circle cx="530.5" cy="558.3" r="2.0"/><circle cx="595" cy="564.8" r="2.0"/><circle cx="634.8" cy="539.3" r="2.0"/><circle cx="631.7" cy="561.1" r="2.0"/><circle cx="615.7" cy="557.6" r="2.0"/><circle cx="641.7" cy="556.4" r="2.0"/><circle cx="535.5" cy="566.5" r="2.0"/><circle cx="603.7" cy="561.9" r="2.0"/><circle cx="562.8" cy="564.4" r="2.0"/><circle cx="539.1" cy="578.2" r="2.0"/><circle cx="564.1" cy="560.9" r="2.0"/><circle cx="515.3" cy="559.2" r="2.0"/><circle cx="622.2" cy="568.4" r="2.0"/><circle cx="632.9" cy="550.9" r="2.0"/><circle cx="567.6" cy="565.2" r="2.0"/><circle cx="579.9" cy="566.1" r="2.0"/><circle cx="541.7" cy="542.1" r="2.0"/><circle cx="624" cy="525.5" r="2.0"/><circle cx="538.9" cy="572.4" r="2.0"/><circle cx="560.8" cy="567.5" r="2.0"/><circle cx="608.6" cy="564.4" r="2.0"/><circle cx="525.2" cy="550.3" r="2.0"/><circle cx="623.9" cy="533.1" r="2.0"/><circle cx="610.1" cy="571.5" r="2.0"/><circle cx="562.6" cy="561.2" r="2.0"/><circle cx="622.5" cy="553.1" r="2.0"/><circle cx="520.1" cy="570.6" r="2.0"/><circle cx="615.1" cy="571.2" r="2.0"/><circle cx="577.9" cy="567" r="2.0"/><circle cx="530.4" cy="576.8" r="2.0"/><circle cx="624" cy="568.6" r="2.0"/><circle cx="588.4" cy="558.1" r="2.0"/><circle cx="569.6" cy="546.5" r="2.0"/><circle cx="613.8" cy="579.5" r="2.0"/><circle cx="642.3" cy="556.4" r="2.0"/><circle cx="645.2" cy="564.1" r="2.0"/><circle cx="523.8" cy="566" r="2.0"/><circle cx="554" cy="568.7" r="2.0"/><circle cx="641.7" cy="560.7" r="2.0"/><circle cx="611.5" cy="572.8" r="2.0"/><circle cx="565.5" cy="545.7" r="2.0"/><circle cx="583.1" cy="570.4" r="2.0"/><circle cx="547.3" cy="576.3" r="2.0"/><circle cx="593" cy="559.8" r="2.0"/><circle cx="559.4" cy="570.6" r="2.0"/><circle cx="618.7" cy="528.4" r="2.0"/><circle cx="559.2" cy="552.4" r="2.0"/><circle cx="547.5" cy="549" r="2.0"/><circle cx="518.4" cy="571.4" r="2.0"/><circle cx="571.3" cy="569.1" r="2.0"/><circle cx="618.9" cy="549.1" r="2.0"/><circle cx="620.8" cy="547.9" r="2.0"/><circle cx="539.1" cy="563.6" r="2.0"/><circle cx="588.2" cy="565.9" r="2.0"/><circle cx="520.1" cy="562.5" r="2.0"/><circle cx="534" cy="583" r="2.0"/><circle cx="547.9" cy="548" r="2.0"/><circle cx="523.5" cy="585.8" r="2.0"/><circle cx="574.3" cy="567.6" r="2.0"/><circle cx="612.1" cy="570" r="2.0"/><circle cx="641.7" cy="553.6" r="2.0"/><circle cx="544.2" cy="564.5" r="2.0"/><circle cx="518.8" cy="563.4" r="2.0"/><circle cx="607.1" cy="570.1" r="2.0"/><circle cx="540.7" cy="577.3" r="2.0"/><circle cx="588" cy="560.8" r="2.0"/><circle cx="652" cy="555.5" r="2.0"/><circle cx="549" cy="568.9" r="2.0"/><circle cx="621.5" cy="559.8" r="2.0"/><circle cx="537.1" cy="572.2" r="2.0"/><circle cx="593.3" cy="570.9" r="2.0"/><circle cx="564.6" cy="562.5" r="2.0"/><circle cx="578" cy="568.8" r="2.0"/><circle cx="647.4" cy="553.4" r="2.0"/><circle cx="518.3" cy="561.8" r="2.0"/><circle cx="617.4" cy="554.6" r="2.0"/><circle cx="596.5" cy="552.3" r="2.0"/><circle cx="507.9" cy="551.8" r="2.0"/><circle cx="598.3" cy="566" r="2.0"/><circle cx="531.9" cy="557.8" r="2.0"/><circle cx="520.5" cy="534.9" r="2.0"/><circle cx="610" cy="557.6" r="2.0"/><circle cx="532.1" cy="566" r="2.0"/><circle cx="549" cy="563.5" r="2.0"/><circle cx="568.3" cy="542.5" r="2.0"/><circle cx="544.3" cy="555.9" r="2.0"/><circle cx="569.6" cy="568.1" r="2.0"/><circle cx="548.9" cy="579.1" r="2.0"/><circle cx="635.2" cy="540.5" r="2.0"/><circle cx="619.3" cy="534.8" r="2.0"/><circle cx="552.7" cy="535.6" r="2.0"/><circle cx="633.8" cy="566.2" r="2.0"/><circle cx="602" cy="570.2" r="2.0"/><circle cx="511" cy="498.3" r="2.0"/><circle cx="552.5" cy="567.4" r="2.0"/><circle cx="606.7" cy="563.1" r="2.0"/><circle cx="601.8" cy="554.9" r="2.0"/><circle cx="544" cy="551.8" r="2.0"/><circle cx="564.2" cy="564.2" r="2.0"/><circle cx="533.7" cy="567.7" r="2.0"/><circle cx="552.5" cy="577.9" r="2.0"/><circle cx="545.9" cy="564.4" r="2.0"/><circle cx="614.6" cy="562.4" r="2.0"/><circle cx="516.7" cy="565.6" r="2.0"/><circle cx="509.9" cy="548.2" r="2.0"/><circle cx="532.3" cy="569.4" r="2.0"/><circle cx="588.2" cy="545.4" r="2.0"/><circle cx="578.3" cy="565.9" r="2.0"/><circle cx="610.4" cy="546.4" r="2.0"/><circle cx="528.7" cy="565.1" r="2.0"/><circle cx="572.8" cy="566.8" r="2.0"/><circle cx="601.9" cy="558.9" r="2.0"/><circle cx="603.3" cy="570.4" r="2.0"/><circle cx="545.6" cy="559.6" r="2.0"/><circle cx="550.7" cy="562.8" r="2.0"/><circle cx="612.2" cy="570" r="2.0"/><circle cx="559.3" cy="553.3" r="2.0"/><circle cx="569.4" cy="578.4" r="2.0"/><circle cx="611.8" cy="534.9" r="2.0"/><circle cx="594.7" cy="557.5" r="2.0"/><circle cx="629.4" cy="555" r="2.0"/><circle cx="572.9" cy="560.2" r="2.0"/><circle cx="555.7" cy="571.3" r="2.0"/><circle cx="617.3" cy="556.4" r="2.0"/><circle cx="570.9" cy="569.7" r="2.0"/><circle cx="570.3" cy="543.9" r="2.0"/><circle cx="518.6" cy="570.4" r="2.0"/><circle cx="634.3" cy="554.8" r="2.0"/><circle cx="579.5" cy="570.6" r="2.0"/><circle cx="590.1" cy="565.5" r="2.0"/><circle cx="567.9" cy="568.1" r="2.0"/><circle cx="613.5" cy="556.8" r="2.0"/><circle cx="544.2" cy="554.3" r="2.0"/><circle cx="605.1" cy="561.5" r="2.0"/><circle cx="617.3" cy="550.7" r="2.0"/><circle cx="547.6" cy="567.6" r="2.0"/><circle cx="629.3" cy="536.8" r="2.0"/><circle cx="621.1" cy="577.7" r="2.0"/><circle cx="523.8" cy="572.9" r="2.0"/><circle cx="515.3" cy="586.5" r="2.0"/><circle cx="615.2" cy="552.5" r="2.0"/><circle cx="522.2" cy="571.5" r="2.0"/><circle cx="641.9" cy="556.8" r="2.0"/><circle cx="605" cy="562.4" r="2.0"/><circle cx="537.3" cy="568.4" r="2.0"/><circle cx="624.6" cy="564.2" r="2.0"/><circle cx="518.9" cy="541.8" r="2.0"/><circle cx="617.1" cy="559.5" r="2.0"/><circle cx="538.9" cy="570.9" r="2.0"/><circle cx="629.2" cy="556.3" r="2.0"/><circle cx="621.5" cy="549.5" r="2.0"/><circle cx="615" cy="552.2" r="2.0"/><circle cx="522.1" cy="576.2" r="2.0"/><circle cx="557.6" cy="568.7" r="2.0"/><circle cx="605.3" cy="562.8" r="2.0"/><circle cx="542.3" cy="568.1" r="2.0"/><circle cx="629.4" cy="536.3" r="2.0"/><circle cx="574.9" cy="570" r="2.0"/><circle cx="631.8" cy="560.4" r="2.0"/><circle cx="644.7" cy="550.6" r="2.0"/><circle cx="564.1" cy="564.5" r="2.0"/><circle cx="572.6" cy="536.9" r="2.0"/><circle cx="629" cy="525.4" r="2.0"/><circle cx="597" cy="573" r="2.0"/><circle cx="622.4" cy="553" r="2.0"/><circle cx="549.3" cy="559.9" r="2.0"/><circle cx="576.1" cy="568.5" r="2.0"/><circle cx="561.1" cy="567" r="2.0"/><circle cx="599.9" cy="557.3" r="2.0"/><circle cx="553" cy="542.2" r="2.0"/><circle cx="521.8" cy="571.1" r="2.0"/><circle cx="631.8" cy="558.5" r="2.0"/><circle cx="647.6" cy="560.8" r="2.0"/><circle cx="581.5" cy="569.7" r="2.0"/><circle cx="576.4" cy="558.7" r="2.0"/><circle cx="621.2" cy="548.4" r="2.0"/><circle cx="532.2" cy="564.7" r="2.0"/><circle cx="647.6" cy="551.6" r="2.0"/><circle cx="530.3" cy="571.2" r="2.0"/><circle cx="608.7" cy="574" r="2.0"/><circle cx="523.4" cy="578.5" r="2.0"/><circle cx="537.5" cy="559.9" r="2.0"/><circle cx="622.1" cy="569.2" r="2.0"/><circle cx="598.8" cy="522" r="2.0"/><circle cx="579.8" cy="566.3" r="2.0"/><circle cx="600" cy="575.8" r="2.0"/><circle cx="518.6" cy="562.2" r="2.0"/><circle cx="521.6" cy="563.2" r="2.0"/><circle cx="556" cy="554.8" r="2.0"/><circle cx="559" cy="572.5" r="2.0"/><circle cx="554.1" cy="563.2" r="2.0"/><circle cx="586.3" cy="573" r="2.0"/><circle cx="525.4" cy="560.9" r="2.0"/><circle cx="553.9" cy="560.2" r="2.0"/><circle cx="520.5" cy="571.6" r="2.0"/><circle cx="574.4" cy="567.7" r="2.0"/><circle cx="523.8" cy="570.4" r="2.0"/><circle cx="584.9" cy="569.7" r="2.0"/><circle cx="521.9" cy="571.5" r="2.0"/><circle cx="554.3" cy="564.8" r="2.0"/><circle cx="586.3" cy="565.5" r="2.0"/><circle cx="562.7" cy="569.3" r="2.0"/><circle cx="647.5" cy="559.8" r="2.0"/><circle cx="632.8" cy="552" r="2.0"/><circle cx="586.5" cy="566.7" r="2.0"/><circle cx="603.7" cy="568.8" r="2.0"/><circle cx="574.7" cy="558.4" r="2.0"/><circle cx="550.6" cy="573.9" r="2.0"/><circle cx="611.7" cy="559.5" r="2.0"/><circle cx="586.3" cy="566.8" r="2.0"/><circle cx="530.5" cy="571.1" r="2.0"/><circle cx="535.4" cy="575.7" r="2.0"/><circle cx="617.3" cy="565.3" r="2.0"/><circle cx="608.8" cy="553.3" r="2.0"/><circle cx="539.1" cy="572.5" r="2.0"/><circle cx="514.9" cy="561.2" r="2.0"/><circle cx="635.9" cy="557.5" r="2.0"/><circle cx="618.8" cy="561.2" r="2.0"/><circle cx="603.8" cy="560.5" r="2.0"/><circle cx="612.1" cy="567.2" r="2.0"/><circle cx="609.8" cy="550.1" r="2.0"/><circle cx="549.3" cy="576.9" r="2.0"/><circle cx="518.6" cy="540.5" r="2.0"/><circle cx="539.1" cy="569.3" r="2.0"/><circle cx="622.3" cy="574.2" r="2.0"/><circle cx="636.4" cy="560.5" r="2.0"/><circle cx="623.6" cy="564.5" r="2.0"/><circle cx="561.1" cy="555.9" r="2.0"/><circle cx="615.4" cy="560.9" r="2.0"/><circle cx="567.9" cy="562.9" r="2.0"/><circle cx="572.1" cy="539.2" r="2.0"/><circle cx="585.1" cy="562.7" r="2.0"/><circle cx="569.2" cy="568.4" r="2.0"/><circle cx="634.8" cy="543.2" r="2.0"/><circle cx="569.4" cy="573.4" r="2.0"/><circle cx="574.5" cy="571.6" r="2.0"/><circle cx="613.7" cy="562.9" r="2.0"/><circle cx="518.6" cy="558" r="2.0"/><circle cx="505.7" cy="548.9" r="2.0"/><circle cx="537.2" cy="566.9" r="2.0"/><circle cx="533.8" cy="560.8" r="2.0"/><circle cx="626.4" cy="545.2" r="2.0"/><circle cx="567.6" cy="576.8" r="2.0"/><circle cx="613.9" cy="565.8" r="2.0"/><circle cx="578" cy="570.6" r="2.0"/><circle cx="612.3" cy="561" r="2.0"/><circle cx="593.2" cy="556.9" r="2.0"/><circle cx="605.2" cy="567.5" r="2.0"/><circle cx="619" cy="557.4" r="2.0"/><circle cx="537.4" cy="562.1" r="2.0"/><circle cx="616.9" cy="568.4" r="2.0"/><circle cx="572.6" cy="539.7" r="2.0"/><circle cx="611.9" cy="576.5" r="2.0"/><circle cx="623.7" cy="562" r="2.0"/><circle cx="606.7" cy="550.3" r="2.0"/><circle cx="560.7" cy="547.7" r="2.0"/><circle cx="606.6" cy="563.2" r="2.0"/><circle cx="552.6" cy="566.5" r="2.0"/><circle cx="622" cy="543" r="2.0"/><circle cx="621" cy="563.9" r="2.0"/><circle cx="586.6" cy="560.2" r="2.0"/><circle cx="623.1" cy="553.5" r="2.0"/><circle cx="588.1" cy="562.2" r="2.0"/><circle cx="535.7" cy="563.1" r="2.0"/><circle cx="528.7" cy="580.9" r="2.0"/><circle cx="573.2" cy="559.1" r="2.0"/><circle cx="583.2" cy="554.6" r="2.0"/><circle cx="521.8" cy="559.9" r="2.0"/><circle cx="522.1" cy="567.5" r="2.0"/><circle cx="578.3" cy="560.5" r="2.0"/><circle cx="599.9" cy="565" r="2.0"/><circle cx="591.6" cy="571.2" r="2.0"/><circle cx="586.2" cy="565.5" r="2.0"/><circle cx="574.4" cy="578.6" r="2.0"/><circle cx="617.5" cy="564.5" r="2.0"/><circle cx="542.4" cy="570.6" r="2.0"/><circle cx="586.7" cy="545.4" r="2.0"/><circle cx="581.2" cy="567.6" r="2.0"/><circle cx="627.5" cy="559.1" r="2.0"/><circle cx="532" cy="577.4" r="2.0"/><circle cx="530.2" cy="575.4" r="2.0"/><circle cx="518.3" cy="575.1" r="2.0"/><circle cx="507.4" cy="555.7" r="2.0"/><circle cx="603.2" cy="563.8" r="2.0"/><circle cx="561.2" cy="571.6" r="2.0"/><circle cx="586.4" cy="570.9" r="2.0"/><circle cx="557.6" cy="568.8" r="2.0"/><circle cx="591.9" cy="577.6" r="2.0"/><circle cx="561" cy="568.2" r="2.0"/><circle cx="557.8" cy="562.4" r="2.0"/><circle cx="572.3" cy="524.9" r="2.0"/><circle cx="593" cy="574.4" r="2.0"/><circle cx="555.7" cy="570.3" r="2.0"/><circle cx="593.4" cy="545.4" r="2.0"/><circle cx="621.4" cy="571.7" r="2.0"/><circle cx="624" cy="547.1" r="2.0"/><circle cx="562.5" cy="536.7" r="2.0"/><circle cx="505.5" cy="552.7" r="2.0"/><circle cx="567.7" cy="541.4" r="2.0"/><circle cx="632.9" cy="548.3" r="2.0"/><circle cx="578.1" cy="566.1" r="2.0"/><circle cx="543.8" cy="568.8" r="2.0"/><circle cx="617.2" cy="555.7" r="2.0"/><circle cx="563" cy="545.8" r="2.0"/><circle cx="626.5" cy="516.4" r="2.0"/><circle cx="554.5" cy="583.3" r="2.0"/><circle cx="631.8" cy="554.9" r="2.0"/><circle cx="520.1" cy="534" r="2.0"/><circle cx="571" cy="561.6" r="2.0"/><circle cx="584.5" cy="573.5" r="2.0"/><circle cx="609.9" cy="571.2" r="2.0"/><circle cx="629.6" cy="554.5" r="2.0"/><circle cx="511" cy="495.5" r="2.0"/><circle cx="632.2" cy="529.1" r="2.0"/><circle cx="527" cy="565.5" r="2.0"/><circle cx="597" cy="555.9" r="2.0"/><circle cx="567.9" cy="569.8" r="2.0"/><circle cx="521.8" cy="554.4" r="2.0"/><circle cx="505.5" cy="553.2" r="2.0"/><circle cx="632.8" cy="545.4" r="2.0"/><circle cx="531.9" cy="566.9" r="2.0"/><circle cx="571.3" cy="566.7" r="2.0"/><circle cx="618.7" cy="574.1" r="2.0"/><circle cx="572.8" cy="566.4" r="2.0"/><circle cx="566.1" cy="578.9" r="2.0"/><circle cx="542.5" cy="563.7" r="2.0"/><circle cx="614.9" cy="571.5" r="2.0"/><circle cx="532.2" cy="567.4" r="2.0"/><circle cx="562.7" cy="577.2" r="2.0"/><circle cx="600.3" cy="570.3" r="2.0"/><circle cx="571" cy="555.6" r="2.0"/><circle cx="571.3" cy="564.9" r="2.0"/><circle cx="555.8" cy="575.6" r="2.0"/><circle cx="555.7" cy="556.4" r="2.0"/><circle cx="540.4" cy="571.9" r="2.0"/><circle cx="598.3" cy="576.6" r="2.0"/><circle cx="540.3" cy="556.4" r="2.0"/><circle cx="523.6" cy="572.3" r="2.0"/><circle cx="568.1" cy="552.8" r="2.0"/><circle cx="520.2" cy="566.6" r="2.0"/><circle cx="641.8" cy="552.8" r="2.0"/><circle cx="611.5" cy="560" r="2.0"/><circle cx="631.9" cy="544.4" r="2.0"/><circle cx="565.9" cy="536.7" r="2.0"/><circle cx="557.4" cy="567.3" r="2.0"/><circle cx="567.9" cy="544.6" r="2.0"/><circle cx="598.6" cy="554.1" r="2.0"/><circle cx="610.1" cy="559.7" r="2.0"/><circle cx="620.6" cy="568.5" r="2.0"/><circle cx="555.6" cy="559.6" r="2.0"/><circle cx="624" cy="520.6" r="2.0"/><circle cx="552.7" cy="568.2" r="2.0"/><circle cx="630.3" cy="574.3" r="2.0"/><circle cx="621.6" cy="568.3" r="2.0"/><circle cx="631.4" cy="540.1" r="2.0"/><circle cx="539" cy="559.4" r="2.0"/><circle cx="603.6" cy="563.4" r="2.0"/><circle cx="623.9" cy="570.4" r="2.0"/><circle cx="569.6" cy="561.9" r="2.0"/><circle cx="617.3" cy="554" r="2.0"/><circle cx="516.6" cy="566.4" r="2.0"/><circle cx="552.3" cy="567.5" r="2.0"/><circle cx="606.6" cy="559" r="2.0"/><circle cx="611.8" cy="544" r="2.0"/><circle cx="629.8" cy="565.1" r="2.0"/><circle cx="610.3" cy="563.6" r="2.0"/><circle cx="560.9" cy="567" r="2.0"/><circle cx="645.1" cy="562.2" r="2.0"/><circle cx="574.6" cy="565" r="2.0"/><circle cx="581.7" cy="569.7" r="2.0"/><circle cx="630" cy="571.5" r="2.0"/><circle cx="528.7" cy="578.5" r="2.0"/><circle cx="614.6" cy="570.6" r="2.0"/><circle cx="547.2" cy="567.5" r="2.0"/><circle cx="618.9" cy="576.6" r="2.0"/><circle cx="537.5" cy="566.3" r="2.0"/><circle cx="565.8" cy="562.1" r="2.0"/><circle cx="615.3" cy="567.7" r="2.0"/><circle cx="595" cy="550.7" r="2.0"/><circle cx="617.2" cy="560.4" r="2.0"/><circle cx="559.5" cy="572.9" r="2.0"/><circle cx="619.3" cy="542" r="2.0"/><circle cx="598.2" cy="571.7" r="2.0"/><circle cx="557.6" cy="565.6" r="2.0"/><circle cx="576.4" cy="536.2" r="2.0"/><circle cx="550.7" cy="571.9" r="2.0"/><circle cx="599.9" cy="570.6" r="2.0"/><circle cx="556.1" cy="567.3" r="2.0"/><circle cx="518.6" cy="541.9" r="2.0"/><circle cx="572.7" cy="560.1" r="2.0"/><circle cx="572.7" cy="528.1" r="2.0"/><circle cx="603.6" cy="568.3" r="2.0"/><circle cx="645" cy="556.1" r="2.0"/><circle cx="569.2" cy="579" r="2.0"/><circle cx="595.2" cy="557.8" r="2.0"/><circle cx="576.4" cy="569.5" r="2.0"/><circle cx="608.5" cy="562.4" r="2.0"/><circle cx="569.3" cy="570.7" r="2.0"/><circle cx="614.9" cy="560.9" r="2.0"/><circle cx="610.2" cy="554.3" r="2.0"/><circle cx="534.1" cy="560.5" r="2.0"/><circle cx="647.5" cy="537.1" r="2.0"/><circle cx="557.5" cy="566.4" r="2.0"/><circle cx="517" cy="566.3" r="2.0"/><circle cx="533.5" cy="577.2" r="2.0"/><circle cx="550.8" cy="573.2" r="2.0"/><circle cx="643.2" cy="557" r="2.0"/><circle cx="520.1" cy="562.9" r="2.0"/><circle cx="600.2" cy="554.7" r="2.0"/><circle cx="645.2" cy="552.5" r="2.0"/><circle cx="613.4" cy="561.2" r="2.0"/><circle cx="610.3" cy="562.6" r="2.0"/><circle cx="572.9" cy="563.9" r="2.0"/><circle cx="540.6" cy="564.8" r="2.0"/><circle cx="557.5" cy="569.7" r="2.0"/><circle cx="556" cy="575.1" r="2.0"/><circle cx="562.8" cy="541" r="2.0"/><circle cx="554.2" cy="571.2" r="2.0"/><circle cx="605.1" cy="565.3" r="2.0"/><circle cx="560.8" cy="570.5" r="2.0"/><circle cx="512.3" cy="548.4" r="2.0"/><circle cx="518.3" cy="546.9" r="2.0"/><circle cx="621.3" cy="565.7" r="2.0"/><circle cx="618.5" cy="565.1" r="2.0"/><circle cx="577.8" cy="576.5" r="2.0"/><circle cx="624.2" cy="544.2" r="2.0"/><circle cx="610.4" cy="563" r="2.0"/><circle cx="627.4" cy="553.9" r="2.0"/><circle cx="528.9" cy="554.7" r="2.0"/><circle cx="542.3" cy="564.5" r="2.0"/><circle cx="565.8" cy="541.8" r="2.0"/><circle cx="614.9" cy="568.2" r="2.0"/><circle cx="528.4" cy="574.4" r="2.0"/><circle cx="547.7" cy="556.5" r="2.0"/><circle cx="622.8" cy="562.1" r="2.0"/><circle cx="617.5" cy="553.1" r="2.0"/><circle cx="651.9" cy="553.2" r="2.0"/><circle cx="607.1" cy="565.4" r="2.0"/><circle cx="632.9" cy="550.9" r="2.0"/><circle cx="607.1" cy="561.9" r="2.0"/><circle cx="547.7" cy="566.4" r="2.0"/><circle cx="621.3" cy="533.4" r="2.0"/><circle cx="549" cy="561" r="2.0"/><circle cx="595.3" cy="572.9" r="2.0"/><circle cx="634.6" cy="547.8" r="2.0"/><circle cx="598.1" cy="566.7" r="2.0"/><circle cx="579.7" cy="581.2" r="2.0"/><circle cx="621" cy="549.7" r="2.0"/><circle cx="539" cy="569" r="2.0"/><circle cx="518.5" cy="579.6" r="2.0"/><circle cx="619.6" cy="570.6" r="2.0"/><circle cx="643.8" cy="554.8" r="2.0"/><circle cx="567.9" cy="539.7" r="2.0"/><circle cx="564.2" cy="569.1" r="2.0"/><circle cx="550.7" cy="567.7" r="2.0"/><circle cx="516.5" cy="572.1" r="2.0"/><circle cx="639.3" cy="549.9" r="2.0"/><circle cx="578" cy="560.1" r="2.0"/><circle cx="554.4" cy="570.6" r="2.0"/><circle cx="543.8" cy="566.5" r="2.0"/><circle cx="538.7" cy="568" r="2.0"/><circle cx="518.7" cy="571" r="2.0"/><circle cx="624.2" cy="564.5" r="2.0"/><circle cx="647" cy="563.3" r="2.0"/><circle cx="572.6" cy="519.1" r="2.0"/><circle cx="633.3" cy="549.4" r="2.0"/><circle cx="621.5" cy="548.8" r="2.0"/><circle cx="576" cy="567.8" r="2.0"/><circle cx="532" cy="562.4" r="2.0"/><circle cx="515" cy="562.5" r="2.0"/><circle cx="617.1" cy="566.9" r="2.0"/><circle cx="521.7" cy="567.2" r="2.0"/><circle cx="554.3" cy="563.3" r="2.0"/><circle cx="587.9" cy="567.3" r="2.0"/><circle cx="622.6" cy="561.3" r="2.0"/><circle cx="515.3" cy="585.9" r="2.0"/><circle cx="531.9" cy="560.3" r="2.0"/><circle cx="578.2" cy="544.1" r="2.0"/><circle cx="537" cy="552.5" r="2.0"/><circle cx="623.9" cy="556.5" r="2.0"/><circle cx="523.6" cy="569.1" r="2.0"/><circle cx="631.7" cy="527.7" r="2.0"/><circle cx="528.6" cy="558.7" r="2.0"/><circle cx="565.9" cy="570.7" r="2.0"/><circle cx="554" cy="548.7" r="2.0"/><circle cx="619.2" cy="555.8" r="2.0"/><circle cx="574.8" cy="560.6" r="2.0"/><circle cx="532.3" cy="569.1" r="2.0"/><circle cx="530.3" cy="567.3" r="2.0"/><circle cx="527.3" cy="556.8" r="2.0"/><circle cx="525.6" cy="559.7" r="2.0"/><circle cx="632.2" cy="561.9" r="2.0"/><circle cx="562.4" cy="568" r="2.0"/><circle cx="522.2" cy="564.3" r="2.0"/><circle cx="557.7" cy="576.1" r="2.0"/><circle cx="588.4" cy="553.1" r="2.0"/><circle cx="566.2" cy="560.5" r="2.0"/><circle cx="618.9" cy="522.1" r="2.0"/><circle cx="536.9" cy="576.2" r="2.0"/><circle cx="626.2" cy="537.2" r="2.0"/><circle cx="593.5" cy="570.7" r="2.0"/><circle cx="540.4" cy="565.3" r="2.0"/><circle cx="574.6" cy="564.1" r="2.0"/><circle cx="610.6" cy="574.2" r="2.0"/><circle cx="555.7" cy="559.1" r="2.0"/><circle cx="600" cy="555.3" r="2.0"/><circle cx="598.2" cy="542" r="2.0"/><circle cx="566.2" cy="559" r="2.0"/><circle cx="642" cy="558.3" r="2.0"/><circle cx="589.8" cy="576.8" r="2.0"/><circle cx="605.5" cy="548.4" r="2.0"/><circle cx="631" cy="542.9" r="2.0"/><circle cx="635.3" cy="544.7" r="2.0"/><circle cx="593.2" cy="554" r="2.0"/><circle cx="561.2" cy="567.7" r="2.0"/><circle cx="610.3" cy="562.6" r="2.0"/><circle cx="584.7" cy="573.8" r="2.0"/><circle cx="595.2" cy="560.7" r="2.0"/><circle cx="613.9" cy="562.3" r="2.0"/><circle cx="557.9" cy="560.7" r="2.0"/><circle cx="515.1" cy="565.2" r="2.0"/><circle cx="635.8" cy="553" r="2.0"/><circle cx="555.6" cy="572.8" r="2.0"/><circle cx="554.4" cy="576.5" r="2.0"/><circle cx="564.5" cy="555.4" r="2.0"/><circle cx="566.3" cy="562.6" r="2.0"/><circle cx="562.4" cy="538.8" r="2.0"/><circle cx="559.3" cy="561.1" r="2.0"/><circle cx="594.8" cy="560.9" r="2.0"/><circle cx="550.9" cy="548.8" r="2.0"/><circle cx="605.1" cy="561.6" r="2.0"/><circle cx="585" cy="562.8" r="2.0"/><circle cx="641.8" cy="553.9" r="2.0"/><circle cx="620.8" cy="549.1" r="2.0"/></g>
<path d="M44.4 11.4V178.4H214.4" fill="none" stroke="#000" stroke-width="1.4"/>
<path d="M44.40 178.40v3.6M78.40 178.40v3.6M112.40 178.40v3.6M146.40 178.40v3.6M180.40 178.40v3.6M214.40 178.40v3.6M44.40 178.40h-4.0M44.40 145.00h-4.0M44.40 111.60h-4.0M44.40 78.20h-4.0M44.40 44.80h-4.0M44.40 11.40h-4.0" stroke="#000" stroke-width="1.4"/>
<text x="44.4" y="197.9" font-size="13" text-anchor="middle">4</text>
<text x="78.4" y="197.9" font-size="13" text-anchor="middle">5</text>
<text x="112.4" y="197.9" font-size="13" text-anchor="middle">6</text>
<text x="146.4" y="197.9" font-size="13" text-anchor="middle">7</text>
<text x="180.4" y="197.9" font-size="13" text-anchor="middle">8</text>
<text x="214.4" y="197.9" font-size="13" text-anchor="middle">9</text>
<text x="33.4" y="183.0" font-size="13" text-anchor="end">-4</text>
<text x="33.4" y="149.6" font-size="13" text-anchor="end">-2</text>
<text x="33.4" y="116.2" font-size="13" text-anchor="end">0</text>
<text x="33.4" y="82.8" font-size="13" text-anchor="end">2</text>
<text x="33.4" y="49.4" font-size="13" text-anchor="end">4</text>
<text x="33.4" y="16.0" font-size="13" text-anchor="end">6</text>
<text x="129.4" y="215.6" font-size="13" text-anchor="middle">soil pH</text>
<text transform="translate(16.8 94.9) rotate(-90)" font-size="13" text-anchor="middle">influence on EF (%)</text>
<text x="0.5" y="16.6" font-size="14" font-weight="bold">a</text>
<path d="M274.4 11.4V178.6H444.4" fill="none" stroke="#000" stroke-width="1.4"/>
<path d="M274.40 178.60v3.6M308.40 178.60v3.6M342.40 178.60v3.6M376.40 178.60v3.6M410.40 178.60v3.6M444.40 178.60v3.6M274.40 178.60h-4.0M274.40 145.16h-4.0M274.40 111.72h-4.0M274.40 78.28h-4.0M274.40 44.84h-4.0M274.40 11.40h-4.0" stroke="#000" stroke-width="1.4"/>
<text x="274.4" y="198.1" font-size="13" text-anchor="middle">4</text>
<text x="308.4" y="198.1" font-size="13" text-anchor="middle">5</text>
<text x="342.4" y="198.1" font-size="13" text-anchor="middle">6</text>
<text x="376.4" y="198.1" font-size="13" text-anchor="middle">7</text>
<text x="410.4" y="198.1" font-size="13" text-anchor="middle">8</text>
<text x="444.4" y="198.1" font-size="13" text-anchor="middle">9</text>
<text x="263.4" y="183.2" font-size="13" text-anchor="end">-4</text>
<text x="263.4" y="149.8" font-size="13" text-anchor="end">-2</text>
<text x="263.4" y="116.3" font-size="13" text-anchor="end">0</text>
<text x="263.4" y="82.9" font-size="13" text-anchor="end">2</text>
<text x="263.4" y="49.4" font-size="13" text-anchor="end">4</text>
<text x="263.4" y="16.0" font-size="13" text-anchor="end">6</text>
<text x="359.4" y="215.8" font-size="13" text-anchor="middle">soil pH</text>
<text transform="translate(246.0 94.6) rotate(-90)" font-size="13" text-anchor="middle">influence on EF (%)</text>
<text x="227.6" y="16.6" font-size="14" font-weight="bold">b</text>
<path d="M501.6 11.4V178.6H671.6" fill="none" stroke="#000" stroke-width="1.4"/>
<path d="M501.60 178.60v3.6M535.60 178.60v3.6M569.60 178.60v3.6M603.60 178.60v3.6M637.60 178.60v3.6M671.60 178.60v3.6M501.60 178.60h-4.0M501.60 145.16h-4.0M501.60 111.72h-4.0M501.60 78.28h-4.0M501.60 44.84h-4.0M501.60 11.40h-4.0" stroke="#000" stroke-width="1.4"/>
<text x="501.6" y="198.1" font-size="13" text-anchor="middle">4</text>
<text x="535.6" y="198.1" font-size="13" text-anchor="middle">5</text>
<text x="569.6" y="198.1" font-size="13" text-anchor="middle">6</text>
<text x="603.6" y="198.1" font-size="13" text-anchor="middle">7</text>
<text x="637.6" y="198.1" font-size="13" text-anchor="middle">8</text>
<text x="671.6" y="198.1" font-size="13" text-anchor="middle">9</text>
<text x="490.6" y="183.2" font-size="13" text-anchor="end">-4</text>
<text x="490.6" y="149.8" font-size="13" text-anchor="end">-2</text>
<text x="490.6" y="116.3" font-size="13" text-anchor="end">0</text>
<text x="490.6" y="82.9" font-size="13" text-anchor="end">2</text>
<text x="490.6" y="49.4" font-size="13" text-anchor="end">4</text>
<text x="490.6" y="16.0" font-size="13" text-anchor="end">6</text>
<text x="586.6" y="215.8" font-size="13" text-anchor="middle">soil pH</text>
<text transform="translate(473.4 94.6) rotate(-90)" font-size="13" text-anchor="middle">influence on EF (%)</text>
<text x="454.6" y="16.6" font-size="14" font-weight="bold">c</text>
<path d="M45.6 223.4V390.6H213.6" fill="none" stroke="#000" stroke-width="1.4"/>
<path d="M45.60 390.60v3.6M101.60 390.60v3.6M157.60 390.60v3.6M213.60 390.60v3.6M45.60 390.60h-4.0M45.60 334.87h-4.0M45.60 279.13h-4.0M45.60 223.40h-4.0" stroke="#000" stroke-width="1.4"/>
<text x="45.6" y="410.1" font-size="13" text-anchor="middle">0</text>
<text x="101.6" y="410.1" font-size="13" text-anchor="middle">4</text>
<text x="157.6" y="410.1" font-size="13" text-anchor="middle">8</text>
<text x="213.6" y="410.1" font-size="13" text-anchor="middle">12</text>
<text x="34.6" y="395.2" font-size="13" text-anchor="end">0</text>
<text x="34.6" y="339.5" font-size="13" text-anchor="end">4</text>
<text x="34.6" y="283.7" font-size="13" text-anchor="end">8</text>
<text x="34.6" y="228.0" font-size="13" text-anchor="end">12</text>
<text x="129.6" y="427.8" font-size="13" text-anchor="middle">importance rank by RF</text>
<text transform="translate(16.2 308.3) rotate(-90)" font-size="13" text-anchor="middle">importance rank by SHAP</text>
<text x="0.5" y="226" font-size="14" font-weight="bold">d</text>
<path d="M279 223.2V388.4H446.6" fill="none" stroke="#000" stroke-width="1.4"/>
<path d="M279.00 388.40v3.6M312.52 388.40v3.6M346.04 388.40v3.6M379.56 388.40v3.6M413.08 388.40v3.6M446.60 388.40v3.6M279.00 388.40h-4.0M279.00 347.10h-4.0M279.00 305.80h-4.0M279.00 264.50h-4.0M279.00 223.20h-4.0" stroke="#000" stroke-width="1.4"/>
<text x="279.0" y="407.9" font-size="13" text-anchor="middle">0</text>
<text x="312.5" y="407.9" font-size="13" text-anchor="middle">7</text>
<text x="346.0" y="407.9" font-size="13" text-anchor="middle">14</text>
<text x="379.6" y="407.9" font-size="13" text-anchor="middle">21</text>
<text x="413.1" y="407.9" font-size="13" text-anchor="middle">28</text>
<text x="446.6" y="407.9" font-size="13" text-anchor="middle">35</text>
<text x="268.0" y="393.0" font-size="13" text-anchor="end">-4</text>
<text x="268.0" y="351.7" font-size="13" text-anchor="end">0</text>
<text x="268.0" y="310.4" font-size="13" text-anchor="end">4</text>
<text x="268.0" y="269.1" font-size="13" text-anchor="end">8</text>
<text x="268.0" y="227.8" font-size="13" text-anchor="end">12</text>
<text x="362.8" y="425.6" font-size="13" text-anchor="middle">temperature (°C)</text>
<text transform="translate(247.5 305.1) rotate(-90)" font-size="13" text-anchor="middle">influence on EF (%)</text>
<text x="227.6" y="226" font-size="14" font-weight="bold">e</text>
<path d="M504.6 223.6V390.6H668.4" fill="none" stroke="#000" stroke-width="1.4"/>
<path d="M504.60 390.60v3.6M537.36 390.60v3.6M570.12 390.60v3.6M602.88 390.60v3.6M635.64 390.60v3.6M668.40 390.60v3.6M504.60 390.60h-4.0M504.60 348.85h-4.0M504.60 307.10h-4.0M504.60 265.35h-4.0M504.60 223.60h-4.0" stroke="#000" stroke-width="1.4"/>
<text x="504.6" y="410.1" font-size="13" text-anchor="middle">0</text>
<text x="537.4" y="410.1" font-size="13" text-anchor="middle">10</text>
<text x="570.1" y="410.1" font-size="13" text-anchor="middle">20</text>
<text x="602.9" y="410.1" font-size="13" text-anchor="middle">30</text>
<text x="635.6" y="410.1" font-size="13" text-anchor="middle">40</text>
<text x="668.4" y="410.1" font-size="13" text-anchor="middle">50</text>
<text x="493.6" y="395.2" font-size="13" text-anchor="end">-4</text>
<text x="493.6" y="353.5" font-size="13" text-anchor="end">0</text>
<text x="493.6" y="311.7" font-size="13" text-anchor="end">4</text>
<text x="493.6" y="270.0" font-size="13" text-anchor="end">8</text>
<text x="493.6" y="228.2" font-size="13" text-anchor="end">12</text>
<text x="586.5" y="427.8" font-size="13" text-anchor="middle">SOC (g kg<tspan dy="-4" font-size="8">-1</tspan><tspan dy="4">)</tspan></text>
<text transform="translate(473.9 306.9) rotate(-90)" font-size="13" text-anchor="middle">influence on EF (%)</text>
<text x="455.2" y="226" font-size="14" font-weight="bold">f</text>
<path d="M47 439V606.6H210.6" fill="none" stroke="#000" stroke-width="1.4"/>
<path d="M47.00 606.60v3.6M79.72 606.60v3.6M112.44 606.60v3.6M145.16 606.60v3.6M177.88 606.60v3.6M210.60 606.60v3.6M47.00 606.60h-4.0M47.00 564.70h-4.0M47.00 522.80h-4.0M47.00 480.90h-4.0M47.00 439.00h-4.0" stroke="#000" stroke-width="1.4"/>
<text x="47.0" y="626.1" font-size="13" text-anchor="middle">0</text>
<text x="79.7" y="626.1" font-size="13" text-anchor="middle">7</text>
<text x="112.4" y="626.1" font-size="13" text-anchor="middle">14</text>
<text x="145.2" y="626.1" font-size="13" text-anchor="middle">21</text>
<text x="177.9" y="626.1" font-size="13" text-anchor="middle">28</text>
<text x="210.6" y="626.1" font-size="13" text-anchor="middle">35</text>
<text x="36.0" y="611.2" font-size="13" text-anchor="end">-4</text>
<text x="36.0" y="569.3" font-size="13" text-anchor="end">0</text>
<text x="36.0" y="527.4" font-size="13" text-anchor="end">4</text>
<text x="36.0" y="485.5" font-size="13" text-anchor="end">8</text>
<text x="36.0" y="443.6" font-size="13" text-anchor="end">12</text>
<text x="128.8" y="643.8" font-size="13" text-anchor="middle">clay content (%)</text>
<text transform="translate(16.3 522.4) rotate(-90)" font-size="13" text-anchor="middle">influence on EF (%)</text>
<text x="0.5" y="442" font-size="14" font-weight="bold">g</text>
<path d="M279 439V606.6H446.4" fill="none" stroke="#000" stroke-width="1.4"/>
<path d="M279.00 606.60v3.6M312.48 606.60v3.6M345.96 606.60v3.6M379.44 606.60v3.6M412.92 606.60v3.6M446.40 606.60v3.6M279.00 606.60h-4.0M279.00 564.70h-4.0M279.00 522.80h-4.0M279.00 480.90h-4.0M279.00 439.00h-4.0" stroke="#000" stroke-width="1.4"/>
<text x="279.0" y="626.1" font-size="13" text-anchor="middle">0</text>
<text x="312.5" y="626.1" font-size="13" text-anchor="middle">7</text>
<text x="346.0" y="626.1" font-size="13" text-anchor="middle">14</text>
<text x="379.4" y="626.1" font-size="13" text-anchor="middle">21</text>
<text x="412.9" y="626.1" font-size="13" text-anchor="middle">28</text>
<text x="446.4" y="626.1" font-size="13" text-anchor="middle">35</text>
<text x="268.0" y="611.2" font-size="13" text-anchor="end">-4</text>
<text x="268.0" y="569.3" font-size="13" text-anchor="end">0</text>
<text x="268.0" y="527.4" font-size="13" text-anchor="end">4</text>
<text x="268.0" y="485.5" font-size="13" text-anchor="end">8</text>
<text x="268.0" y="443.6" font-size="13" text-anchor="end">12</text>
<text x="362.7" y="643.8" font-size="13" text-anchor="middle">CEC (cmol kg<tspan dy="-4" font-size="8">-1</tspan><tspan dy="4">)</tspan></text>
<text transform="translate(248.0 522.5) rotate(-90)" font-size="13" text-anchor="middle">influence on EF (%)</text>
<text x="227.6" y="442" font-size="14" font-weight="bold">h</text>
<path d="M504.4 439V606.6H665" fill="none" stroke="#000" stroke-width="1.4"/>
<path d="M504.40 606.60v3.6M544.55 606.60v3.6M584.70 606.60v3.6M624.85 606.60v3.6M665.00 606.60v3.6M504.40 606.60h-4.0M504.40 564.70h-4.0M504.40 522.80h-4.0M504.40 480.90h-4.0M504.40 439.00h-4.0" stroke="#000" stroke-width="1.4"/>
<text x="504.4" y="626.1" font-size="13" text-anchor="middle">0</text>
<text x="544.5" y="626.1" font-size="13" text-anchor="middle">500</text>
<text x="584.7" y="626.1" font-size="13" text-anchor="middle">1000</text>
<text x="624.9" y="626.1" font-size="13" text-anchor="middle">1500</text>
<text x="665.0" y="626.1" font-size="13" text-anchor="middle">2000</text>
<text x="493.4" y="611.2" font-size="13" text-anchor="end">-4</text>
<text x="493.4" y="569.3" font-size="13" text-anchor="end">0</text>
<text x="493.4" y="527.4" font-size="13" text-anchor="end">4</text>
<text x="493.4" y="485.5" font-size="13" text-anchor="end">8</text>
<text x="493.4" y="443.6" font-size="13" text-anchor="end">12</text>
<text x="584.7" y="643.8" font-size="13" text-anchor="middle">water input (mm)</text>
<text transform="translate(473.8 522.5) rotate(-90)" font-size="13" text-anchor="middle">influence on EF (%)</text>
<text x="454.6" y="442" font-size="14" font-weight="bold">i</text>
<path d="M67.9 87.9C70.5 89.2 78.9 93.6 83.4 95.8C87.9 98 91.1 99.5 95 101C98.9 102.5 102.8 103.8 106.7 105.1C110.6 106.4 114.5 107.6 118.4 108.6C122.3 109.6 125.7 110.2 130.1 110.9C134.5 111.6 140.3 112.4 145 112.9C149.7 113.4 154.7 113.5 158.1 113.7C161.5 113.9 162.4 114 165.5 113.9C168.6 113.8 172.7 113.6 176.8 113.3C180.9 113 185.3 112.8 190 112.3C194.7 111.8 202.4 110.9 204.9 110.6" fill="none" stroke="#111" stroke-width="1.5" stroke-linecap="round"/>
<path d="M314.9 86.7C317.2 88.4 323.7 93.8 328.5 96.8C333.3 99.8 338.3 103.1 343.8 104.9C349.3 106.7 356.1 107.2 361.3 107.7C366.5 108.2 370.6 107.7 375 107.6C379.4 107.5 382.6 106.9 387.6 107.1C392.6 107.3 400 107.5 405.1 108.6C410.2 109.7 414.2 111.5 418.2 113.6C422.2 115.7 425.9 118.5 429.2 121.3C432.5 124 436.4 128.6 437.9 130.1" fill="none" stroke="#111" stroke-width="1.5" stroke-linecap="round"/>
<path d="M521.9 110.7C524 109.5 530.6 105 534.8 103.3C539 101.6 543.1 101 547.2 100.8C551.3 100.6 555.1 100.8 559.6 102C564.1 103.2 569.5 106.1 574.5 108.2C579.5 110.3 584.4 112.7 589.4 114.4C594.4 116.1 600.2 117.7 604.3 118.2C608.4 118.8 610.9 118.5 614.2 117.7C617.5 116.9 620.8 115.4 624.1 113.2C627.4 111 630.8 108.4 634.1 104.5C637.4 100.6 641.1 94.3 644 89.6C646.9 84.8 649 81.7 651.4 76C653.8 70.3 657.2 58.8 658.4 55.4" fill="none" stroke="#111" stroke-width="1.5" stroke-linecap="round"/>
<path d="M279 319.5C280.6 320.8 285.6 324.6 288.9 327.4C292.2 330.2 295.5 333.7 298.8 336.3C302.1 338.9 305.4 341.1 308.7 343.2C312 345.3 315.3 347.6 318.6 349.2C321.9 350.8 325.2 351.9 328.5 352.7C331.8 353.5 334.9 353.9 338.5 354.1C342.1 354.4 346.4 354.3 350 354.2C353.6 354.1 357.2 353.8 360 353.6C362.8 353.4 364.8 353.3 367 353.1C369.2 352.9 371.2 352.1 373.1 352.3C375 352.5 376.4 353.9 378.2 354.5C380 355.1 382.3 355.6 384.1 355.7C385.9 355.8 387.6 355.4 389.2 355C390.8 354.6 392 354.5 393.6 353.5C395.2 352.5 397 350.4 398.7 348.8C400.4 347.2 402.4 345.1 403.8 343.6C405.2 342.1 405.8 341.5 407.1 339.6C408.5 337.7 410.2 335.4 411.9 332.3C413.6 329.2 415.6 325.2 417.3 321.3C419 317.4 420.6 313.3 422.1 309C423.6 304.7 424.9 300.1 426.3 295.3C427.7 290.5 429.1 285.5 430.4 280.2C431.7 274.9 432.9 269 434.1 263.7C435.3 258.4 436.4 253.1 437.5 248.5C438.6 243.9 439.6 240.5 440.6 236.3C441.7 232.1 443.3 225.6 443.8 223.4" fill="none" stroke="#111" stroke-width="1.5" stroke-linecap="round"/>
<path d="M509.1 350.7C510.9 351.6 516.6 354.9 519.6 356.2C522.6 357.5 524.6 357.9 527 358.4C529.4 358.9 531.8 359.1 534.2 359.1C536.6 359.1 539.5 358.9 541.5 358.2C543.5 357.5 544.4 356.6 545.9 355C547.4 353.4 548.6 350.7 550.3 348.5C552 346.3 553.9 343.7 556.1 341.9C558.3 340.1 559.8 338.8 563.4 337.5C567 336.2 573.1 334.8 578 333.9C582.9 333 588.1 332.6 592.6 332C597.1 331.4 599.1 331.2 605 330.5C610.9 329.8 620.8 328.6 628 327.8C635.2 327 641.3 326.4 648 325.8C654.7 325.2 664.7 324.5 668 324.2" fill="none" stroke="#111" stroke-width="1.5" stroke-linecap="round"/>
<path d="M53.3 535C57.8 536.7 71.1 541.8 80 545.1C88.9 548.4 97.8 551.7 106.7 555C115.6 558.3 125.8 562.4 133.3 564.9C140.9 567.4 146.7 568.5 152 569.7C157.3 570.9 160.9 571.8 165.3 572.3C169.8 572.8 173.8 572.9 178.7 572.9C183.6 572.9 189.4 572.5 194.7 572.3C200 572.1 208 571.6 210.7 571.5" fill="none" stroke="#111" stroke-width="1.5" stroke-linecap="round"/>
<path d="M281.1 442.7C281.7 445 283.6 451.8 284.8 456.4C286 460.9 286.9 464.7 288.5 470C290.1 475.3 292.2 482.2 294.1 488.3C296 494.4 297.9 501.4 299.6 506.6C301.3 511.8 302.7 515.6 304.2 519.4C305.7 523.2 307.1 526.1 308.8 529.5C310.5 532.9 312.4 536.2 314.4 539.5C316.3 542.8 318.2 546.1 320.5 549.5C322.8 552.9 325.6 557 328.1 559.8C330.6 562.5 333.2 564.4 335.7 566C338.2 567.6 340.9 568.7 343.3 569.5C345.7 570.3 347.2 570.5 350 570.8C352.8 571.1 356.1 571.6 360 571.5C363.9 571.4 368.7 570.9 373.1 570C377.5 569.1 381.9 567.3 386.3 566C390.7 564.7 395 563.4 399.4 562.3C403.8 561.2 408.2 560.4 412.6 559.4C417 558.4 421.3 557.3 425.7 556.4C430.1 555.5 435.3 554.8 438.8 554.2C442.3 553.6 445.4 553.1 446.7 552.9" fill="none" stroke="#111" stroke-width="1.5" stroke-linecap="round"/>
<path d="M506 544C507.5 545.2 511.8 548.5 515 551C518.2 553.5 521.7 556.5 525 559C528.3 561.5 531.7 564.4 535 566C538.3 567.6 541.7 568.1 545 568.6C548.3 569.1 551.7 569.3 555 569C558.3 568.7 561.7 567.5 565 567C568.3 566.5 570.5 566.3 575 566C579.5 565.7 586.5 565.8 592 565C597.5 564.2 602 562.3 608 561C614 559.7 621.3 557.8 628 557C634.7 556.2 641.8 556.1 648 556C654.2 555.9 662.2 556.3 665 556.4" fill="none" stroke="#111" stroke-width="1.5" stroke-linecap="round"/>
<circle cx="59.6" cy="362.7" r="4.1" fill="#bdd7ee" stroke="#4e8fd1" stroke-width="1.3"/>
<text x="67.8" y="365.6" font-size="11">temperature</text>
<circle cx="73.6" cy="293.1" r="4.1" fill="#bdd7ee" stroke="#4e8fd1" stroke-width="1.3"/>
<text x="81.9" y="294.3" font-size="11">water input</text>
<circle cx="87.6" cy="307.0" r="4.1" fill="#bdd7ee" stroke="#4e8fd1" stroke-width="1.3"/>
<text x="94.2" y="310.7" font-size="11">CEC</text>
<circle cx="101.6" cy="334.9" r="4.1" fill="#bdd7ee" stroke="#4e8fd1" stroke-width="1.3"/>
<text x="108.4" y="339.6" font-size="11">SOC</text>
<circle cx="143.6" cy="320.9" r="4.1" fill="#bdd7ee" stroke="#4e8fd1" stroke-width="1.3"/>
<text x="151.4" y="323.9" font-size="11">clay</text>
<circle cx="157.6" cy="265.2" r="4.1" fill="#c5e0b4" stroke="#4e8fd1" stroke-width="1.3"/>
<text x="166" y="267.5" font-size="11">pH</text>
</svg></body></html>
